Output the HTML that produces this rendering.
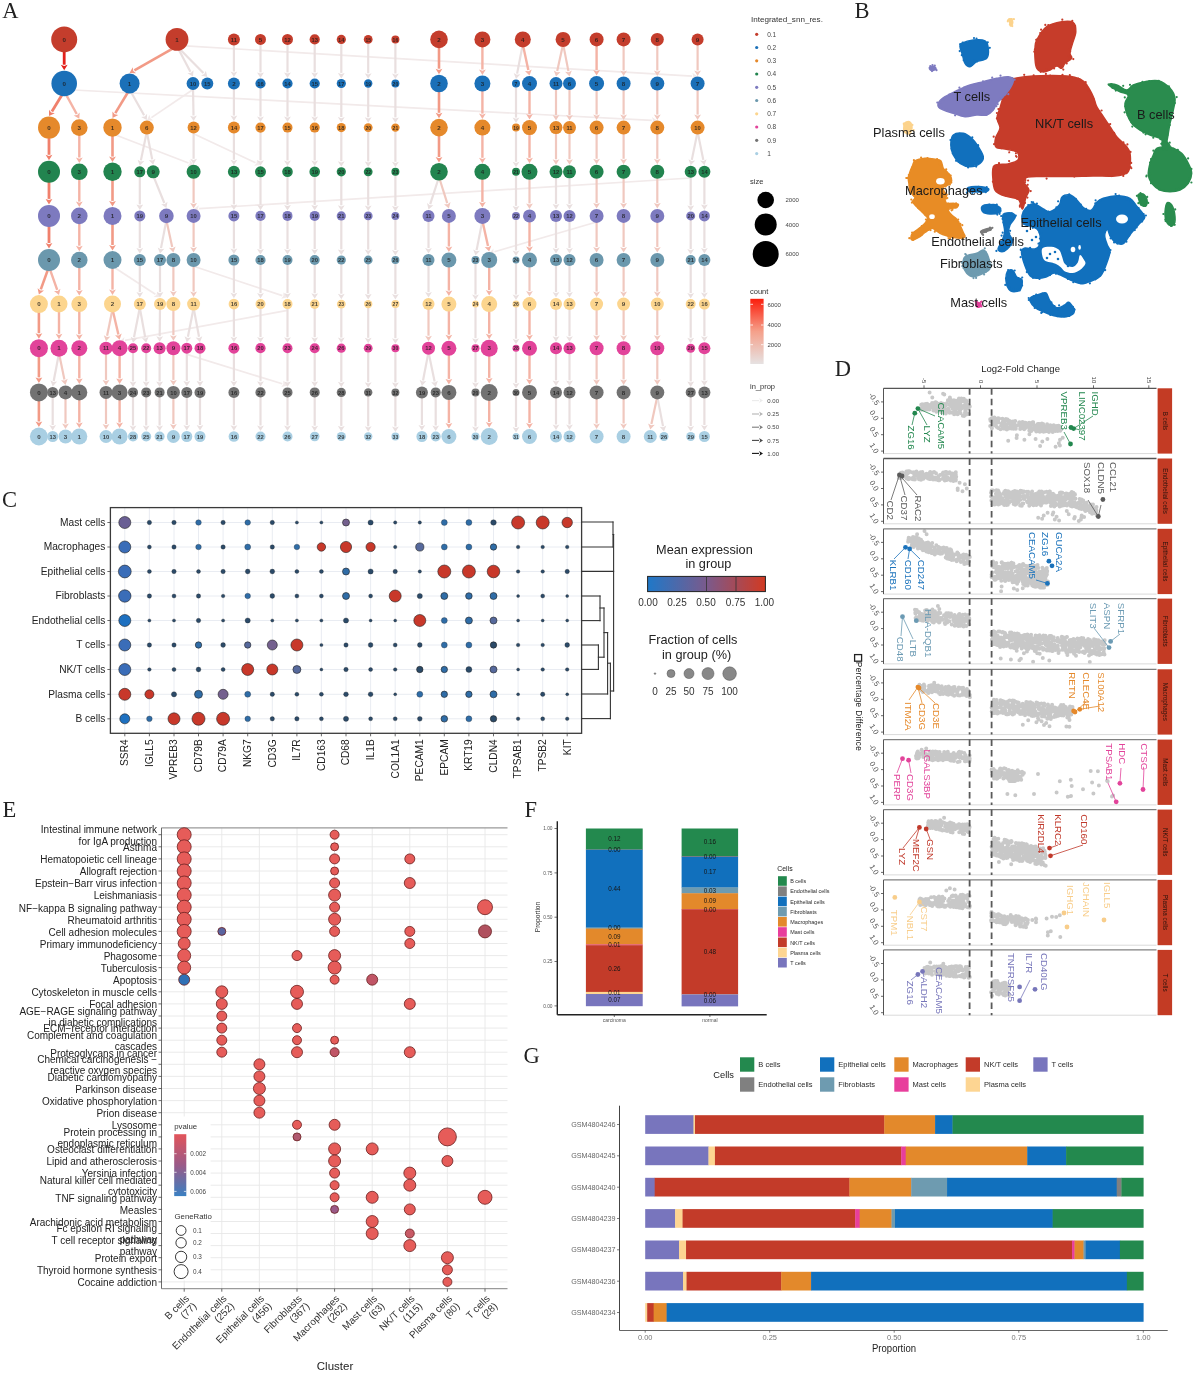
<!DOCTYPE html>
<html><head><meta charset="utf-8"><style>html,body{margin:0;padding:0;background:#fff;}svg{display:block;filter:blur(0.45px);}</style></head>
<body><svg width="1200" height="1384" viewBox="0 0 1200 1384" font-family="Liberation Sans, sans-serif">
<rect width="1200" height="1384" fill="#fff"/>
<g id="panelA">
<line x1="177.0" y1="45.4" x2="692.1" y2="76.2" stroke="#f2eaea" stroke-width="1.7"/><polygon points="697.6,76.5 691.9,79.6 693.3,76.2 692.3,72.8" fill="#f2eaea"/>
<line x1="64.2" y1="89.5" x2="651.8" y2="120.4" stroke="#f2eaea" stroke-width="1.7"/><polygon points="657.3,120.7 651.6,123.8 653.0,120.5 652.0,117.0" fill="#f2eaea"/>
<line x1="193.0" y1="89.5" x2="151.4" y2="117.6" stroke="#f2eaea" stroke-width="1.7"/><polygon points="146.8,120.7 149.4,114.8 150.4,118.3 153.3,120.4" fill="#f2eaea"/>
<line x1="112.5" y1="133.7" x2="188.5" y2="163.0" stroke="#f2eaea" stroke-width="1.7"/><polygon points="193.6,165.0 187.2,166.2 189.6,163.5 189.7,159.8" fill="#f2eaea"/>
<line x1="193.6" y1="133.7" x2="255.5" y2="162.7" stroke="#f2eaea" stroke-width="1.7"/><polygon points="260.5,165.0 254.1,165.8 256.6,163.2 257.0,159.6" fill="#f2eaea"/>
<line x1="690.7" y1="178.0" x2="199.1" y2="208.7" stroke="#f2eaea" stroke-width="1.7"/><polygon points="193.6,209.0 198.9,205.3 197.9,208.7 199.3,212.1" fill="#f2eaea"/>
<line x1="596.6" y1="222.0" x2="494.5" y2="251.7" stroke="#f2eaea" stroke-width="1.7"/><polygon points="489.2,253.2 493.5,248.4 493.3,252.0 495.4,254.9" fill="#f2eaea"/>
<line x1="112.5" y1="266.2" x2="155.4" y2="294.3" stroke="#f2eaea" stroke-width="1.7"/><polygon points="160.0,297.3 153.5,297.1 156.4,294.9 157.3,291.4" fill="#f2eaea"/>
<line x1="193.6" y1="266.2" x2="282.3" y2="295.6" stroke="#f2eaea" stroke-width="1.7"/><polygon points="287.5,297.3 281.2,298.8 283.4,295.9 283.4,292.3" fill="#f2eaea"/>
<line x1="287.5" y1="310.3" x2="125.0" y2="340.4" stroke="#f2eaea" stroke-width="1.7"/><polygon points="119.6,341.4 124.4,337.0 123.8,340.6 125.6,343.8" fill="#f2eaea"/>
<line x1="186.8" y1="354.4" x2="282.2" y2="383.8" stroke="#f2eaea" stroke-width="1.7"/><polygon points="287.5,385.4 281.2,387.0 283.4,384.1 283.2,380.5" fill="#f2eaea"/>
<line x1="64.2" y1="47.2" x2="64.2" y2="64.7" stroke="#e3201b" stroke-width="2.8"/><polygon points="64.2,70.2 60.8,64.7 64.2,65.9 67.6,64.7" fill="#e3201b"/>
<line x1="177.0" y1="46.2" x2="134.4" y2="70.3" stroke="#f29a86" stroke-width="2.6"/><polygon points="129.6,73.0 132.7,67.3 133.3,70.9 136.1,73.3" fill="#f29a86"/>
<line x1="177.0" y1="46.2" x2="190.4" y2="71.8" stroke="#e9dfdf" stroke-width="2.2"/><polygon points="193.0,76.6 187.4,73.3 191.0,72.8 193.5,70.2" fill="#e9dfdf"/>
<line x1="177.0" y1="46.2" x2="203.4" y2="73.1" stroke="#e9dfdf" stroke-width="2.2"/><polygon points="207.3,77.0 201.0,75.5 204.3,74.0 205.9,70.7" fill="#e9dfdf"/>
<line x1="233.9" y1="43.0" x2="233.9" y2="71.5" stroke="#e9dfdf" stroke-width="2.2"/><polygon points="233.9,77.0 230.5,71.5 233.9,72.7 237.3,71.5" fill="#e9dfdf"/>
<line x1="260.5" y1="42.7" x2="260.5" y2="72.4" stroke="#e9dfdf" stroke-width="2.2"/><polygon points="260.5,77.9 257.1,72.4 260.5,73.6 263.9,72.4" fill="#e9dfdf"/>
<line x1="287.5" y1="42.7" x2="287.5" y2="72.4" stroke="#e9dfdf" stroke-width="2.2"/><polygon points="287.5,77.9 284.1,72.4 287.5,73.6 290.9,72.4" fill="#e9dfdf"/>
<line x1="314.7" y1="42.5" x2="314.7" y2="72.4" stroke="#e9dfdf" stroke-width="2.2"/><polygon points="314.7,77.9 311.3,72.4 314.7,73.6 318.1,72.4" fill="#e9dfdf"/>
<line x1="341.3" y1="42.2" x2="341.3" y2="72.9" stroke="#e9dfdf" stroke-width="2.2"/><polygon points="341.3,78.4 337.9,72.9 341.3,74.1 344.7,72.9" fill="#e9dfdf"/>
<line x1="368.2" y1="42.0" x2="368.2" y2="73.3" stroke="#e9dfdf" stroke-width="2.2"/><polygon points="368.2,78.8 364.8,73.3 368.2,74.5 371.6,73.3" fill="#e9dfdf"/>
<line x1="395.4" y1="41.8" x2="395.4" y2="73.5" stroke="#e9dfdf" stroke-width="2.2"/><polygon points="395.4,79.0 392.0,73.5 395.4,74.7 398.8,73.5" fill="#e9dfdf"/>
<line x1="439.0" y1="44.7" x2="439.0" y2="68.7" stroke="#f29a86" stroke-width="2.6"/><polygon points="439.0,74.2 435.6,68.7 439.0,69.9 442.4,68.7" fill="#f29a86"/>
<line x1="482.4" y1="44.2" x2="482.4" y2="69.5" stroke="#f4b3a5" stroke-width="2.4"/><polygon points="482.4,75.0 479.0,69.5 482.4,70.7 485.8,69.5" fill="#f4b3a5"/>
<line x1="522.8" y1="44.2" x2="517.1" y2="73.6" stroke="#e9dfdf" stroke-width="2.2"/><polygon points="516.0,79.0 513.7,73.0 516.8,74.8 520.4,74.3" fill="#e9dfdf"/>
<line x1="522.8" y1="44.2" x2="528.3" y2="70.1" stroke="#f4b3a5" stroke-width="2.4"/><polygon points="529.5,75.5 525.0,70.9 528.6,71.3 531.7,69.4" fill="#f4b3a5"/>
<line x1="563.1" y1="43.9" x2="557.2" y2="71.1" stroke="#f0c8bf" stroke-width="2.2"/><polygon points="556.0,76.5 553.8,70.4 556.9,72.3 560.5,71.9" fill="#f0c8bf"/>
<line x1="563.1" y1="43.9" x2="568.4" y2="71.1" stroke="#f0c8bf" stroke-width="2.2"/><polygon points="569.5,76.5 565.1,71.8 568.7,72.3 571.8,70.5" fill="#f0c8bf"/>
<line x1="596.6" y1="43.6" x2="596.6" y2="70.0" stroke="#f4b3a5" stroke-width="2.4"/><polygon points="596.6,75.5 593.2,70.0 596.6,71.2 600.0,70.0" fill="#f4b3a5"/>
<line x1="623.6" y1="43.6" x2="623.6" y2="70.5" stroke="#f0c8bf" stroke-width="2.2"/><polygon points="623.6,76.0 620.2,70.5 623.6,71.7 627.0,70.5" fill="#f0c8bf"/>
<line x1="657.3" y1="43.3" x2="657.3" y2="70.5" stroke="#f0c8bf" stroke-width="2.2"/><polygon points="657.3,76.0 653.9,70.5 657.3,71.7 660.7,70.5" fill="#f0c8bf"/>
<line x1="697.6" y1="43.0" x2="697.6" y2="70.5" stroke="#f0c8bf" stroke-width="2.2"/><polygon points="697.6,76.0 694.2,70.5 697.6,71.7 701.0,70.5" fill="#f0c8bf"/>
<line x1="64.2" y1="91.2" x2="51.9" y2="111.4" stroke="#f0806c" stroke-width="2.8"/><polygon points="49.0,116.1 49.0,109.7 51.2,112.5 54.8,113.2" fill="#f0806c"/>
<line x1="64.2" y1="91.2" x2="76.7" y2="114.0" stroke="#f4b3a5" stroke-width="2.4"/><polygon points="79.3,118.8 73.7,115.6 77.2,115.1 79.7,112.4" fill="#f4b3a5"/>
<line x1="129.6" y1="89.5" x2="115.3" y2="113.2" stroke="#f29a86" stroke-width="2.6"/><polygon points="112.5,117.9 112.4,111.5 114.7,114.3 118.3,115.0" fill="#f29a86"/>
<line x1="129.6" y1="89.5" x2="144.1" y2="115.3" stroke="#e9dfdf" stroke-width="2.2"/><polygon points="146.8,120.1 141.1,117.0 144.7,116.4 147.1,113.7" fill="#e9dfdf"/>
<line x1="193.0" y1="87.4" x2="193.5" y2="115.6" stroke="#e9dfdf" stroke-width="2.2"/><polygon points="193.6,121.1 190.1,115.7 193.5,116.8 196.9,115.6" fill="#e9dfdf"/>
<line x1="233.9" y1="87.1" x2="233.9" y2="115.6" stroke="#e9dfdf" stroke-width="2.2"/><polygon points="233.9,121.1 230.5,115.6 233.9,116.8 237.3,115.6" fill="#e9dfdf"/>
<line x1="260.5" y1="86.6" x2="260.5" y2="116.5" stroke="#e9dfdf" stroke-width="2.2"/><polygon points="260.5,122.0 257.1,116.5 260.5,117.7 263.9,116.5" fill="#e9dfdf"/>
<line x1="287.5" y1="86.6" x2="287.5" y2="116.6" stroke="#e9dfdf" stroke-width="2.2"/><polygon points="287.5,122.1 284.1,116.6 287.5,117.8 290.9,116.6" fill="#e9dfdf"/>
<line x1="314.7" y1="86.6" x2="314.7" y2="116.6" stroke="#e9dfdf" stroke-width="2.2"/><polygon points="314.7,122.1 311.3,116.6 314.7,117.8 318.1,116.6" fill="#e9dfdf"/>
<line x1="341.3" y1="86.3" x2="341.3" y2="117.0" stroke="#e9dfdf" stroke-width="2.2"/><polygon points="341.3,122.5 337.9,117.0 341.3,118.2 344.7,117.0" fill="#e9dfdf"/>
<line x1="368.2" y1="86.0" x2="368.2" y2="117.2" stroke="#e9dfdf" stroke-width="2.2"/><polygon points="368.2,122.7 364.8,117.2 368.2,118.4 371.6,117.2" fill="#e9dfdf"/>
<line x1="395.4" y1="85.9" x2="395.4" y2="117.4" stroke="#e9dfdf" stroke-width="2.2"/><polygon points="395.4,122.9 392.0,117.4 395.4,118.6 398.8,117.4" fill="#e9dfdf"/>
<line x1="439.0" y1="88.8" x2="439.0" y2="112.8" stroke="#f29a86" stroke-width="2.6"/><polygon points="439.0,118.3 435.6,112.8 439.0,114.0 442.4,112.8" fill="#f29a86"/>
<line x1="482.4" y1="88.3" x2="482.4" y2="113.6" stroke="#f4b3a5" stroke-width="2.4"/><polygon points="482.4,119.1 479.0,113.6 482.4,114.8 485.8,113.6" fill="#f4b3a5"/>
<line x1="516.0" y1="85.9" x2="516.0" y2="117.6" stroke="#e9dfdf" stroke-width="2.2"/><polygon points="516.0,123.1 512.6,117.6 516.0,118.8 519.4,117.6" fill="#e9dfdf"/>
<line x1="529.5" y1="88.0" x2="529.5" y2="114.1" stroke="#f4b3a5" stroke-width="2.4"/><polygon points="529.5,119.6 526.1,114.1 529.5,115.3 532.9,114.1" fill="#f4b3a5"/>
<line x1="556.0" y1="87.4" x2="556.0" y2="115.1" stroke="#f0c8bf" stroke-width="2.2"/><polygon points="556.0,120.6 552.6,115.1 556.0,116.3 559.4,115.1" fill="#f0c8bf"/>
<line x1="569.5" y1="87.4" x2="569.5" y2="115.1" stroke="#f0c8bf" stroke-width="2.2"/><polygon points="569.5,120.6 566.1,115.1 569.5,116.3 572.9,115.1" fill="#f0c8bf"/>
<line x1="596.6" y1="88.0" x2="596.6" y2="114.6" stroke="#f0c8bf" stroke-width="2.2"/><polygon points="596.6,120.1 593.2,114.6 596.6,115.8 600.0,114.6" fill="#f0c8bf"/>
<line x1="623.6" y1="87.7" x2="623.6" y2="114.6" stroke="#f0c8bf" stroke-width="2.2"/><polygon points="623.6,120.1 620.2,114.6 623.6,115.8 627.0,114.6" fill="#f0c8bf"/>
<line x1="657.3" y1="87.7" x2="657.3" y2="114.6" stroke="#f0c8bf" stroke-width="2.2"/><polygon points="657.3,120.1 653.9,114.6 657.3,115.8 660.7,114.6" fill="#f0c8bf"/>
<line x1="697.6" y1="87.7" x2="697.6" y2="114.6" stroke="#f0c8bf" stroke-width="2.2"/><polygon points="697.6,120.1 694.2,114.6 697.6,115.8 701.0,114.6" fill="#f0c8bf"/>
<line x1="49.0" y1="134.2" x2="49.0" y2="154.8" stroke="#f0806c" stroke-width="2.8"/><polygon points="49.0,160.3 45.6,154.8 49.0,156.0 52.4,154.8" fill="#f0806c"/>
<line x1="79.3" y1="132.6" x2="79.3" y2="157.5" stroke="#f4b3a5" stroke-width="2.4"/><polygon points="79.3,163.0 75.9,157.5 79.3,158.7 82.7,157.5" fill="#f4b3a5"/>
<line x1="112.5" y1="133.2" x2="112.5" y2="156.6" stroke="#f29a86" stroke-width="2.6"/><polygon points="112.5,162.1 109.1,156.6 112.5,157.8 115.9,156.6" fill="#f29a86"/>
<line x1="146.8" y1="131.8" x2="140.9" y2="160.4" stroke="#e9dfdf" stroke-width="2.2"/><polygon points="139.8,165.8 137.6,159.7 140.7,161.5 144.3,161.1" fill="#e9dfdf"/>
<line x1="146.8" y1="131.8" x2="152.2" y2="159.4" stroke="#e9dfdf" stroke-width="2.2"/><polygon points="153.2,164.8 148.8,160.0 152.4,160.5 155.5,158.7" fill="#e9dfdf"/>
<line x1="193.6" y1="131.2" x2="193.6" y2="158.8" stroke="#e9dfdf" stroke-width="2.2"/><polygon points="193.6,164.3 190.2,158.8 193.6,160.0 197.0,158.8" fill="#e9dfdf"/>
<line x1="233.9" y1="131.2" x2="233.9" y2="159.8" stroke="#e9dfdf" stroke-width="2.2"/><polygon points="233.9,165.3 230.5,159.8 233.9,161.0 237.3,159.8" fill="#e9dfdf"/>
<line x1="260.5" y1="130.7" x2="260.5" y2="160.3" stroke="#e9dfdf" stroke-width="2.2"/><polygon points="260.5,165.8 257.1,160.3 260.5,161.5 263.9,160.3" fill="#e9dfdf"/>
<line x1="287.5" y1="130.6" x2="287.5" y2="160.5" stroke="#e9dfdf" stroke-width="2.2"/><polygon points="287.5,166.0 284.1,160.5 287.5,161.7 290.9,160.5" fill="#e9dfdf"/>
<line x1="314.7" y1="130.6" x2="314.7" y2="160.5" stroke="#e9dfdf" stroke-width="2.2"/><polygon points="314.7,166.0 311.3,160.5 314.7,161.7 318.1,160.5" fill="#e9dfdf"/>
<line x1="341.3" y1="130.4" x2="341.3" y2="161.2" stroke="#e9dfdf" stroke-width="2.2"/><polygon points="341.3,166.7 337.9,161.2 341.3,162.4 344.7,161.2" fill="#e9dfdf"/>
<line x1="368.2" y1="130.3" x2="368.2" y2="161.4" stroke="#e9dfdf" stroke-width="2.2"/><polygon points="368.2,166.9 364.8,161.4 368.2,162.6 371.6,161.4" fill="#e9dfdf"/>
<line x1="395.4" y1="130.2" x2="395.4" y2="161.8" stroke="#e9dfdf" stroke-width="2.2"/><polygon points="395.4,167.3 392.0,161.8 395.4,163.0 398.8,161.8" fill="#e9dfdf"/>
<line x1="439.0" y1="132.9" x2="439.0" y2="157.0" stroke="#f29a86" stroke-width="2.6"/><polygon points="439.0,162.5 435.6,157.0 439.0,158.2 442.4,157.0" fill="#f29a86"/>
<line x1="482.4" y1="132.4" x2="482.4" y2="157.8" stroke="#f4b3a5" stroke-width="2.4"/><polygon points="482.4,163.3 479.0,157.8 482.4,159.0 485.8,157.8" fill="#f4b3a5"/>
<line x1="516.0" y1="130.0" x2="516.0" y2="161.8" stroke="#e9dfdf" stroke-width="2.2"/><polygon points="516.0,167.3 512.6,161.8 516.0,163.0 519.4,161.8" fill="#e9dfdf"/>
<line x1="529.5" y1="132.1" x2="529.5" y2="157.8" stroke="#f4b3a5" stroke-width="2.4"/><polygon points="529.5,163.3 526.1,157.8 529.5,159.0 532.9,157.8" fill="#f4b3a5"/>
<line x1="556.0" y1="131.5" x2="556.0" y2="159.3" stroke="#f0c8bf" stroke-width="2.2"/><polygon points="556.0,164.8 552.6,159.3 556.0,160.5 559.4,159.3" fill="#f0c8bf"/>
<line x1="569.5" y1="131.5" x2="569.5" y2="159.3" stroke="#f0c8bf" stroke-width="2.2"/><polygon points="569.5,164.8 566.1,159.3 569.5,160.5 572.9,159.3" fill="#f0c8bf"/>
<line x1="596.6" y1="131.8" x2="596.6" y2="158.8" stroke="#f0c8bf" stroke-width="2.2"/><polygon points="596.6,164.3 593.2,158.8 596.6,160.0 600.0,158.8" fill="#f0c8bf"/>
<line x1="623.6" y1="131.8" x2="623.6" y2="158.8" stroke="#f0c8bf" stroke-width="2.2"/><polygon points="623.6,164.3 620.2,158.8 623.6,160.0 627.0,158.8" fill="#f0c8bf"/>
<line x1="657.3" y1="131.8" x2="657.3" y2="158.8" stroke="#f0c8bf" stroke-width="2.2"/><polygon points="657.3,164.3 653.9,158.8 657.3,160.0 660.7,158.8" fill="#f0c8bf"/>
<line x1="697.6" y1="131.8" x2="691.8" y2="159.9" stroke="#e9dfdf" stroke-width="2.2"/><polygon points="690.7,165.3 688.5,159.2 691.6,161.0 695.2,160.6" fill="#e9dfdf"/>
<line x1="697.6" y1="131.8" x2="703.3" y2="159.9" stroke="#e9dfdf" stroke-width="2.2"/><polygon points="704.4,165.3 700.0,160.6 703.5,161.0 706.6,159.2" fill="#e9dfdf"/>
<line x1="49.0" y1="178.4" x2="49.0" y2="198.9" stroke="#f0806c" stroke-width="2.8"/><polygon points="49.0,204.4 45.6,198.9 49.0,200.1 52.4,198.9" fill="#f0806c"/>
<line x1="79.3" y1="176.7" x2="79.3" y2="201.6" stroke="#f4b3a5" stroke-width="2.4"/><polygon points="79.3,207.1 75.9,201.6 79.3,202.8 82.7,201.6" fill="#f4b3a5"/>
<line x1="112.5" y1="177.3" x2="112.5" y2="200.9" stroke="#f29a86" stroke-width="2.6"/><polygon points="112.5,206.4 109.1,200.9 112.5,202.1 115.9,200.9" fill="#f29a86"/>
<line x1="139.8" y1="175.1" x2="139.8" y2="204.4" stroke="#e9dfdf" stroke-width="2.2"/><polygon points="139.8,209.9 136.4,204.4 139.8,205.6 143.2,204.4" fill="#e9dfdf"/>
<line x1="153.2" y1="175.7" x2="164.3" y2="203.0" stroke="#e9dfdf" stroke-width="2.2"/><polygon points="166.4,208.1 161.2,204.3 164.8,204.1 167.5,201.7" fill="#e9dfdf"/>
<line x1="193.6" y1="176.0" x2="193.6" y2="202.9" stroke="#f0c8bf" stroke-width="2.2"/><polygon points="193.6,208.4 190.2,202.9 193.6,204.1 197.0,202.9" fill="#f0c8bf"/>
<line x1="233.9" y1="175.4" x2="233.9" y2="204.4" stroke="#e9dfdf" stroke-width="2.2"/><polygon points="233.9,209.9 230.5,204.4 233.9,205.6 237.3,204.4" fill="#e9dfdf"/>
<line x1="260.5" y1="175.1" x2="260.5" y2="204.8" stroke="#e9dfdf" stroke-width="2.2"/><polygon points="260.5,210.3 257.1,204.8 260.5,206.0 263.9,204.8" fill="#e9dfdf"/>
<line x1="287.5" y1="174.9" x2="287.5" y2="204.9" stroke="#e9dfdf" stroke-width="2.2"/><polygon points="287.5,210.4 284.1,204.9 287.5,206.1 290.9,204.9" fill="#e9dfdf"/>
<line x1="314.7" y1="174.9" x2="314.7" y2="204.9" stroke="#e9dfdf" stroke-width="2.2"/><polygon points="314.7,210.4 311.3,204.9 314.7,206.1 318.1,204.9" fill="#e9dfdf"/>
<line x1="341.3" y1="174.5" x2="341.3" y2="205.3" stroke="#e9dfdf" stroke-width="2.2"/><polygon points="341.3,210.8 337.9,205.3 341.3,206.5 344.7,205.3" fill="#e9dfdf"/>
<line x1="368.2" y1="174.4" x2="368.2" y2="205.5" stroke="#e9dfdf" stroke-width="2.2"/><polygon points="368.2,211.0 364.8,205.5 368.2,206.7 371.6,205.5" fill="#e9dfdf"/>
<line x1="395.4" y1="174.2" x2="395.4" y2="205.9" stroke="#e9dfdf" stroke-width="2.2"/><polygon points="395.4,211.4 392.0,205.9 395.4,207.1 398.8,205.9" fill="#e9dfdf"/>
<line x1="439.0" y1="177.0" x2="430.2" y2="204.1" stroke="#e9dfdf" stroke-width="2.2"/><polygon points="428.5,209.4 427.0,203.1 429.8,205.3 433.4,205.2" fill="#e9dfdf"/>
<line x1="439.0" y1="177.0" x2="447.2" y2="203.1" stroke="#f0c8bf" stroke-width="2.2"/><polygon points="448.9,208.4 444.0,204.2 447.6,204.3 450.5,202.1" fill="#f0c8bf"/>
<line x1="482.4" y1="176.6" x2="482.4" y2="201.9" stroke="#f4b3a5" stroke-width="2.4"/><polygon points="482.4,207.4 479.0,201.9 482.4,203.1 485.8,201.9" fill="#f4b3a5"/>
<line x1="516.0" y1="174.2" x2="516.0" y2="205.9" stroke="#e9dfdf" stroke-width="2.2"/><polygon points="516.0,211.4 512.6,205.9 516.0,207.1 519.4,205.9" fill="#e9dfdf"/>
<line x1="529.5" y1="176.6" x2="529.5" y2="203.4" stroke="#f0c8bf" stroke-width="2.2"/><polygon points="529.5,208.9 526.1,203.4 529.5,204.6 532.9,203.4" fill="#f0c8bf"/>
<line x1="556.0" y1="175.7" x2="556.0" y2="203.9" stroke="#e9dfdf" stroke-width="2.2"/><polygon points="556.0,209.4 552.6,203.9 556.0,205.1 559.4,203.9" fill="#e9dfdf"/>
<line x1="569.5" y1="175.7" x2="569.5" y2="203.9" stroke="#e9dfdf" stroke-width="2.2"/><polygon points="569.5,209.4 566.1,203.9 569.5,205.1 572.9,203.9" fill="#e9dfdf"/>
<line x1="596.6" y1="176.0" x2="596.6" y2="202.9" stroke="#f0c8bf" stroke-width="2.2"/><polygon points="596.6,208.4 593.2,202.9 596.6,204.1 600.0,202.9" fill="#f0c8bf"/>
<line x1="623.6" y1="176.0" x2="623.6" y2="202.9" stroke="#f0c8bf" stroke-width="2.2"/><polygon points="623.6,208.4 620.2,202.9 623.6,204.1 627.0,202.9" fill="#f0c8bf"/>
<line x1="657.3" y1="176.0" x2="657.3" y2="202.9" stroke="#f0c8bf" stroke-width="2.2"/><polygon points="657.3,208.4 653.9,202.9 657.3,204.1 660.7,202.9" fill="#f0c8bf"/>
<line x1="690.7" y1="175.4" x2="690.7" y2="205.4" stroke="#e9dfdf" stroke-width="2.2"/><polygon points="690.7,210.9 687.3,205.4 690.7,206.6 694.1,205.4" fill="#e9dfdf"/>
<line x1="704.4" y1="175.4" x2="704.4" y2="204.4" stroke="#e9dfdf" stroke-width="2.2"/><polygon points="704.4,209.9 701.0,204.4 704.4,205.6 707.8,204.4" fill="#e9dfdf"/>
<line x1="49.0" y1="222.5" x2="49.0" y2="243.0" stroke="#f0806c" stroke-width="2.8"/><polygon points="49.0,248.5 45.6,243.0 49.0,244.2 52.4,243.0" fill="#f0806c"/>
<line x1="79.3" y1="220.9" x2="79.3" y2="245.7" stroke="#f4b3a5" stroke-width="2.4"/><polygon points="79.3,251.2 75.9,245.7 79.3,246.9 82.7,245.7" fill="#f4b3a5"/>
<line x1="112.5" y1="221.3" x2="112.5" y2="245.0" stroke="#f29a86" stroke-width="2.6"/><polygon points="112.5,250.5 109.1,245.0 112.5,246.2 115.9,245.0" fill="#f29a86"/>
<line x1="139.8" y1="219.2" x2="139.8" y2="248.0" stroke="#e9dfdf" stroke-width="2.2"/><polygon points="139.8,253.5 136.4,248.0 139.8,249.2 143.2,248.0" fill="#e9dfdf"/>
<line x1="166.4" y1="220.3" x2="161.0" y2="248.1" stroke="#e9dfdf" stroke-width="2.2"/><polygon points="160.0,253.5 157.7,247.5 160.8,249.3 164.4,248.7" fill="#e9dfdf"/>
<line x1="166.4" y1="220.3" x2="172.2" y2="247.1" stroke="#f0c8bf" stroke-width="2.2"/><polygon points="173.4,252.5 168.9,247.8 172.5,248.3 175.6,246.4" fill="#f0c8bf"/>
<line x1="193.6" y1="220.1" x2="193.6" y2="247.0" stroke="#f0c8bf" stroke-width="2.2"/><polygon points="193.6,252.5 190.2,247.0 193.6,248.2 197.0,247.0" fill="#f0c8bf"/>
<line x1="233.9" y1="219.2" x2="233.9" y2="248.5" stroke="#e9dfdf" stroke-width="2.2"/><polygon points="233.9,254.0 230.5,248.5 233.9,249.7 237.3,248.5" fill="#e9dfdf"/>
<line x1="260.5" y1="218.9" x2="260.5" y2="248.9" stroke="#e9dfdf" stroke-width="2.2"/><polygon points="260.5,254.4 257.1,248.9 260.5,250.1 263.9,248.9" fill="#e9dfdf"/>
<line x1="287.5" y1="218.9" x2="287.5" y2="249.0" stroke="#e9dfdf" stroke-width="2.2"/><polygon points="287.5,254.5 284.1,249.0 287.5,250.2 290.9,249.0" fill="#e9dfdf"/>
<line x1="314.7" y1="218.9" x2="314.7" y2="249.0" stroke="#e9dfdf" stroke-width="2.2"/><polygon points="314.7,254.5 311.3,249.0 314.7,250.2 318.1,249.0" fill="#e9dfdf"/>
<line x1="341.3" y1="218.6" x2="341.3" y2="249.4" stroke="#e9dfdf" stroke-width="2.2"/><polygon points="341.3,254.9 337.9,249.4 341.3,250.6 344.7,249.4" fill="#e9dfdf"/>
<line x1="368.2" y1="218.5" x2="368.2" y2="249.6" stroke="#e9dfdf" stroke-width="2.2"/><polygon points="368.2,255.1 364.8,249.6 368.2,250.8 371.6,249.6" fill="#e9dfdf"/>
<line x1="395.4" y1="218.3" x2="395.4" y2="250.0" stroke="#e9dfdf" stroke-width="2.2"/><polygon points="395.4,255.5 392.0,250.0 395.4,251.2 398.8,250.0" fill="#e9dfdf"/>
<line x1="428.5" y1="219.5" x2="428.5" y2="248.0" stroke="#e9dfdf" stroke-width="2.2"/><polygon points="428.5,253.5 425.1,248.0 428.5,249.2 431.9,248.0" fill="#e9dfdf"/>
<line x1="448.9" y1="220.1" x2="448.9" y2="246.5" stroke="#f4b3a5" stroke-width="2.4"/><polygon points="448.9,252.0 445.5,246.5 448.9,247.7 452.3,246.5" fill="#f4b3a5"/>
<line x1="482.4" y1="220.7" x2="476.6" y2="250.1" stroke="#e9dfdf" stroke-width="2.2"/><polygon points="475.5,255.5 473.2,249.4 476.3,251.3 479.9,250.8" fill="#e9dfdf"/>
<line x1="482.4" y1="220.7" x2="488.0" y2="246.1" stroke="#f4b3a5" stroke-width="2.4"/><polygon points="489.2,251.5 484.7,246.9 488.3,247.3 491.3,245.4" fill="#f4b3a5"/>
<line x1="516.0" y1="218.3" x2="516.0" y2="250.5" stroke="#e9dfdf" stroke-width="2.2"/><polygon points="516.0,256.0 512.6,250.5 516.0,251.7 519.4,250.5" fill="#e9dfdf"/>
<line x1="529.5" y1="219.8" x2="529.5" y2="246.5" stroke="#f4b3a5" stroke-width="2.4"/><polygon points="529.5,252.0 526.1,246.5 529.5,247.7 532.9,246.5" fill="#f4b3a5"/>
<line x1="556.0" y1="219.5" x2="556.0" y2="248.0" stroke="#e9dfdf" stroke-width="2.2"/><polygon points="556.0,253.5 552.6,248.0 556.0,249.2 559.4,248.0" fill="#e9dfdf"/>
<line x1="569.5" y1="219.5" x2="569.5" y2="248.0" stroke="#e9dfdf" stroke-width="2.2"/><polygon points="569.5,253.5 566.1,248.0 569.5,249.2 572.9,248.0" fill="#e9dfdf"/>
<line x1="596.6" y1="220.1" x2="596.6" y2="247.0" stroke="#f0c8bf" stroke-width="2.2"/><polygon points="596.6,252.5 593.2,247.0 596.6,248.2 600.0,247.0" fill="#f0c8bf"/>
<line x1="623.6" y1="220.1" x2="623.6" y2="247.0" stroke="#f0c8bf" stroke-width="2.2"/><polygon points="623.6,252.5 620.2,247.0 623.6,248.2 627.0,247.0" fill="#f0c8bf"/>
<line x1="657.3" y1="220.1" x2="657.3" y2="247.0" stroke="#f0c8bf" stroke-width="2.2"/><polygon points="657.3,252.5 653.9,247.0 657.3,248.2 660.7,247.0" fill="#f0c8bf"/>
<line x1="690.7" y1="218.6" x2="690.7" y2="249.0" stroke="#e9dfdf" stroke-width="2.2"/><polygon points="690.7,254.5 687.3,249.0 690.7,250.2 694.1,249.0" fill="#e9dfdf"/>
<line x1="704.4" y1="219.2" x2="704.4" y2="248.0" stroke="#e9dfdf" stroke-width="2.2"/><polygon points="704.4,253.5 701.0,248.0 704.4,249.2 707.8,248.0" fill="#e9dfdf"/>
<line x1="49.0" y1="266.6" x2="40.8" y2="289.4" stroke="#f29a86" stroke-width="2.6"/><polygon points="38.9,294.6 37.6,288.3 40.4,290.6 44.0,290.6" fill="#f29a86"/>
<line x1="49.0" y1="266.6" x2="57.2" y2="289.9" stroke="#f4b3a5" stroke-width="2.4"/><polygon points="59.0,295.1 54.0,291.1 57.6,291.1 60.4,288.8" fill="#f4b3a5"/>
<line x1="79.3" y1="265.0" x2="79.3" y2="290.1" stroke="#f4b3a5" stroke-width="2.4"/><polygon points="79.3,295.6 75.9,290.1 79.3,291.3 82.7,290.1" fill="#f4b3a5"/>
<line x1="112.5" y1="265.4" x2="112.5" y2="289.6" stroke="#f4b3a5" stroke-width="2.4"/><polygon points="112.5,295.1 109.1,289.6 112.5,290.8 115.9,289.6" fill="#f4b3a5"/>
<line x1="139.8" y1="263.6" x2="139.8" y2="292.1" stroke="#e9dfdf" stroke-width="2.2"/><polygon points="139.8,297.6 136.4,292.1 139.8,293.3 143.2,292.1" fill="#e9dfdf"/>
<line x1="160.0" y1="263.6" x2="160.0" y2="292.1" stroke="#e9dfdf" stroke-width="2.2"/><polygon points="160.0,297.6 156.6,292.1 160.0,293.3 163.4,292.1" fill="#e9dfdf"/>
<line x1="173.4" y1="264.2" x2="173.4" y2="291.1" stroke="#f0c8bf" stroke-width="2.2"/><polygon points="173.4,296.6 170.0,291.1 173.4,292.3 176.8,291.1" fill="#f0c8bf"/>
<line x1="193.6" y1="264.2" x2="193.6" y2="291.6" stroke="#f0c8bf" stroke-width="2.2"/><polygon points="193.6,297.1 190.2,291.6 193.6,292.8 197.0,291.6" fill="#f0c8bf"/>
<line x1="233.9" y1="263.3" x2="233.9" y2="292.8" stroke="#e9dfdf" stroke-width="2.2"/><polygon points="233.9,298.3 230.5,292.8 233.9,294.0 237.3,292.8" fill="#e9dfdf"/>
<line x1="260.5" y1="263.1" x2="260.5" y2="293.1" stroke="#e9dfdf" stroke-width="2.2"/><polygon points="260.5,298.6 257.1,293.1 260.5,294.3 263.9,293.1" fill="#e9dfdf"/>
<line x1="287.5" y1="263.0" x2="287.5" y2="293.1" stroke="#e9dfdf" stroke-width="2.2"/><polygon points="287.5,298.6 284.1,293.1 287.5,294.3 290.9,293.1" fill="#e9dfdf"/>
<line x1="314.7" y1="263.0" x2="314.7" y2="293.3" stroke="#e9dfdf" stroke-width="2.2"/><polygon points="314.7,298.8 311.3,293.3 314.7,294.5 318.1,293.3" fill="#e9dfdf"/>
<line x1="341.3" y1="262.8" x2="341.3" y2="293.7" stroke="#e9dfdf" stroke-width="2.2"/><polygon points="341.3,299.2 337.9,293.7 341.3,294.9 344.7,293.7" fill="#e9dfdf"/>
<line x1="368.2" y1="262.6" x2="368.2" y2="293.9" stroke="#e9dfdf" stroke-width="2.2"/><polygon points="368.2,299.4 364.8,293.9 368.2,295.1 371.6,293.9" fill="#e9dfdf"/>
<line x1="395.4" y1="262.4" x2="395.4" y2="294.1" stroke="#e9dfdf" stroke-width="2.2"/><polygon points="395.4,299.6 392.0,294.1 395.4,295.3 398.8,294.1" fill="#e9dfdf"/>
<line x1="428.5" y1="263.6" x2="428.5" y2="292.1" stroke="#e9dfdf" stroke-width="2.2"/><polygon points="428.5,297.6 425.1,292.1 428.5,293.3 431.9,292.1" fill="#e9dfdf"/>
<line x1="448.9" y1="264.5" x2="448.9" y2="290.6" stroke="#f4b3a5" stroke-width="2.4"/><polygon points="448.9,296.1 445.5,290.6 448.9,291.8 452.3,290.6" fill="#f4b3a5"/>
<line x1="475.5" y1="262.4" x2="475.5" y2="294.6" stroke="#e9dfdf" stroke-width="2.2"/><polygon points="475.5,300.1 472.1,294.6 475.5,295.8 478.9,294.6" fill="#e9dfdf"/>
<line x1="489.2" y1="264.8" x2="489.2" y2="290.1" stroke="#f4b3a5" stroke-width="2.4"/><polygon points="489.2,295.6 485.8,290.1 489.2,291.3 492.6,290.1" fill="#f4b3a5"/>
<line x1="516.0" y1="262.1" x2="516.0" y2="294.6" stroke="#e9dfdf" stroke-width="2.2"/><polygon points="516.0,300.1 512.6,294.6 516.0,295.8 519.4,294.6" fill="#e9dfdf"/>
<line x1="529.5" y1="264.5" x2="529.5" y2="291.1" stroke="#f0c8bf" stroke-width="2.2"/><polygon points="529.5,296.6 526.1,291.1 529.5,292.3 532.9,291.1" fill="#f0c8bf"/>
<line x1="556.0" y1="263.6" x2="556.0" y2="292.1" stroke="#e9dfdf" stroke-width="2.2"/><polygon points="556.0,297.6 552.6,292.1 556.0,293.3 559.4,292.1" fill="#e9dfdf"/>
<line x1="569.5" y1="263.6" x2="569.5" y2="292.1" stroke="#e9dfdf" stroke-width="2.2"/><polygon points="569.5,297.6 566.1,292.1 569.5,293.3 572.9,292.1" fill="#e9dfdf"/>
<line x1="596.6" y1="264.2" x2="596.6" y2="291.6" stroke="#f0c8bf" stroke-width="2.2"/><polygon points="596.6,297.1 593.2,291.6 596.6,292.8 600.0,291.6" fill="#f0c8bf"/>
<line x1="623.6" y1="264.2" x2="623.6" y2="291.6" stroke="#f0c8bf" stroke-width="2.2"/><polygon points="623.6,297.1 620.2,291.6 623.6,292.8 627.0,291.6" fill="#f0c8bf"/>
<line x1="657.3" y1="264.2" x2="657.3" y2="291.6" stroke="#f0c8bf" stroke-width="2.2"/><polygon points="657.3,297.1 653.9,291.6 657.3,292.8 660.7,291.6" fill="#f0c8bf"/>
<line x1="690.7" y1="263.0" x2="690.7" y2="293.1" stroke="#e9dfdf" stroke-width="2.2"/><polygon points="690.7,298.6 687.3,293.1 690.7,294.3 694.1,293.1" fill="#e9dfdf"/>
<line x1="704.4" y1="263.6" x2="704.4" y2="292.6" stroke="#e9dfdf" stroke-width="2.2"/><polygon points="704.4,298.1 701.0,292.6 704.4,293.8 707.8,292.6" fill="#e9dfdf"/>
<line x1="38.9" y1="309.5" x2="38.9" y2="333.2" stroke="#f29a86" stroke-width="2.6"/><polygon points="38.9,338.7 35.5,333.2 38.9,334.4 42.3,333.2" fill="#f29a86"/>
<line x1="59.0" y1="309.2" x2="59.0" y2="333.7" stroke="#f4b3a5" stroke-width="2.4"/><polygon points="59.0,339.2 55.6,333.7 59.0,334.9 62.4,333.7" fill="#f4b3a5"/>
<line x1="79.3" y1="308.9" x2="79.3" y2="334.2" stroke="#f4b3a5" stroke-width="2.4"/><polygon points="79.3,339.7 75.9,334.2 79.3,335.4 82.7,334.2" fill="#f4b3a5"/>
<line x1="112.5" y1="309.2" x2="107.1" y2="335.8" stroke="#f0c8bf" stroke-width="2.2"/><polygon points="106.0,341.2 103.8,335.2 106.9,337.0 110.4,336.5" fill="#f0c8bf"/>
<line x1="112.5" y1="309.2" x2="118.4" y2="334.4" stroke="#f4b3a5" stroke-width="2.4"/><polygon points="119.6,339.7 115.0,335.2 118.6,335.6 121.7,333.6" fill="#f4b3a5"/>
<line x1="139.8" y1="307.7" x2="134.0" y2="337.3" stroke="#e9dfdf" stroke-width="2.2"/><polygon points="133.0,342.7 130.7,336.7 133.8,338.5 137.4,338.0" fill="#e9dfdf"/>
<line x1="139.8" y1="307.7" x2="145.2" y2="337.3" stroke="#e9dfdf" stroke-width="2.2"/><polygon points="146.2,342.7 141.9,337.9 145.4,338.5 148.6,336.7" fill="#e9dfdf"/>
<line x1="160.0" y1="307.7" x2="159.7" y2="336.2" stroke="#e9dfdf" stroke-width="2.2"/><polygon points="159.6,341.7 156.3,336.2 159.7,337.4 163.1,336.3" fill="#e9dfdf"/>
<line x1="173.4" y1="308.3" x2="173.4" y2="335.2" stroke="#f0c8bf" stroke-width="2.2"/><polygon points="173.4,340.7 170.0,335.2 173.4,336.4 176.8,335.2" fill="#f0c8bf"/>
<line x1="193.6" y1="308.0" x2="187.9" y2="336.8" stroke="#e9dfdf" stroke-width="2.2"/><polygon points="186.8,342.2 184.5,336.2 187.6,338.0 191.2,337.5" fill="#e9dfdf"/>
<line x1="193.6" y1="308.0" x2="199.0" y2="336.8" stroke="#e9dfdf" stroke-width="2.2"/><polygon points="200.0,342.2 195.6,337.5 199.2,338.0 202.3,336.2" fill="#e9dfdf"/>
<line x1="233.9" y1="307.3" x2="233.9" y2="336.7" stroke="#e9dfdf" stroke-width="2.2"/><polygon points="233.9,342.2 230.5,336.7 233.9,337.9 237.3,336.7" fill="#e9dfdf"/>
<line x1="260.5" y1="307.1" x2="260.5" y2="337.1" stroke="#e9dfdf" stroke-width="2.2"/><polygon points="260.5,342.6 257.1,337.1 260.5,338.3 263.9,337.1" fill="#e9dfdf"/>
<line x1="287.5" y1="307.1" x2="287.5" y2="337.2" stroke="#e9dfdf" stroke-width="2.2"/><polygon points="287.5,342.7 284.1,337.2 287.5,338.4 290.9,337.2" fill="#e9dfdf"/>
<line x1="314.7" y1="307.0" x2="314.7" y2="337.2" stroke="#e9dfdf" stroke-width="2.2"/><polygon points="314.7,342.7 311.3,337.2 314.7,338.4 318.1,337.2" fill="#e9dfdf"/>
<line x1="341.3" y1="306.8" x2="341.3" y2="337.6" stroke="#e9dfdf" stroke-width="2.2"/><polygon points="341.3,343.1 337.9,337.6 341.3,338.8 344.7,337.6" fill="#e9dfdf"/>
<line x1="368.2" y1="306.6" x2="368.2" y2="337.8" stroke="#e9dfdf" stroke-width="2.2"/><polygon points="368.2,343.3 364.8,337.8 368.2,339.0 371.6,337.8" fill="#e9dfdf"/>
<line x1="395.4" y1="306.5" x2="395.4" y2="338.2" stroke="#e9dfdf" stroke-width="2.2"/><polygon points="395.4,343.7 392.0,338.2 395.4,339.4 398.8,338.2" fill="#e9dfdf"/>
<line x1="428.5" y1="307.7" x2="428.5" y2="335.7" stroke="#f0c8bf" stroke-width="2.2"/><polygon points="428.5,341.2 425.1,335.7 428.5,336.9 431.9,335.7" fill="#f0c8bf"/>
<line x1="448.9" y1="308.6" x2="448.9" y2="334.7" stroke="#f4b3a5" stroke-width="2.4"/><polygon points="448.9,340.2 445.5,334.7 448.9,335.9 452.3,334.7" fill="#f4b3a5"/>
<line x1="475.5" y1="306.2" x2="475.5" y2="338.2" stroke="#e9dfdf" stroke-width="2.2"/><polygon points="475.5,343.7 472.1,338.2 475.5,339.4 478.9,338.2" fill="#e9dfdf"/>
<line x1="489.2" y1="308.9" x2="489.2" y2="333.7" stroke="#f4b3a5" stroke-width="2.4"/><polygon points="489.2,339.2 485.8,333.7 489.2,334.9 492.6,333.7" fill="#f4b3a5"/>
<line x1="516.0" y1="306.2" x2="516.0" y2="338.7" stroke="#e9dfdf" stroke-width="2.2"/><polygon points="516.0,344.2 512.6,338.7 516.0,339.9 519.4,338.7" fill="#e9dfdf"/>
<line x1="529.5" y1="308.3" x2="529.5" y2="334.7" stroke="#f4b3a5" stroke-width="2.4"/><polygon points="529.5,340.2 526.1,334.7 529.5,335.9 532.9,334.7" fill="#f4b3a5"/>
<line x1="556.0" y1="307.7" x2="556.0" y2="336.2" stroke="#e9dfdf" stroke-width="2.2"/><polygon points="556.0,341.7 552.6,336.2 556.0,337.4 559.4,336.2" fill="#e9dfdf"/>
<line x1="569.5" y1="307.7" x2="569.5" y2="336.2" stroke="#e9dfdf" stroke-width="2.2"/><polygon points="569.5,341.7 566.1,336.2 569.5,337.4 572.9,336.2" fill="#e9dfdf"/>
<line x1="596.6" y1="308.0" x2="596.6" y2="335.2" stroke="#f0c8bf" stroke-width="2.2"/><polygon points="596.6,340.7 593.2,335.2 596.6,336.4 600.0,335.2" fill="#f0c8bf"/>
<line x1="623.6" y1="308.0" x2="623.6" y2="335.2" stroke="#f0c8bf" stroke-width="2.2"/><polygon points="623.6,340.7 620.2,335.2 623.6,336.4 627.0,335.2" fill="#f0c8bf"/>
<line x1="657.3" y1="308.0" x2="657.3" y2="335.2" stroke="#f0c8bf" stroke-width="2.2"/><polygon points="657.3,340.7 653.9,335.2 657.3,336.4 660.7,335.2" fill="#f0c8bf"/>
<line x1="690.7" y1="307.1" x2="690.7" y2="337.7" stroke="#e9dfdf" stroke-width="2.2"/><polygon points="690.7,343.2 687.3,337.7 690.7,338.9 694.1,337.7" fill="#e9dfdf"/>
<line x1="704.4" y1="307.4" x2="704.4" y2="336.2" stroke="#e9dfdf" stroke-width="2.2"/><polygon points="704.4,341.7 701.0,336.2 704.4,337.4 707.8,336.2" fill="#e9dfdf"/>
<line x1="38.9" y1="353.6" x2="38.9" y2="377.4" stroke="#f29a86" stroke-width="2.6"/><polygon points="38.9,382.9 35.5,377.4 38.9,378.6 42.3,377.4" fill="#f29a86"/>
<line x1="59.0" y1="353.3" x2="53.7" y2="381.0" stroke="#e9dfdf" stroke-width="2.2"/><polygon points="52.7,386.4 50.4,380.3 53.5,382.1 57.1,381.6" fill="#e9dfdf"/>
<line x1="59.0" y1="353.3" x2="64.4" y2="379.5" stroke="#f0c8bf" stroke-width="2.2"/><polygon points="65.5,384.9 61.0,380.2 64.6,380.6 67.7,378.8" fill="#f0c8bf"/>
<line x1="79.3" y1="353.0" x2="79.3" y2="378.4" stroke="#f4b3a5" stroke-width="2.4"/><polygon points="79.3,383.9 75.9,378.4 79.3,379.6 82.7,378.4" fill="#f4b3a5"/>
<line x1="106.0" y1="352.1" x2="106.0" y2="379.9" stroke="#f0c8bf" stroke-width="2.2"/><polygon points="106.0,385.4 102.6,379.9 106.0,381.1 109.4,379.9" fill="#f0c8bf"/>
<line x1="119.6" y1="353.0" x2="119.6" y2="378.4" stroke="#f4b3a5" stroke-width="2.4"/><polygon points="119.6,383.9 116.2,378.4 119.6,379.6 123.0,378.4" fill="#f4b3a5"/>
<line x1="133.0" y1="351.2" x2="133.0" y2="381.4" stroke="#e9dfdf" stroke-width="2.2"/><polygon points="133.0,386.9 129.6,381.4 133.0,382.6 136.4,381.4" fill="#e9dfdf"/>
<line x1="146.2" y1="351.2" x2="146.2" y2="381.4" stroke="#e9dfdf" stroke-width="2.2"/><polygon points="146.2,386.9 142.8,381.4 146.2,382.6 149.6,381.4" fill="#e9dfdf"/>
<line x1="159.6" y1="351.8" x2="159.6" y2="381.4" stroke="#e9dfdf" stroke-width="2.2"/><polygon points="159.6,386.9 156.2,381.4 159.6,382.6 163.0,381.4" fill="#e9dfdf"/>
<line x1="173.4" y1="352.4" x2="173.4" y2="379.9" stroke="#f0c8bf" stroke-width="2.2"/><polygon points="173.4,385.4 170.0,379.9 173.4,381.1 176.8,379.9" fill="#f0c8bf"/>
<line x1="186.8" y1="351.5" x2="186.8" y2="380.9" stroke="#e9dfdf" stroke-width="2.2"/><polygon points="186.8,386.4 183.4,380.9 186.8,382.1 190.2,380.9" fill="#e9dfdf"/>
<line x1="200.0" y1="351.5" x2="200.0" y2="380.9" stroke="#e9dfdf" stroke-width="2.2"/><polygon points="200.0,386.4 196.6,380.9 200.0,382.1 203.4,380.9" fill="#e9dfdf"/>
<line x1="233.9" y1="351.5" x2="233.9" y2="380.9" stroke="#e9dfdf" stroke-width="2.2"/><polygon points="233.9,386.4 230.5,380.9 233.9,382.1 237.3,380.9" fill="#e9dfdf"/>
<line x1="260.5" y1="351.3" x2="260.5" y2="381.3" stroke="#e9dfdf" stroke-width="2.2"/><polygon points="260.5,386.8 257.1,381.3 260.5,382.5 263.9,381.3" fill="#e9dfdf"/>
<line x1="287.5" y1="351.2" x2="287.5" y2="381.4" stroke="#e9dfdf" stroke-width="2.2"/><polygon points="287.5,386.9 284.1,381.4 287.5,382.6 290.9,381.4" fill="#e9dfdf"/>
<line x1="314.7" y1="351.2" x2="314.7" y2="381.4" stroke="#e9dfdf" stroke-width="2.2"/><polygon points="314.7,386.9 311.3,381.4 314.7,382.6 318.1,381.4" fill="#e9dfdf"/>
<line x1="341.3" y1="351.0" x2="341.3" y2="381.8" stroke="#e9dfdf" stroke-width="2.2"/><polygon points="341.3,387.3 337.9,381.8 341.3,383.0 344.7,381.8" fill="#e9dfdf"/>
<line x1="368.2" y1="350.9" x2="368.2" y2="382.2" stroke="#e9dfdf" stroke-width="2.2"/><polygon points="368.2,387.7 364.8,382.2 368.2,383.4 371.6,382.2" fill="#e9dfdf"/>
<line x1="395.4" y1="350.6" x2="395.4" y2="382.4" stroke="#e9dfdf" stroke-width="2.2"/><polygon points="395.4,387.9 392.0,382.4 395.4,383.6 398.8,382.4" fill="#e9dfdf"/>
<line x1="428.5" y1="352.1" x2="423.0" y2="380.5" stroke="#e9dfdf" stroke-width="2.2"/><polygon points="421.9,385.9 419.6,379.8 422.7,381.6 426.3,381.1" fill="#e9dfdf"/>
<line x1="428.5" y1="352.1" x2="434.6" y2="381.5" stroke="#e9dfdf" stroke-width="2.2"/><polygon points="435.7,386.9 431.2,382.2 434.8,382.6 437.9,380.8" fill="#e9dfdf"/>
<line x1="448.9" y1="352.7" x2="448.9" y2="378.9" stroke="#f4b3a5" stroke-width="2.4"/><polygon points="448.9,384.4 445.5,378.9 448.9,380.1 452.3,378.9" fill="#f4b3a5"/>
<line x1="475.5" y1="350.6" x2="475.5" y2="382.4" stroke="#e9dfdf" stroke-width="2.2"/><polygon points="475.5,387.9 472.1,382.4 475.5,383.6 478.9,382.4" fill="#e9dfdf"/>
<line x1="489.2" y1="353.3" x2="489.2" y2="377.9" stroke="#f4b3a5" stroke-width="2.4"/><polygon points="489.2,383.4 485.8,377.9 489.2,379.1 492.6,377.9" fill="#f4b3a5"/>
<line x1="516.0" y1="350.3" x2="516.0" y2="382.9" stroke="#e9dfdf" stroke-width="2.2"/><polygon points="516.0,388.4 512.6,382.9 516.0,384.1 519.4,382.9" fill="#e9dfdf"/>
<line x1="529.5" y1="352.7" x2="529.5" y2="378.9" stroke="#f4b3a5" stroke-width="2.4"/><polygon points="529.5,384.4 526.1,378.9 529.5,380.1 532.9,378.9" fill="#f4b3a5"/>
<line x1="556.0" y1="351.8" x2="556.0" y2="380.4" stroke="#e9dfdf" stroke-width="2.2"/><polygon points="556.0,385.9 552.6,380.4 556.0,381.6 559.4,380.4" fill="#e9dfdf"/>
<line x1="569.5" y1="351.8" x2="569.5" y2="380.4" stroke="#e9dfdf" stroke-width="2.2"/><polygon points="569.5,385.9 566.1,380.4 569.5,381.6 572.9,380.4" fill="#e9dfdf"/>
<line x1="596.6" y1="352.4" x2="596.6" y2="379.4" stroke="#f0c8bf" stroke-width="2.2"/><polygon points="596.6,384.9 593.2,379.4 596.6,380.6 600.0,379.4" fill="#f0c8bf"/>
<line x1="623.6" y1="352.4" x2="623.6" y2="379.4" stroke="#f0c8bf" stroke-width="2.2"/><polygon points="623.6,384.9 620.2,379.4 623.6,380.6 627.0,379.4" fill="#f0c8bf"/>
<line x1="657.3" y1="352.4" x2="657.3" y2="379.4" stroke="#f0c8bf" stroke-width="2.2"/><polygon points="657.3,384.9 653.9,379.4 657.3,380.6 660.7,379.4" fill="#f0c8bf"/>
<line x1="690.7" y1="350.9" x2="690.7" y2="381.4" stroke="#e9dfdf" stroke-width="2.2"/><polygon points="690.7,386.9 687.3,381.4 690.7,382.6 694.1,381.4" fill="#e9dfdf"/>
<line x1="704.4" y1="351.8" x2="704.4" y2="380.4" stroke="#e9dfdf" stroke-width="2.2"/><polygon points="704.4,385.9 701.0,380.4 704.4,381.6 707.8,380.4" fill="#e9dfdf"/>
<line x1="38.9" y1="397.8" x2="38.9" y2="421.5" stroke="#f29a86" stroke-width="2.6"/><polygon points="38.9,427.0 35.5,421.5 38.9,422.7 42.3,421.5" fill="#f29a86"/>
<line x1="52.7" y1="395.7" x2="52.7" y2="425.0" stroke="#e9dfdf" stroke-width="2.2"/><polygon points="52.7,430.5 49.3,425.0 52.7,426.2 56.1,425.0" fill="#e9dfdf"/>
<line x1="65.5" y1="396.6" x2="65.5" y2="423.5" stroke="#f0c8bf" stroke-width="2.2"/><polygon points="65.5,429.0 62.1,423.5 65.5,424.7 68.9,423.5" fill="#f0c8bf"/>
<line x1="79.3" y1="397.2" x2="79.3" y2="422.5" stroke="#f4b3a5" stroke-width="2.4"/><polygon points="79.3,428.0 75.9,422.5 79.3,423.7 82.7,422.5" fill="#f4b3a5"/>
<line x1="106.0" y1="396.3" x2="106.0" y2="424.0" stroke="#f0c8bf" stroke-width="2.2"/><polygon points="106.0,429.5 102.6,424.0 106.0,425.2 109.4,424.0" fill="#f0c8bf"/>
<line x1="119.6" y1="397.2" x2="119.6" y2="422.5" stroke="#f4b3a5" stroke-width="2.4"/><polygon points="119.6,428.0 116.2,422.5 119.6,423.7 123.0,422.5" fill="#f4b3a5"/>
<line x1="133.0" y1="395.4" x2="133.0" y2="425.5" stroke="#e9dfdf" stroke-width="2.2"/><polygon points="133.0,431.0 129.6,425.5 133.0,426.7 136.4,425.5" fill="#e9dfdf"/>
<line x1="146.2" y1="395.4" x2="146.2" y2="425.5" stroke="#e9dfdf" stroke-width="2.2"/><polygon points="146.2,431.0 142.8,425.5 146.2,426.7 149.6,425.5" fill="#e9dfdf"/>
<line x1="159.6" y1="395.4" x2="159.6" y2="425.5" stroke="#e9dfdf" stroke-width="2.2"/><polygon points="159.6,431.0 156.2,425.5 159.6,426.7 163.0,425.5" fill="#e9dfdf"/>
<line x1="173.4" y1="396.3" x2="173.4" y2="424.0" stroke="#f0c8bf" stroke-width="2.2"/><polygon points="173.4,429.5 170.0,424.0 173.4,425.2 176.8,424.0" fill="#f0c8bf"/>
<line x1="186.8" y1="395.7" x2="186.8" y2="425.0" stroke="#e9dfdf" stroke-width="2.2"/><polygon points="186.8,430.5 183.4,425.0 186.8,426.2 190.2,425.0" fill="#e9dfdf"/>
<line x1="200.0" y1="395.7" x2="200.0" y2="425.0" stroke="#e9dfdf" stroke-width="2.2"/><polygon points="200.0,430.5 196.6,425.0 200.0,426.2 203.4,425.0" fill="#e9dfdf"/>
<line x1="233.9" y1="395.7" x2="233.9" y2="425.2" stroke="#e9dfdf" stroke-width="2.2"/><polygon points="233.9,430.7 230.5,425.2 233.9,426.4 237.3,425.2" fill="#e9dfdf"/>
<line x1="260.5" y1="395.4" x2="260.5" y2="425.5" stroke="#e9dfdf" stroke-width="2.2"/><polygon points="260.5,431.0 257.1,425.5 260.5,426.7 263.9,425.5" fill="#e9dfdf"/>
<line x1="287.5" y1="395.4" x2="287.5" y2="425.5" stroke="#e9dfdf" stroke-width="2.2"/><polygon points="287.5,431.0 284.1,425.5 287.5,426.7 290.9,425.5" fill="#e9dfdf"/>
<line x1="314.7" y1="395.4" x2="314.7" y2="425.7" stroke="#e9dfdf" stroke-width="2.2"/><polygon points="314.7,431.2 311.3,425.7 314.7,426.9 318.1,425.7" fill="#e9dfdf"/>
<line x1="341.3" y1="395.1" x2="341.3" y2="425.9" stroke="#e9dfdf" stroke-width="2.2"/><polygon points="341.3,431.4 337.9,425.9 341.3,427.1 344.7,425.9" fill="#e9dfdf"/>
<line x1="368.2" y1="394.9" x2="368.2" y2="426.3" stroke="#e9dfdf" stroke-width="2.2"/><polygon points="368.2,431.8 364.8,426.3 368.2,427.5 371.6,426.3" fill="#e9dfdf"/>
<line x1="395.4" y1="394.8" x2="395.4" y2="426.5" stroke="#e9dfdf" stroke-width="2.2"/><polygon points="395.4,432.0 392.0,426.5 395.4,427.7 398.8,426.5" fill="#e9dfdf"/>
<line x1="421.9" y1="396.0" x2="421.9" y2="425.0" stroke="#e9dfdf" stroke-width="2.2"/><polygon points="421.9,430.5 418.5,425.0 421.9,426.2 425.3,425.0" fill="#e9dfdf"/>
<line x1="435.7" y1="395.4" x2="435.7" y2="425.5" stroke="#e9dfdf" stroke-width="2.2"/><polygon points="435.7,431.0 432.3,425.5 435.7,426.7 439.1,425.5" fill="#e9dfdf"/>
<line x1="448.9" y1="396.9" x2="448.9" y2="423.0" stroke="#f4b3a5" stroke-width="2.4"/><polygon points="448.9,428.5 445.5,423.0 448.9,424.2 452.3,423.0" fill="#f4b3a5"/>
<line x1="475.5" y1="394.8" x2="475.5" y2="426.5" stroke="#e9dfdf" stroke-width="2.2"/><polygon points="475.5,432.0 472.1,426.5 475.5,427.7 478.9,426.5" fill="#e9dfdf"/>
<line x1="489.2" y1="397.5" x2="489.2" y2="422.0" stroke="#f4b3a5" stroke-width="2.4"/><polygon points="489.2,427.5 485.8,422.0 489.2,423.2 492.6,422.0" fill="#f4b3a5"/>
<line x1="516.0" y1="394.5" x2="516.0" y2="427.0" stroke="#e9dfdf" stroke-width="2.2"/><polygon points="516.0,432.5 512.6,427.0 516.0,428.2 519.4,427.0" fill="#e9dfdf"/>
<line x1="529.5" y1="396.9" x2="529.5" y2="423.0" stroke="#f4b3a5" stroke-width="2.4"/><polygon points="529.5,428.5 526.1,423.0 529.5,424.2 532.9,423.0" fill="#f4b3a5"/>
<line x1="556.0" y1="396.0" x2="556.0" y2="424.5" stroke="#e9dfdf" stroke-width="2.2"/><polygon points="556.0,430.0 552.6,424.5 556.0,425.7 559.4,424.5" fill="#e9dfdf"/>
<line x1="569.5" y1="396.0" x2="569.5" y2="424.5" stroke="#e9dfdf" stroke-width="2.2"/><polygon points="569.5,430.0 566.1,424.5 569.5,425.7 572.9,424.5" fill="#e9dfdf"/>
<line x1="596.6" y1="396.6" x2="596.6" y2="423.5" stroke="#f0c8bf" stroke-width="2.2"/><polygon points="596.6,429.0 593.2,423.5 596.6,424.7 600.0,423.5" fill="#f0c8bf"/>
<line x1="623.6" y1="396.6" x2="623.6" y2="423.5" stroke="#f0c8bf" stroke-width="2.2"/><polygon points="623.6,429.0 620.2,423.5 623.6,424.7 627.0,423.5" fill="#f0c8bf"/>
<line x1="657.3" y1="396.6" x2="651.4" y2="424.1" stroke="#f0c8bf" stroke-width="2.2"/><polygon points="650.3,429.5 648.1,423.4 651.2,425.3 654.8,424.8" fill="#f0c8bf"/>
<line x1="657.3" y1="396.6" x2="663.0" y2="426.1" stroke="#e9dfdf" stroke-width="2.2"/><polygon points="664.0,431.5 659.6,426.7 663.2,427.3 666.3,425.4" fill="#e9dfdf"/>
<line x1="690.7" y1="395.4" x2="690.7" y2="426.0" stroke="#e9dfdf" stroke-width="2.2"/><polygon points="690.7,431.5 687.3,426.0 690.7,427.2 694.1,426.0" fill="#e9dfdf"/>
<line x1="704.4" y1="396.0" x2="704.4" y2="425.0" stroke="#e9dfdf" stroke-width="2.2"/><polygon points="704.4,430.5 701.0,425.0 704.4,426.2 707.8,425.0" fill="#e9dfdf"/>
<circle cx="64.2" cy="39.4" r="13" fill="#c43d2c"/>
<text x="64.2" y="41.5" font-size="6.2" text-anchor="middle" font-weight="bold" fill="#1a1a1a" fill-opacity="0.8">0</text>
<circle cx="177" cy="39.4" r="11.4" fill="#c43d2c"/>
<text x="177" y="41.5" font-size="6.2" text-anchor="middle" font-weight="bold" fill="#1a1a1a" fill-opacity="0.8">1</text>
<circle cx="233.9" cy="39.4" r="6" fill="#c43d2c"/>
<text x="233.9" y="41.5" font-size="5.8" text-anchor="middle" font-weight="bold" fill="#1a1a1a" fill-opacity="0.8">11</text>
<circle cx="260.5" cy="39.4" r="5.5" fill="#c43d2c"/>
<text x="260.5" y="41.5" font-size="6.2" text-anchor="middle" font-weight="bold" fill="#1a1a1a" fill-opacity="0.8">5</text>
<circle cx="287.5" cy="39.4" r="5.5" fill="#c43d2c"/>
<text x="287.5" y="41.5" font-size="5.8" text-anchor="middle" font-weight="bold" fill="#1a1a1a" fill-opacity="0.8">12</text>
<circle cx="314.7" cy="39.4" r="5.1" fill="#c43d2c"/>
<text x="314.7" y="41.5" font-size="5.8" text-anchor="middle" font-weight="bold" fill="#1a1a1a" fill-opacity="0.8">13</text>
<circle cx="341.3" cy="39.4" r="4.6" fill="#c43d2c"/>
<text x="341.3" y="41.5" font-size="5.8" text-anchor="middle" font-weight="bold" fill="#1a1a1a" fill-opacity="0.8">14</text>
<circle cx="368.2" cy="39.4" r="4.4" fill="#c43d2c"/>
<text x="368.2" y="41.5" font-size="5.0" text-anchor="middle" font-weight="bold" fill="#1a1a1a" fill-opacity="0.8">15</text>
<circle cx="395.4" cy="39.4" r="4.0" fill="#c43d2c"/>
<text x="395.4" y="41.5" font-size="5.0" text-anchor="middle" font-weight="bold" fill="#1a1a1a" fill-opacity="0.8">16</text>
<circle cx="439" cy="39.4" r="8.8" fill="#c43d2c"/>
<text x="439" y="41.5" font-size="6.2" text-anchor="middle" font-weight="bold" fill="#1a1a1a" fill-opacity="0.8">2</text>
<circle cx="482.4" cy="39.4" r="8" fill="#c43d2c"/>
<text x="482.4" y="41.5" font-size="6.2" text-anchor="middle" font-weight="bold" fill="#1a1a1a" fill-opacity="0.8">3</text>
<circle cx="522.8" cy="39.4" r="8" fill="#c43d2c"/>
<text x="522.8" y="41.5" font-size="6.2" text-anchor="middle" font-weight="bold" fill="#1a1a1a" fill-opacity="0.8">4</text>
<circle cx="563.1" cy="39.4" r="7.5" fill="#c43d2c"/>
<text x="563.1" y="41.5" font-size="6.2" text-anchor="middle" font-weight="bold" fill="#1a1a1a" fill-opacity="0.8">5</text>
<circle cx="596.6" cy="39.4" r="7" fill="#c43d2c"/>
<text x="596.6" y="41.5" font-size="6.2" text-anchor="middle" font-weight="bold" fill="#1a1a1a" fill-opacity="0.8">6</text>
<circle cx="623.6" cy="39.4" r="7" fill="#c43d2c"/>
<text x="623.6" y="41.5" font-size="6.2" text-anchor="middle" font-weight="bold" fill="#1a1a1a" fill-opacity="0.8">7</text>
<circle cx="657.3" cy="39.4" r="6.5" fill="#c43d2c"/>
<text x="657.3" y="41.5" font-size="6.2" text-anchor="middle" font-weight="bold" fill="#1a1a1a" fill-opacity="0.8">8</text>
<circle cx="697.6" cy="39.4" r="6" fill="#c43d2c"/>
<text x="697.6" y="41.5" font-size="6.2" text-anchor="middle" font-weight="bold" fill="#1a1a1a" fill-opacity="0.8">9</text>
<circle cx="64.2" cy="83.5" r="12.8" fill="#1b70b8"/>
<text x="64.2" y="85.6" font-size="6.2" text-anchor="middle" font-weight="bold" fill="#1a1a1a" fill-opacity="0.8">0</text>
<circle cx="129.6" cy="83.5" r="10" fill="#1b70b8"/>
<text x="129.6" y="85.6" font-size="6.2" text-anchor="middle" font-weight="bold" fill="#1a1a1a" fill-opacity="0.8">1</text>
<circle cx="193" cy="83.5" r="6.4" fill="#1b70b8"/>
<text x="193" y="85.6" font-size="5.8" text-anchor="middle" font-weight="bold" fill="#1a1a1a" fill-opacity="0.8">10</text>
<circle cx="207.3" cy="83.5" r="6" fill="#1b70b8"/>
<text x="207.3" y="85.6" font-size="5.8" text-anchor="middle" font-weight="bold" fill="#1a1a1a" fill-opacity="0.8">15</text>
<circle cx="233.9" cy="83.5" r="6" fill="#1b70b8"/>
<text x="233.9" y="85.6" font-size="6.2" text-anchor="middle" font-weight="bold" fill="#1a1a1a" fill-opacity="0.8">2</text>
<circle cx="260.5" cy="83.5" r="5.1" fill="#1b70b8"/>
<text x="260.5" y="85.6" font-size="5.8" text-anchor="middle" font-weight="bold" fill="#1a1a1a" fill-opacity="0.8">16</text>
<circle cx="287.5" cy="83.5" r="5.1" fill="#1b70b8"/>
<text x="287.5" y="85.6" font-size="5.8" text-anchor="middle" font-weight="bold" fill="#1a1a1a" fill-opacity="0.8">14</text>
<circle cx="314.7" cy="83.5" r="5.1" fill="#1b70b8"/>
<text x="314.7" y="85.6" font-size="5.8" text-anchor="middle" font-weight="bold" fill="#1a1a1a" fill-opacity="0.8">15</text>
<circle cx="341.3" cy="83.5" r="4.6" fill="#1b70b8"/>
<text x="341.3" y="85.6" font-size="5.8" text-anchor="middle" font-weight="bold" fill="#1a1a1a" fill-opacity="0.8">17</text>
<circle cx="368.2" cy="83.5" r="4.2" fill="#1b70b8"/>
<text x="368.2" y="85.6" font-size="5.0" text-anchor="middle" font-weight="bold" fill="#1a1a1a" fill-opacity="0.8">19</text>
<circle cx="395.4" cy="83.5" r="4.0" fill="#1b70b8"/>
<text x="395.4" y="85.6" font-size="5.0" text-anchor="middle" font-weight="bold" fill="#1a1a1a" fill-opacity="0.8">20</text>
<circle cx="439" cy="83.5" r="8.8" fill="#1b70b8"/>
<text x="439" y="85.6" font-size="6.2" text-anchor="middle" font-weight="bold" fill="#1a1a1a" fill-opacity="0.8">2</text>
<circle cx="482.4" cy="83.5" r="8" fill="#1b70b8"/>
<text x="482.4" y="85.6" font-size="6.2" text-anchor="middle" font-weight="bold" fill="#1a1a1a" fill-opacity="0.8">3</text>
<circle cx="516" cy="83.5" r="4" fill="#1b70b8"/>
<text x="516" y="85.6" font-size="5.0" text-anchor="middle" font-weight="bold" fill="#1a1a1a" fill-opacity="0.8">7</text>
<circle cx="529.5" cy="83.5" r="7.5" fill="#1b70b8"/>
<text x="529.5" y="85.6" font-size="6.2" text-anchor="middle" font-weight="bold" fill="#1a1a1a" fill-opacity="0.8">4</text>
<circle cx="556" cy="83.5" r="6.5" fill="#1b70b8"/>
<text x="556" y="85.6" font-size="5.8" text-anchor="middle" font-weight="bold" fill="#1a1a1a" fill-opacity="0.8">11</text>
<circle cx="569.5" cy="83.5" r="6.5" fill="#1b70b8"/>
<text x="569.5" y="85.6" font-size="6.2" text-anchor="middle" font-weight="bold" fill="#1a1a1a" fill-opacity="0.8">6</text>
<circle cx="596.6" cy="83.5" r="7.5" fill="#1b70b8"/>
<text x="596.6" y="85.6" font-size="6.2" text-anchor="middle" font-weight="bold" fill="#1a1a1a" fill-opacity="0.8">5</text>
<circle cx="623.6" cy="83.5" r="7" fill="#1b70b8"/>
<text x="623.6" y="85.6" font-size="6.2" text-anchor="middle" font-weight="bold" fill="#1a1a1a" fill-opacity="0.8">8</text>
<circle cx="657.3" cy="83.5" r="7" fill="#1b70b8"/>
<text x="657.3" y="85.6" font-size="6.2" text-anchor="middle" font-weight="bold" fill="#1a1a1a" fill-opacity="0.8">9</text>
<circle cx="697.6" cy="83.5" r="7" fill="#1b70b8"/>
<text x="697.6" y="85.6" font-size="6.2" text-anchor="middle" font-weight="bold" fill="#1a1a1a" fill-opacity="0.8">7</text>
<circle cx="49" cy="127.6" r="11" fill="#e5892b"/>
<text x="49" y="129.7" font-size="6.2" text-anchor="middle" font-weight="bold" fill="#1a1a1a" fill-opacity="0.8">0</text>
<circle cx="79.3" cy="127.6" r="8.3" fill="#e5892b"/>
<text x="79.3" y="129.7" font-size="6.2" text-anchor="middle" font-weight="bold" fill="#1a1a1a" fill-opacity="0.8">3</text>
<circle cx="112.5" cy="127.6" r="9.2" fill="#e5892b"/>
<text x="112.5" y="129.7" font-size="6.2" text-anchor="middle" font-weight="bold" fill="#1a1a1a" fill-opacity="0.8">1</text>
<circle cx="146.8" cy="127.6" r="7" fill="#e5892b"/>
<text x="146.8" y="129.7" font-size="6.2" text-anchor="middle" font-weight="bold" fill="#1a1a1a" fill-opacity="0.8">6</text>
<circle cx="193.6" cy="127.6" r="6" fill="#e5892b"/>
<text x="193.6" y="129.7" font-size="5.8" text-anchor="middle" font-weight="bold" fill="#1a1a1a" fill-opacity="0.8">12</text>
<circle cx="233.9" cy="127.6" r="6" fill="#e5892b"/>
<text x="233.9" y="129.7" font-size="5.8" text-anchor="middle" font-weight="bold" fill="#1a1a1a" fill-opacity="0.8">14</text>
<circle cx="260.5" cy="127.6" r="5.1" fill="#e5892b"/>
<text x="260.5" y="129.7" font-size="5.8" text-anchor="middle" font-weight="bold" fill="#1a1a1a" fill-opacity="0.8">17</text>
<circle cx="287.5" cy="127.6" r="5.0" fill="#e5892b"/>
<text x="287.5" y="129.7" font-size="5.8" text-anchor="middle" font-weight="bold" fill="#1a1a1a" fill-opacity="0.8">15</text>
<circle cx="314.7" cy="127.6" r="5.0" fill="#e5892b"/>
<text x="314.7" y="129.7" font-size="5.8" text-anchor="middle" font-weight="bold" fill="#1a1a1a" fill-opacity="0.8">16</text>
<circle cx="341.3" cy="127.6" r="4.6" fill="#e5892b"/>
<text x="341.3" y="129.7" font-size="5.8" text-anchor="middle" font-weight="bold" fill="#1a1a1a" fill-opacity="0.8">18</text>
<circle cx="368.2" cy="127.6" r="4.4" fill="#e5892b"/>
<text x="368.2" y="129.7" font-size="5.0" text-anchor="middle" font-weight="bold" fill="#1a1a1a" fill-opacity="0.8">20</text>
<circle cx="395.4" cy="127.6" r="4.2" fill="#e5892b"/>
<text x="395.4" y="129.7" font-size="5.0" text-anchor="middle" font-weight="bold" fill="#1a1a1a" fill-opacity="0.8">21</text>
<circle cx="439" cy="127.6" r="8.8" fill="#e5892b"/>
<text x="439" y="129.7" font-size="6.2" text-anchor="middle" font-weight="bold" fill="#1a1a1a" fill-opacity="0.8">2</text>
<circle cx="482.4" cy="127.6" r="8" fill="#e5892b"/>
<text x="482.4" y="129.7" font-size="6.2" text-anchor="middle" font-weight="bold" fill="#1a1a1a" fill-opacity="0.8">4</text>
<circle cx="516" cy="127.6" r="4" fill="#e5892b"/>
<text x="516" y="129.7" font-size="5.0" text-anchor="middle" font-weight="bold" fill="#1a1a1a" fill-opacity="0.8">19</text>
<circle cx="529.5" cy="127.6" r="7.5" fill="#e5892b"/>
<text x="529.5" y="129.7" font-size="6.2" text-anchor="middle" font-weight="bold" fill="#1a1a1a" fill-opacity="0.8">5</text>
<circle cx="556" cy="127.6" r="6.5" fill="#e5892b"/>
<text x="556" y="129.7" font-size="5.8" text-anchor="middle" font-weight="bold" fill="#1a1a1a" fill-opacity="0.8">13</text>
<circle cx="569.5" cy="127.6" r="6.5" fill="#e5892b"/>
<text x="569.5" y="129.7" font-size="5.8" text-anchor="middle" font-weight="bold" fill="#1a1a1a" fill-opacity="0.8">11</text>
<circle cx="596.6" cy="127.6" r="7" fill="#e5892b"/>
<text x="596.6" y="129.7" font-size="6.2" text-anchor="middle" font-weight="bold" fill="#1a1a1a" fill-opacity="0.8">6</text>
<circle cx="623.6" cy="127.6" r="7" fill="#e5892b"/>
<text x="623.6" y="129.7" font-size="6.2" text-anchor="middle" font-weight="bold" fill="#1a1a1a" fill-opacity="0.8">7</text>
<circle cx="657.3" cy="127.6" r="7" fill="#e5892b"/>
<text x="657.3" y="129.7" font-size="6.2" text-anchor="middle" font-weight="bold" fill="#1a1a1a" fill-opacity="0.8">8</text>
<circle cx="697.6" cy="127.6" r="7" fill="#e5892b"/>
<text x="697.6" y="129.7" font-size="5.8" text-anchor="middle" font-weight="bold" fill="#1a1a1a" fill-opacity="0.8">10</text>
<circle cx="49" cy="171.8" r="11" fill="#22844f"/>
<text x="49" y="173.9" font-size="6.2" text-anchor="middle" font-weight="bold" fill="#1a1a1a" fill-opacity="0.8">0</text>
<circle cx="79.3" cy="171.8" r="8.3" fill="#22844f"/>
<text x="79.3" y="173.9" font-size="6.2" text-anchor="middle" font-weight="bold" fill="#1a1a1a" fill-opacity="0.8">3</text>
<circle cx="112.5" cy="171.8" r="9.2" fill="#22844f"/>
<text x="112.5" y="173.9" font-size="6.2" text-anchor="middle" font-weight="bold" fill="#1a1a1a" fill-opacity="0.8">1</text>
<circle cx="139.8" cy="171.8" r="5.5" fill="#22844f"/>
<text x="139.8" y="173.9" font-size="5.8" text-anchor="middle" font-weight="bold" fill="#1a1a1a" fill-opacity="0.8">17</text>
<circle cx="153.2" cy="171.8" r="6.5" fill="#22844f"/>
<text x="153.2" y="173.9" font-size="6.2" text-anchor="middle" font-weight="bold" fill="#1a1a1a" fill-opacity="0.8">9</text>
<circle cx="193.6" cy="171.8" r="7" fill="#22844f"/>
<text x="193.6" y="173.9" font-size="5.8" text-anchor="middle" font-weight="bold" fill="#1a1a1a" fill-opacity="0.8">10</text>
<circle cx="233.9" cy="171.8" r="6" fill="#22844f"/>
<text x="233.9" y="173.9" font-size="5.8" text-anchor="middle" font-weight="bold" fill="#1a1a1a" fill-opacity="0.8">13</text>
<circle cx="260.5" cy="171.8" r="5.5" fill="#22844f"/>
<text x="260.5" y="173.9" font-size="5.8" text-anchor="middle" font-weight="bold" fill="#1a1a1a" fill-opacity="0.8">15</text>
<circle cx="287.5" cy="171.8" r="5.3" fill="#22844f"/>
<text x="287.5" y="173.9" font-size="5.8" text-anchor="middle" font-weight="bold" fill="#1a1a1a" fill-opacity="0.8">18</text>
<circle cx="314.7" cy="171.8" r="5.3" fill="#22844f"/>
<text x="314.7" y="173.9" font-size="5.8" text-anchor="middle" font-weight="bold" fill="#1a1a1a" fill-opacity="0.8">19</text>
<circle cx="341.3" cy="171.8" r="4.6" fill="#22844f"/>
<text x="341.3" y="173.9" font-size="5.8" text-anchor="middle" font-weight="bold" fill="#1a1a1a" fill-opacity="0.8">20</text>
<circle cx="368.2" cy="171.8" r="4.4" fill="#22844f"/>
<text x="368.2" y="173.9" font-size="5.0" text-anchor="middle" font-weight="bold" fill="#1a1a1a" fill-opacity="0.8">22</text>
<circle cx="395.4" cy="171.8" r="4.0" fill="#22844f"/>
<text x="395.4" y="173.9" font-size="5.0" text-anchor="middle" font-weight="bold" fill="#1a1a1a" fill-opacity="0.8">23</text>
<circle cx="439" cy="171.8" r="8.8" fill="#22844f"/>
<text x="439" y="173.9" font-size="6.2" text-anchor="middle" font-weight="bold" fill="#1a1a1a" fill-opacity="0.8">2</text>
<circle cx="482.4" cy="171.8" r="8" fill="#22844f"/>
<text x="482.4" y="173.9" font-size="6.2" text-anchor="middle" font-weight="bold" fill="#1a1a1a" fill-opacity="0.8">4</text>
<circle cx="516" cy="171.8" r="4" fill="#22844f"/>
<text x="516" y="173.9" font-size="5.0" text-anchor="middle" font-weight="bold" fill="#1a1a1a" fill-opacity="0.8">21</text>
<circle cx="529.5" cy="171.8" r="8" fill="#22844f"/>
<text x="529.5" y="173.9" font-size="6.2" text-anchor="middle" font-weight="bold" fill="#1a1a1a" fill-opacity="0.8">5</text>
<circle cx="556" cy="171.8" r="6.5" fill="#22844f"/>
<text x="556" y="173.9" font-size="5.8" text-anchor="middle" font-weight="bold" fill="#1a1a1a" fill-opacity="0.8">12</text>
<circle cx="569.5" cy="171.8" r="6.5" fill="#22844f"/>
<text x="569.5" y="173.9" font-size="5.8" text-anchor="middle" font-weight="bold" fill="#1a1a1a" fill-opacity="0.8">11</text>
<circle cx="596.6" cy="171.8" r="7" fill="#22844f"/>
<text x="596.6" y="173.9" font-size="6.2" text-anchor="middle" font-weight="bold" fill="#1a1a1a" fill-opacity="0.8">6</text>
<circle cx="623.6" cy="171.8" r="7" fill="#22844f"/>
<text x="623.6" y="173.9" font-size="6.2" text-anchor="middle" font-weight="bold" fill="#1a1a1a" fill-opacity="0.8">7</text>
<circle cx="657.3" cy="171.8" r="7" fill="#22844f"/>
<text x="657.3" y="173.9" font-size="6.2" text-anchor="middle" font-weight="bold" fill="#1a1a1a" fill-opacity="0.8">8</text>
<circle cx="690.7" cy="171.8" r="6" fill="#22844f"/>
<text x="690.7" y="173.9" font-size="5.8" text-anchor="middle" font-weight="bold" fill="#1a1a1a" fill-opacity="0.8">13</text>
<circle cx="704.4" cy="171.8" r="6" fill="#22844f"/>
<text x="704.4" y="173.9" font-size="5.8" text-anchor="middle" font-weight="bold" fill="#1a1a1a" fill-opacity="0.8">14</text>
<circle cx="49" cy="215.9" r="11" fill="#7d7abf"/>
<text x="49" y="218.0" font-size="6.2" text-anchor="middle" font-weight="bold" fill="#1a1a1a" fill-opacity="0.8">0</text>
<circle cx="79.3" cy="215.9" r="8.3" fill="#7d7abf"/>
<text x="79.3" y="218.0" font-size="6.2" text-anchor="middle" font-weight="bold" fill="#1a1a1a" fill-opacity="0.8">2</text>
<circle cx="112.5" cy="215.9" r="9" fill="#7d7abf"/>
<text x="112.5" y="218.0" font-size="6.2" text-anchor="middle" font-weight="bold" fill="#1a1a1a" fill-opacity="0.8">1</text>
<circle cx="139.8" cy="215.9" r="5.5" fill="#7d7abf"/>
<text x="139.8" y="218.0" font-size="5.8" text-anchor="middle" font-weight="bold" fill="#1a1a1a" fill-opacity="0.8">19</text>
<circle cx="166.4" cy="215.9" r="7.3" fill="#7d7abf"/>
<text x="166.4" y="218.0" font-size="6.2" text-anchor="middle" font-weight="bold" fill="#1a1a1a" fill-opacity="0.8">9</text>
<circle cx="193.6" cy="215.9" r="7" fill="#7d7abf"/>
<text x="193.6" y="218.0" font-size="5.8" text-anchor="middle" font-weight="bold" fill="#1a1a1a" fill-opacity="0.8">10</text>
<circle cx="233.9" cy="215.9" r="5.5" fill="#7d7abf"/>
<text x="233.9" y="218.0" font-size="5.8" text-anchor="middle" font-weight="bold" fill="#1a1a1a" fill-opacity="0.8">15</text>
<circle cx="260.5" cy="215.9" r="5.1" fill="#7d7abf"/>
<text x="260.5" y="218.0" font-size="5.8" text-anchor="middle" font-weight="bold" fill="#1a1a1a" fill-opacity="0.8">17</text>
<circle cx="287.5" cy="215.9" r="5" fill="#7d7abf"/>
<text x="287.5" y="218.0" font-size="5.8" text-anchor="middle" font-weight="bold" fill="#1a1a1a" fill-opacity="0.8">18</text>
<circle cx="314.7" cy="215.9" r="5" fill="#7d7abf"/>
<text x="314.7" y="218.0" font-size="5.8" text-anchor="middle" font-weight="bold" fill="#1a1a1a" fill-opacity="0.8">19</text>
<circle cx="341.3" cy="215.9" r="4.6" fill="#7d7abf"/>
<text x="341.3" y="218.0" font-size="5.8" text-anchor="middle" font-weight="bold" fill="#1a1a1a" fill-opacity="0.8">21</text>
<circle cx="368.2" cy="215.9" r="4.4" fill="#7d7abf"/>
<text x="368.2" y="218.0" font-size="5.0" text-anchor="middle" font-weight="bold" fill="#1a1a1a" fill-opacity="0.8">23</text>
<circle cx="395.4" cy="215.9" r="4" fill="#7d7abf"/>
<text x="395.4" y="218.0" font-size="5.0" text-anchor="middle" font-weight="bold" fill="#1a1a1a" fill-opacity="0.8">24</text>
<circle cx="428.5" cy="215.9" r="6" fill="#7d7abf"/>
<text x="428.5" y="218.0" font-size="5.8" text-anchor="middle" font-weight="bold" fill="#1a1a1a" fill-opacity="0.8">11</text>
<circle cx="448.9" cy="215.9" r="7" fill="#7d7abf"/>
<text x="448.9" y="218.0" font-size="6.2" text-anchor="middle" font-weight="bold" fill="#1a1a1a" fill-opacity="0.8">5</text>
<circle cx="482.4" cy="215.9" r="8" fill="#7d7abf"/>
<text x="482.4" y="218.0" font-size="6.2" text-anchor="middle" font-weight="bold" fill="#1a1a1a" fill-opacity="0.8">3</text>
<circle cx="516" cy="215.9" r="4" fill="#7d7abf"/>
<text x="516" y="218.0" font-size="5.0" text-anchor="middle" font-weight="bold" fill="#1a1a1a" fill-opacity="0.8">22</text>
<circle cx="529.5" cy="215.9" r="6.5" fill="#7d7abf"/>
<text x="529.5" y="218.0" font-size="6.2" text-anchor="middle" font-weight="bold" fill="#1a1a1a" fill-opacity="0.8">4</text>
<circle cx="556" cy="215.9" r="6" fill="#7d7abf"/>
<text x="556" y="218.0" font-size="5.8" text-anchor="middle" font-weight="bold" fill="#1a1a1a" fill-opacity="0.8">13</text>
<circle cx="569.5" cy="215.9" r="6" fill="#7d7abf"/>
<text x="569.5" y="218.0" font-size="5.8" text-anchor="middle" font-weight="bold" fill="#1a1a1a" fill-opacity="0.8">12</text>
<circle cx="596.6" cy="215.9" r="7" fill="#7d7abf"/>
<text x="596.6" y="218.0" font-size="6.2" text-anchor="middle" font-weight="bold" fill="#1a1a1a" fill-opacity="0.8">7</text>
<circle cx="623.6" cy="215.9" r="7" fill="#7d7abf"/>
<text x="623.6" y="218.0" font-size="6.2" text-anchor="middle" font-weight="bold" fill="#1a1a1a" fill-opacity="0.8">8</text>
<circle cx="657.3" cy="215.9" r="7" fill="#7d7abf"/>
<text x="657.3" y="218.0" font-size="6.2" text-anchor="middle" font-weight="bold" fill="#1a1a1a" fill-opacity="0.8">9</text>
<circle cx="690.7" cy="215.9" r="4.5" fill="#7d7abf"/>
<text x="690.7" y="218.0" font-size="5.8" text-anchor="middle" font-weight="bold" fill="#1a1a1a" fill-opacity="0.8">20</text>
<circle cx="704.4" cy="215.9" r="5.5" fill="#7d7abf"/>
<text x="704.4" y="218.0" font-size="5.8" text-anchor="middle" font-weight="bold" fill="#1a1a1a" fill-opacity="0.8">14</text>
<circle cx="49" cy="260.0" r="11" fill="#6b98ad"/>
<text x="49" y="262.1" font-size="6.2" text-anchor="middle" font-weight="bold" fill="#1a1a1a" fill-opacity="0.8">0</text>
<circle cx="79.3" cy="260.0" r="8.3" fill="#6b98ad"/>
<text x="79.3" y="262.1" font-size="6.2" text-anchor="middle" font-weight="bold" fill="#1a1a1a" fill-opacity="0.8">2</text>
<circle cx="112.5" cy="260.0" r="9" fill="#6b98ad"/>
<text x="112.5" y="262.1" font-size="6.2" text-anchor="middle" font-weight="bold" fill="#1a1a1a" fill-opacity="0.8">1</text>
<circle cx="139.8" cy="260.0" r="6" fill="#6b98ad"/>
<text x="139.8" y="262.1" font-size="5.8" text-anchor="middle" font-weight="bold" fill="#1a1a1a" fill-opacity="0.8">15</text>
<circle cx="160" cy="260.0" r="6" fill="#6b98ad"/>
<text x="160" y="262.1" font-size="5.8" text-anchor="middle" font-weight="bold" fill="#1a1a1a" fill-opacity="0.8">17</text>
<circle cx="173.4" cy="260.0" r="7" fill="#6b98ad"/>
<text x="173.4" y="262.1" font-size="6.2" text-anchor="middle" font-weight="bold" fill="#1a1a1a" fill-opacity="0.8">8</text>
<circle cx="193.6" cy="260.0" r="7" fill="#6b98ad"/>
<text x="193.6" y="262.1" font-size="5.8" text-anchor="middle" font-weight="bold" fill="#1a1a1a" fill-opacity="0.8">10</text>
<circle cx="233.9" cy="260.0" r="5.5" fill="#6b98ad"/>
<text x="233.9" y="262.1" font-size="5.8" text-anchor="middle" font-weight="bold" fill="#1a1a1a" fill-opacity="0.8">15</text>
<circle cx="260.5" cy="260.0" r="5.1" fill="#6b98ad"/>
<text x="260.5" y="262.1" font-size="5.8" text-anchor="middle" font-weight="bold" fill="#1a1a1a" fill-opacity="0.8">18</text>
<circle cx="287.5" cy="260.0" r="5" fill="#6b98ad"/>
<text x="287.5" y="262.1" font-size="5.8" text-anchor="middle" font-weight="bold" fill="#1a1a1a" fill-opacity="0.8">19</text>
<circle cx="314.7" cy="260.0" r="5" fill="#6b98ad"/>
<text x="314.7" y="262.1" font-size="5.8" text-anchor="middle" font-weight="bold" fill="#1a1a1a" fill-opacity="0.8">20</text>
<circle cx="341.3" cy="260.0" r="4.6" fill="#6b98ad"/>
<text x="341.3" y="262.1" font-size="5.8" text-anchor="middle" font-weight="bold" fill="#1a1a1a" fill-opacity="0.8">22</text>
<circle cx="368.2" cy="260.0" r="4.4" fill="#6b98ad"/>
<text x="368.2" y="262.1" font-size="5.0" text-anchor="middle" font-weight="bold" fill="#1a1a1a" fill-opacity="0.8">25</text>
<circle cx="395.4" cy="260.0" r="4" fill="#6b98ad"/>
<text x="395.4" y="262.1" font-size="5.0" text-anchor="middle" font-weight="bold" fill="#1a1a1a" fill-opacity="0.8">26</text>
<circle cx="428.5" cy="260.0" r="6" fill="#6b98ad"/>
<text x="428.5" y="262.1" font-size="5.8" text-anchor="middle" font-weight="bold" fill="#1a1a1a" fill-opacity="0.8">11</text>
<circle cx="448.9" cy="260.0" r="7.5" fill="#6b98ad"/>
<text x="448.9" y="262.1" font-size="6.2" text-anchor="middle" font-weight="bold" fill="#1a1a1a" fill-opacity="0.8">5</text>
<circle cx="475.5" cy="260.0" r="4" fill="#6b98ad"/>
<text x="475.5" y="262.1" font-size="5.0" text-anchor="middle" font-weight="bold" fill="#1a1a1a" fill-opacity="0.8">23</text>
<circle cx="489.2" cy="260.0" r="8" fill="#6b98ad"/>
<text x="489.2" y="262.1" font-size="6.2" text-anchor="middle" font-weight="bold" fill="#1a1a1a" fill-opacity="0.8">3</text>
<circle cx="516" cy="260.0" r="3.5" fill="#6b98ad"/>
<text x="516" y="262.1" font-size="5.0" text-anchor="middle" font-weight="bold" fill="#1a1a1a" fill-opacity="0.8">24</text>
<circle cx="529.5" cy="260.0" r="7.5" fill="#6b98ad"/>
<text x="529.5" y="262.1" font-size="6.2" text-anchor="middle" font-weight="bold" fill="#1a1a1a" fill-opacity="0.8">4</text>
<circle cx="556" cy="260.0" r="6" fill="#6b98ad"/>
<text x="556" y="262.1" font-size="5.8" text-anchor="middle" font-weight="bold" fill="#1a1a1a" fill-opacity="0.8">13</text>
<circle cx="569.5" cy="260.0" r="6" fill="#6b98ad"/>
<text x="569.5" y="262.1" font-size="5.8" text-anchor="middle" font-weight="bold" fill="#1a1a1a" fill-opacity="0.8">12</text>
<circle cx="596.6" cy="260.0" r="7" fill="#6b98ad"/>
<text x="596.6" y="262.1" font-size="6.2" text-anchor="middle" font-weight="bold" fill="#1a1a1a" fill-opacity="0.8">6</text>
<circle cx="623.6" cy="260.0" r="7" fill="#6b98ad"/>
<text x="623.6" y="262.1" font-size="6.2" text-anchor="middle" font-weight="bold" fill="#1a1a1a" fill-opacity="0.8">7</text>
<circle cx="657.3" cy="260.0" r="7" fill="#6b98ad"/>
<text x="657.3" y="262.1" font-size="6.2" text-anchor="middle" font-weight="bold" fill="#1a1a1a" fill-opacity="0.8">9</text>
<circle cx="690.7" cy="260.0" r="5" fill="#6b98ad"/>
<text x="690.7" y="262.1" font-size="5.8" text-anchor="middle" font-weight="bold" fill="#1a1a1a" fill-opacity="0.8">21</text>
<circle cx="704.4" cy="260.0" r="6" fill="#6b98ad"/>
<text x="704.4" y="262.1" font-size="5.8" text-anchor="middle" font-weight="bold" fill="#1a1a1a" fill-opacity="0.8">14</text>
<circle cx="38.9" cy="304.1" r="9" fill="#fcd58e"/>
<text x="38.9" y="306.2" font-size="6.2" text-anchor="middle" font-weight="bold" fill="#1a1a1a" fill-opacity="0.8">0</text>
<circle cx="59" cy="304.1" r="8.5" fill="#fcd58e"/>
<text x="59" y="306.2" font-size="6.2" text-anchor="middle" font-weight="bold" fill="#1a1a1a" fill-opacity="0.8">1</text>
<circle cx="79.3" cy="304.1" r="8" fill="#fcd58e"/>
<text x="79.3" y="306.2" font-size="6.2" text-anchor="middle" font-weight="bold" fill="#1a1a1a" fill-opacity="0.8">3</text>
<circle cx="112.5" cy="304.1" r="8.5" fill="#fcd58e"/>
<text x="112.5" y="306.2" font-size="6.2" text-anchor="middle" font-weight="bold" fill="#1a1a1a" fill-opacity="0.8">2</text>
<circle cx="139.8" cy="304.1" r="6" fill="#fcd58e"/>
<text x="139.8" y="306.2" font-size="5.8" text-anchor="middle" font-weight="bold" fill="#1a1a1a" fill-opacity="0.8">17</text>
<circle cx="160" cy="304.1" r="6" fill="#fcd58e"/>
<text x="160" y="306.2" font-size="5.8" text-anchor="middle" font-weight="bold" fill="#1a1a1a" fill-opacity="0.8">19</text>
<circle cx="173.4" cy="304.1" r="7" fill="#fcd58e"/>
<text x="173.4" y="306.2" font-size="6.2" text-anchor="middle" font-weight="bold" fill="#1a1a1a" fill-opacity="0.8">8</text>
<circle cx="193.6" cy="304.1" r="6.5" fill="#fcd58e"/>
<text x="193.6" y="306.2" font-size="5.8" text-anchor="middle" font-weight="bold" fill="#1a1a1a" fill-opacity="0.8">11</text>
<circle cx="233.9" cy="304.1" r="5.3" fill="#fcd58e"/>
<text x="233.9" y="306.2" font-size="5.8" text-anchor="middle" font-weight="bold" fill="#1a1a1a" fill-opacity="0.8">16</text>
<circle cx="260.5" cy="304.1" r="5" fill="#fcd58e"/>
<text x="260.5" y="306.2" font-size="5.8" text-anchor="middle" font-weight="bold" fill="#1a1a1a" fill-opacity="0.8">20</text>
<circle cx="287.5" cy="304.1" r="5" fill="#fcd58e"/>
<text x="287.5" y="306.2" font-size="5.8" text-anchor="middle" font-weight="bold" fill="#1a1a1a" fill-opacity="0.8">18</text>
<circle cx="314.7" cy="304.1" r="4.8" fill="#fcd58e"/>
<text x="314.7" y="306.2" font-size="5.8" text-anchor="middle" font-weight="bold" fill="#1a1a1a" fill-opacity="0.8">21</text>
<circle cx="341.3" cy="304.1" r="4.4" fill="#fcd58e"/>
<text x="341.3" y="306.2" font-size="5.0" text-anchor="middle" font-weight="bold" fill="#1a1a1a" fill-opacity="0.8">23</text>
<circle cx="368.2" cy="304.1" r="4.2" fill="#fcd58e"/>
<text x="368.2" y="306.2" font-size="5.0" text-anchor="middle" font-weight="bold" fill="#1a1a1a" fill-opacity="0.8">26</text>
<circle cx="395.4" cy="304.1" r="4" fill="#fcd58e"/>
<text x="395.4" y="306.2" font-size="5.0" text-anchor="middle" font-weight="bold" fill="#1a1a1a" fill-opacity="0.8">27</text>
<circle cx="428.5" cy="304.1" r="6" fill="#fcd58e"/>
<text x="428.5" y="306.2" font-size="5.8" text-anchor="middle" font-weight="bold" fill="#1a1a1a" fill-opacity="0.8">12</text>
<circle cx="448.9" cy="304.1" r="7.5" fill="#fcd58e"/>
<text x="448.9" y="306.2" font-size="6.2" text-anchor="middle" font-weight="bold" fill="#1a1a1a" fill-opacity="0.8">5</text>
<circle cx="475.5" cy="304.1" r="3.5" fill="#fcd58e"/>
<text x="475.5" y="306.2" font-size="5.0" text-anchor="middle" font-weight="bold" fill="#1a1a1a" fill-opacity="0.8">24</text>
<circle cx="489.2" cy="304.1" r="8" fill="#fcd58e"/>
<text x="489.2" y="306.2" font-size="6.2" text-anchor="middle" font-weight="bold" fill="#1a1a1a" fill-opacity="0.8">4</text>
<circle cx="516" cy="304.1" r="3.5" fill="#fcd58e"/>
<text x="516" y="306.2" font-size="5.0" text-anchor="middle" font-weight="bold" fill="#1a1a1a" fill-opacity="0.8">26</text>
<circle cx="529.5" cy="304.1" r="7" fill="#fcd58e"/>
<text x="529.5" y="306.2" font-size="6.2" text-anchor="middle" font-weight="bold" fill="#1a1a1a" fill-opacity="0.8">6</text>
<circle cx="556" cy="304.1" r="6" fill="#fcd58e"/>
<text x="556" y="306.2" font-size="5.8" text-anchor="middle" font-weight="bold" fill="#1a1a1a" fill-opacity="0.8">14</text>
<circle cx="569.5" cy="304.1" r="6" fill="#fcd58e"/>
<text x="569.5" y="306.2" font-size="5.8" text-anchor="middle" font-weight="bold" fill="#1a1a1a" fill-opacity="0.8">13</text>
<circle cx="596.6" cy="304.1" r="6.5" fill="#fcd58e"/>
<text x="596.6" y="306.2" font-size="6.2" text-anchor="middle" font-weight="bold" fill="#1a1a1a" fill-opacity="0.8">7</text>
<circle cx="623.6" cy="304.1" r="6.5" fill="#fcd58e"/>
<text x="623.6" y="306.2" font-size="6.2" text-anchor="middle" font-weight="bold" fill="#1a1a1a" fill-opacity="0.8">9</text>
<circle cx="657.3" cy="304.1" r="6.5" fill="#fcd58e"/>
<text x="657.3" y="306.2" font-size="5.8" text-anchor="middle" font-weight="bold" fill="#1a1a1a" fill-opacity="0.8">10</text>
<circle cx="690.7" cy="304.1" r="5" fill="#fcd58e"/>
<text x="690.7" y="306.2" font-size="5.8" text-anchor="middle" font-weight="bold" fill="#1a1a1a" fill-opacity="0.8">22</text>
<circle cx="704.4" cy="304.1" r="5.5" fill="#fcd58e"/>
<text x="704.4" y="306.2" font-size="5.8" text-anchor="middle" font-weight="bold" fill="#1a1a1a" fill-opacity="0.8">16</text>
<circle cx="38.9" cy="348.2" r="9" fill="#e2439a"/>
<text x="38.9" y="350.3" font-size="6.2" text-anchor="middle" font-weight="bold" fill="#1a1a1a" fill-opacity="0.8">0</text>
<circle cx="59" cy="348.2" r="8.5" fill="#e2439a"/>
<text x="59" y="350.3" font-size="6.2" text-anchor="middle" font-weight="bold" fill="#1a1a1a" fill-opacity="0.8">1</text>
<circle cx="79.3" cy="348.2" r="8" fill="#e2439a"/>
<text x="79.3" y="350.3" font-size="6.2" text-anchor="middle" font-weight="bold" fill="#1a1a1a" fill-opacity="0.8">2</text>
<circle cx="106" cy="348.2" r="6.5" fill="#e2439a"/>
<text x="106" y="350.3" font-size="5.8" text-anchor="middle" font-weight="bold" fill="#1a1a1a" fill-opacity="0.8">11</text>
<circle cx="119.6" cy="348.2" r="8" fill="#e2439a"/>
<text x="119.6" y="350.3" font-size="6.2" text-anchor="middle" font-weight="bold" fill="#1a1a1a" fill-opacity="0.8">4</text>
<circle cx="133" cy="348.2" r="5" fill="#e2439a"/>
<text x="133" y="350.3" font-size="5.8" text-anchor="middle" font-weight="bold" fill="#1a1a1a" fill-opacity="0.8">25</text>
<circle cx="146.2" cy="348.2" r="5" fill="#e2439a"/>
<text x="146.2" y="350.3" font-size="5.8" text-anchor="middle" font-weight="bold" fill="#1a1a1a" fill-opacity="0.8">22</text>
<circle cx="159.6" cy="348.2" r="6" fill="#e2439a"/>
<text x="159.6" y="350.3" font-size="5.8" text-anchor="middle" font-weight="bold" fill="#1a1a1a" fill-opacity="0.8">13</text>
<circle cx="173.4" cy="348.2" r="7" fill="#e2439a"/>
<text x="173.4" y="350.3" font-size="6.2" text-anchor="middle" font-weight="bold" fill="#1a1a1a" fill-opacity="0.8">9</text>
<circle cx="186.8" cy="348.2" r="5.5" fill="#e2439a"/>
<text x="186.8" y="350.3" font-size="5.8" text-anchor="middle" font-weight="bold" fill="#1a1a1a" fill-opacity="0.8">17</text>
<circle cx="200" cy="348.2" r="5.5" fill="#e2439a"/>
<text x="200" y="350.3" font-size="5.8" text-anchor="middle" font-weight="bold" fill="#1a1a1a" fill-opacity="0.8">18</text>
<circle cx="233.9" cy="348.2" r="5.5" fill="#e2439a"/>
<text x="233.9" y="350.3" font-size="5.8" text-anchor="middle" font-weight="bold" fill="#1a1a1a" fill-opacity="0.8">16</text>
<circle cx="260.5" cy="348.2" r="5.1" fill="#e2439a"/>
<text x="260.5" y="350.3" font-size="5.8" text-anchor="middle" font-weight="bold" fill="#1a1a1a" fill-opacity="0.8">20</text>
<circle cx="287.5" cy="348.2" r="5" fill="#e2439a"/>
<text x="287.5" y="350.3" font-size="5.8" text-anchor="middle" font-weight="bold" fill="#1a1a1a" fill-opacity="0.8">23</text>
<circle cx="314.7" cy="348.2" r="5" fill="#e2439a"/>
<text x="314.7" y="350.3" font-size="5.8" text-anchor="middle" font-weight="bold" fill="#1a1a1a" fill-opacity="0.8">24</text>
<circle cx="341.3" cy="348.2" r="4.6" fill="#e2439a"/>
<text x="341.3" y="350.3" font-size="5.8" text-anchor="middle" font-weight="bold" fill="#1a1a1a" fill-opacity="0.8">26</text>
<circle cx="368.2" cy="348.2" r="4.4" fill="#e2439a"/>
<text x="368.2" y="350.3" font-size="5.0" text-anchor="middle" font-weight="bold" fill="#1a1a1a" fill-opacity="0.8">29</text>
<circle cx="395.4" cy="348.2" r="4" fill="#e2439a"/>
<text x="395.4" y="350.3" font-size="5.0" text-anchor="middle" font-weight="bold" fill="#1a1a1a" fill-opacity="0.8">30</text>
<circle cx="428.5" cy="348.2" r="6.5" fill="#e2439a"/>
<text x="428.5" y="350.3" font-size="5.8" text-anchor="middle" font-weight="bold" fill="#1a1a1a" fill-opacity="0.8">12</text>
<circle cx="448.9" cy="348.2" r="7.5" fill="#e2439a"/>
<text x="448.9" y="350.3" font-size="6.2" text-anchor="middle" font-weight="bold" fill="#1a1a1a" fill-opacity="0.8">5</text>
<circle cx="475.5" cy="348.2" r="4" fill="#e2439a"/>
<text x="475.5" y="350.3" font-size="5.0" text-anchor="middle" font-weight="bold" fill="#1a1a1a" fill-opacity="0.8">27</text>
<circle cx="489.2" cy="348.2" r="8.5" fill="#e2439a"/>
<text x="489.2" y="350.3" font-size="6.2" text-anchor="middle" font-weight="bold" fill="#1a1a1a" fill-opacity="0.8">3</text>
<circle cx="516" cy="348.2" r="3.5" fill="#e2439a"/>
<text x="516" y="350.3" font-size="5.0" text-anchor="middle" font-weight="bold" fill="#1a1a1a" fill-opacity="0.8">28</text>
<circle cx="529.5" cy="348.2" r="7.5" fill="#e2439a"/>
<text x="529.5" y="350.3" font-size="6.2" text-anchor="middle" font-weight="bold" fill="#1a1a1a" fill-opacity="0.8">6</text>
<circle cx="556" cy="348.2" r="6" fill="#e2439a"/>
<text x="556" y="350.3" font-size="5.8" text-anchor="middle" font-weight="bold" fill="#1a1a1a" fill-opacity="0.8">14</text>
<circle cx="569.5" cy="348.2" r="6" fill="#e2439a"/>
<text x="569.5" y="350.3" font-size="5.8" text-anchor="middle" font-weight="bold" fill="#1a1a1a" fill-opacity="0.8">13</text>
<circle cx="596.6" cy="348.2" r="7" fill="#e2439a"/>
<text x="596.6" y="350.3" font-size="6.2" text-anchor="middle" font-weight="bold" fill="#1a1a1a" fill-opacity="0.8">7</text>
<circle cx="623.6" cy="348.2" r="7" fill="#e2439a"/>
<text x="623.6" y="350.3" font-size="6.2" text-anchor="middle" font-weight="bold" fill="#1a1a1a" fill-opacity="0.8">8</text>
<circle cx="657.3" cy="348.2" r="7" fill="#e2439a"/>
<text x="657.3" y="350.3" font-size="5.8" text-anchor="middle" font-weight="bold" fill="#1a1a1a" fill-opacity="0.8">10</text>
<circle cx="690.7" cy="348.2" r="4.5" fill="#e2439a"/>
<text x="690.7" y="350.3" font-size="5.8" text-anchor="middle" font-weight="bold" fill="#1a1a1a" fill-opacity="0.8">29</text>
<circle cx="704.4" cy="348.2" r="6" fill="#e2439a"/>
<text x="704.4" y="350.3" font-size="5.8" text-anchor="middle" font-weight="bold" fill="#1a1a1a" fill-opacity="0.8">15</text>
<circle cx="38.9" cy="392.4" r="9" fill="#727272"/>
<text x="38.9" y="394.5" font-size="6.2" text-anchor="middle" font-weight="bold" fill="#1a1a1a" fill-opacity="0.8">0</text>
<circle cx="52.7" cy="392.4" r="5.5" fill="#727272"/>
<text x="52.7" y="394.5" font-size="5.8" text-anchor="middle" font-weight="bold" fill="#1a1a1a" fill-opacity="0.8">13</text>
<circle cx="65.5" cy="392.4" r="7" fill="#727272"/>
<text x="65.5" y="394.5" font-size="6.2" text-anchor="middle" font-weight="bold" fill="#1a1a1a" fill-opacity="0.8">4</text>
<circle cx="79.3" cy="392.4" r="8" fill="#727272"/>
<text x="79.3" y="394.5" font-size="6.2" text-anchor="middle" font-weight="bold" fill="#1a1a1a" fill-opacity="0.8">1</text>
<circle cx="106" cy="392.4" r="6.5" fill="#727272"/>
<text x="106" y="394.5" font-size="5.8" text-anchor="middle" font-weight="bold" fill="#1a1a1a" fill-opacity="0.8">11</text>
<circle cx="119.6" cy="392.4" r="8" fill="#727272"/>
<text x="119.6" y="394.5" font-size="6.2" text-anchor="middle" font-weight="bold" fill="#1a1a1a" fill-opacity="0.8">3</text>
<circle cx="133" cy="392.4" r="5" fill="#727272"/>
<text x="133" y="394.5" font-size="5.8" text-anchor="middle" font-weight="bold" fill="#1a1a1a" fill-opacity="0.8">24</text>
<circle cx="146.2" cy="392.4" r="5" fill="#727272"/>
<text x="146.2" y="394.5" font-size="5.8" text-anchor="middle" font-weight="bold" fill="#1a1a1a" fill-opacity="0.8">23</text>
<circle cx="159.6" cy="392.4" r="5" fill="#727272"/>
<text x="159.6" y="394.5" font-size="5.8" text-anchor="middle" font-weight="bold" fill="#1a1a1a" fill-opacity="0.8">21</text>
<circle cx="173.4" cy="392.4" r="6.5" fill="#727272"/>
<text x="173.4" y="394.5" font-size="5.8" text-anchor="middle" font-weight="bold" fill="#1a1a1a" fill-opacity="0.8">10</text>
<circle cx="186.8" cy="392.4" r="5.5" fill="#727272"/>
<text x="186.8" y="394.5" font-size="5.8" text-anchor="middle" font-weight="bold" fill="#1a1a1a" fill-opacity="0.8">17</text>
<circle cx="200" cy="392.4" r="5.5" fill="#727272"/>
<text x="200" y="394.5" font-size="5.8" text-anchor="middle" font-weight="bold" fill="#1a1a1a" fill-opacity="0.8">19</text>
<circle cx="233.9" cy="392.4" r="5.5" fill="#727272"/>
<text x="233.9" y="394.5" font-size="5.8" text-anchor="middle" font-weight="bold" fill="#1a1a1a" fill-opacity="0.8">16</text>
<circle cx="260.5" cy="392.4" r="5.1" fill="#727272"/>
<text x="260.5" y="394.5" font-size="5.8" text-anchor="middle" font-weight="bold" fill="#1a1a1a" fill-opacity="0.8">22</text>
<circle cx="287.5" cy="392.4" r="5" fill="#727272"/>
<text x="287.5" y="394.5" font-size="5.8" text-anchor="middle" font-weight="bold" fill="#1a1a1a" fill-opacity="0.8">25</text>
<circle cx="314.7" cy="392.4" r="5" fill="#727272"/>
<text x="314.7" y="394.5" font-size="5.8" text-anchor="middle" font-weight="bold" fill="#1a1a1a" fill-opacity="0.8">26</text>
<circle cx="341.3" cy="392.4" r="4.6" fill="#727272"/>
<text x="341.3" y="394.5" font-size="5.8" text-anchor="middle" font-weight="bold" fill="#1a1a1a" fill-opacity="0.8">28</text>
<circle cx="368.2" cy="392.4" r="4.2" fill="#727272"/>
<text x="368.2" y="394.5" font-size="5.0" text-anchor="middle" font-weight="bold" fill="#1a1a1a" fill-opacity="0.8">31</text>
<circle cx="395.4" cy="392.4" r="4" fill="#727272"/>
<text x="395.4" y="394.5" font-size="5.0" text-anchor="middle" font-weight="bold" fill="#1a1a1a" fill-opacity="0.8">32</text>
<circle cx="421.9" cy="392.4" r="6" fill="#727272"/>
<text x="421.9" y="394.5" font-size="5.8" text-anchor="middle" font-weight="bold" fill="#1a1a1a" fill-opacity="0.8">19</text>
<circle cx="435.7" cy="392.4" r="5" fill="#727272"/>
<text x="435.7" y="394.5" font-size="5.8" text-anchor="middle" font-weight="bold" fill="#1a1a1a" fill-opacity="0.8">23</text>
<circle cx="448.9" cy="392.4" r="7.5" fill="#727272"/>
<text x="448.9" y="394.5" font-size="6.2" text-anchor="middle" font-weight="bold" fill="#1a1a1a" fill-opacity="0.8">6</text>
<circle cx="475.5" cy="392.4" r="4" fill="#727272"/>
<text x="475.5" y="394.5" font-size="5.0" text-anchor="middle" font-weight="bold" fill="#1a1a1a" fill-opacity="0.8">20</text>
<circle cx="489.2" cy="392.4" r="8.5" fill="#727272"/>
<text x="489.2" y="394.5" font-size="6.2" text-anchor="middle" font-weight="bold" fill="#1a1a1a" fill-opacity="0.8">2</text>
<circle cx="516" cy="392.4" r="3.5" fill="#727272"/>
<text x="516" y="394.5" font-size="5.0" text-anchor="middle" font-weight="bold" fill="#1a1a1a" fill-opacity="0.8">30</text>
<circle cx="529.5" cy="392.4" r="7.5" fill="#727272"/>
<text x="529.5" y="394.5" font-size="6.2" text-anchor="middle" font-weight="bold" fill="#1a1a1a" fill-opacity="0.8">5</text>
<circle cx="556" cy="392.4" r="6" fill="#727272"/>
<text x="556" y="394.5" font-size="5.8" text-anchor="middle" font-weight="bold" fill="#1a1a1a" fill-opacity="0.8">14</text>
<circle cx="569.5" cy="392.4" r="6" fill="#727272"/>
<text x="569.5" y="394.5" font-size="5.8" text-anchor="middle" font-weight="bold" fill="#1a1a1a" fill-opacity="0.8">12</text>
<circle cx="596.6" cy="392.4" r="7" fill="#727272"/>
<text x="596.6" y="394.5" font-size="6.2" text-anchor="middle" font-weight="bold" fill="#1a1a1a" fill-opacity="0.8">7</text>
<circle cx="623.6" cy="392.4" r="7" fill="#727272"/>
<text x="623.6" y="394.5" font-size="6.2" text-anchor="middle" font-weight="bold" fill="#1a1a1a" fill-opacity="0.8">8</text>
<circle cx="657.3" cy="392.4" r="7" fill="#727272"/>
<text x="657.3" y="394.5" font-size="6.2" text-anchor="middle" font-weight="bold" fill="#1a1a1a" fill-opacity="0.8">9</text>
<circle cx="690.7" cy="392.4" r="5" fill="#727272"/>
<text x="690.7" y="394.5" font-size="5.8" text-anchor="middle" font-weight="bold" fill="#1a1a1a" fill-opacity="0.8">27</text>
<circle cx="704.4" cy="392.4" r="6" fill="#727272"/>
<text x="704.4" y="394.5" font-size="5.8" text-anchor="middle" font-weight="bold" fill="#1a1a1a" fill-opacity="0.8">13</text>
<circle cx="38.9" cy="436.5" r="9" fill="#a9cfe3"/>
<text x="38.9" y="438.6" font-size="6.2" text-anchor="middle" font-weight="bold" fill="#1a1a1a" fill-opacity="0.8">0</text>
<circle cx="52.7" cy="436.5" r="5.5" fill="#a9cfe3"/>
<text x="52.7" y="438.6" font-size="5.8" text-anchor="middle" font-weight="bold" fill="#1a1a1a" fill-opacity="0.8">13</text>
<circle cx="65.5" cy="436.5" r="7" fill="#a9cfe3"/>
<text x="65.5" y="438.6" font-size="6.2" text-anchor="middle" font-weight="bold" fill="#1a1a1a" fill-opacity="0.8">3</text>
<circle cx="79.3" cy="436.5" r="8" fill="#a9cfe3"/>
<text x="79.3" y="438.6" font-size="6.2" text-anchor="middle" font-weight="bold" fill="#1a1a1a" fill-opacity="0.8">1</text>
<circle cx="106" cy="436.5" r="6.5" fill="#a9cfe3"/>
<text x="106" y="438.6" font-size="5.8" text-anchor="middle" font-weight="bold" fill="#1a1a1a" fill-opacity="0.8">10</text>
<circle cx="119.6" cy="436.5" r="8" fill="#a9cfe3"/>
<text x="119.6" y="438.6" font-size="6.2" text-anchor="middle" font-weight="bold" fill="#1a1a1a" fill-opacity="0.8">4</text>
<circle cx="133" cy="436.5" r="5" fill="#a9cfe3"/>
<text x="133" y="438.6" font-size="5.8" text-anchor="middle" font-weight="bold" fill="#1a1a1a" fill-opacity="0.8">28</text>
<circle cx="146.2" cy="436.5" r="5" fill="#a9cfe3"/>
<text x="146.2" y="438.6" font-size="5.8" text-anchor="middle" font-weight="bold" fill="#1a1a1a" fill-opacity="0.8">25</text>
<circle cx="159.6" cy="436.5" r="5" fill="#a9cfe3"/>
<text x="159.6" y="438.6" font-size="5.8" text-anchor="middle" font-weight="bold" fill="#1a1a1a" fill-opacity="0.8">21</text>
<circle cx="173.4" cy="436.5" r="6.5" fill="#a9cfe3"/>
<text x="173.4" y="438.6" font-size="6.2" text-anchor="middle" font-weight="bold" fill="#1a1a1a" fill-opacity="0.8">9</text>
<circle cx="186.8" cy="436.5" r="5.5" fill="#a9cfe3"/>
<text x="186.8" y="438.6" font-size="5.8" text-anchor="middle" font-weight="bold" fill="#1a1a1a" fill-opacity="0.8">17</text>
<circle cx="200" cy="436.5" r="5.5" fill="#a9cfe3"/>
<text x="200" y="438.6" font-size="5.8" text-anchor="middle" font-weight="bold" fill="#1a1a1a" fill-opacity="0.8">19</text>
<circle cx="233.9" cy="436.5" r="5.3" fill="#a9cfe3"/>
<text x="233.9" y="438.6" font-size="5.8" text-anchor="middle" font-weight="bold" fill="#1a1a1a" fill-opacity="0.8">16</text>
<circle cx="260.5" cy="436.5" r="5" fill="#a9cfe3"/>
<text x="260.5" y="438.6" font-size="5.8" text-anchor="middle" font-weight="bold" fill="#1a1a1a" fill-opacity="0.8">22</text>
<circle cx="287.5" cy="436.5" r="5" fill="#a9cfe3"/>
<text x="287.5" y="438.6" font-size="5.8" text-anchor="middle" font-weight="bold" fill="#1a1a1a" fill-opacity="0.8">26</text>
<circle cx="314.7" cy="436.5" r="4.8" fill="#a9cfe3"/>
<text x="314.7" y="438.6" font-size="5.8" text-anchor="middle" font-weight="bold" fill="#1a1a1a" fill-opacity="0.8">27</text>
<circle cx="341.3" cy="436.5" r="4.6" fill="#a9cfe3"/>
<text x="341.3" y="438.6" font-size="5.8" text-anchor="middle" font-weight="bold" fill="#1a1a1a" fill-opacity="0.8">29</text>
<circle cx="368.2" cy="436.5" r="4.2" fill="#a9cfe3"/>
<text x="368.2" y="438.6" font-size="5.0" text-anchor="middle" font-weight="bold" fill="#1a1a1a" fill-opacity="0.8">32</text>
<circle cx="395.4" cy="436.5" r="4" fill="#a9cfe3"/>
<text x="395.4" y="438.6" font-size="5.0" text-anchor="middle" font-weight="bold" fill="#1a1a1a" fill-opacity="0.8">33</text>
<circle cx="421.9" cy="436.5" r="5.5" fill="#a9cfe3"/>
<text x="421.9" y="438.6" font-size="5.8" text-anchor="middle" font-weight="bold" fill="#1a1a1a" fill-opacity="0.8">18</text>
<circle cx="435.7" cy="436.5" r="5" fill="#a9cfe3"/>
<text x="435.7" y="438.6" font-size="5.8" text-anchor="middle" font-weight="bold" fill="#1a1a1a" fill-opacity="0.8">23</text>
<circle cx="448.9" cy="436.5" r="7.5" fill="#a9cfe3"/>
<text x="448.9" y="438.6" font-size="6.2" text-anchor="middle" font-weight="bold" fill="#1a1a1a" fill-opacity="0.8">6</text>
<circle cx="475.5" cy="436.5" r="4" fill="#a9cfe3"/>
<text x="475.5" y="438.6" font-size="5.0" text-anchor="middle" font-weight="bold" fill="#1a1a1a" fill-opacity="0.8">30</text>
<circle cx="489.2" cy="436.5" r="8.5" fill="#a9cfe3"/>
<text x="489.2" y="438.6" font-size="6.2" text-anchor="middle" font-weight="bold" fill="#1a1a1a" fill-opacity="0.8">2</text>
<circle cx="516" cy="436.5" r="3.5" fill="#a9cfe3"/>
<text x="516" y="438.6" font-size="5.0" text-anchor="middle" font-weight="bold" fill="#1a1a1a" fill-opacity="0.8">31</text>
<circle cx="529.5" cy="436.5" r="7.5" fill="#a9cfe3"/>
<text x="529.5" y="438.6" font-size="6.2" text-anchor="middle" font-weight="bold" fill="#1a1a1a" fill-opacity="0.8">6</text>
<circle cx="556" cy="436.5" r="6" fill="#a9cfe3"/>
<text x="556" y="438.6" font-size="5.8" text-anchor="middle" font-weight="bold" fill="#1a1a1a" fill-opacity="0.8">14</text>
<circle cx="569.5" cy="436.5" r="6" fill="#a9cfe3"/>
<text x="569.5" y="438.6" font-size="5.8" text-anchor="middle" font-weight="bold" fill="#1a1a1a" fill-opacity="0.8">12</text>
<circle cx="596.6" cy="436.5" r="7" fill="#a9cfe3"/>
<text x="596.6" y="438.6" font-size="6.2" text-anchor="middle" font-weight="bold" fill="#1a1a1a" fill-opacity="0.8">7</text>
<circle cx="623.6" cy="436.5" r="7" fill="#a9cfe3"/>
<text x="623.6" y="438.6" font-size="6.2" text-anchor="middle" font-weight="bold" fill="#1a1a1a" fill-opacity="0.8">8</text>
<circle cx="650.3" cy="436.5" r="6.5" fill="#a9cfe3"/>
<text x="650.3" y="438.6" font-size="5.8" text-anchor="middle" font-weight="bold" fill="#1a1a1a" fill-opacity="0.8">11</text>
<circle cx="664" cy="436.5" r="4.5" fill="#a9cfe3"/>
<text x="664" y="438.6" font-size="5.8" text-anchor="middle" font-weight="bold" fill="#1a1a1a" fill-opacity="0.8">26</text>
<circle cx="690.7" cy="436.5" r="4.5" fill="#a9cfe3"/>
<text x="690.7" y="438.6" font-size="5.8" text-anchor="middle" font-weight="bold" fill="#1a1a1a" fill-opacity="0.8">29</text>
<circle cx="704.4" cy="436.5" r="5.5" fill="#a9cfe3"/>
<text x="704.4" y="438.6" font-size="5.8" text-anchor="middle" font-weight="bold" fill="#1a1a1a" fill-opacity="0.8">15</text>
<text x="750.9" y="22" font-size="8.1" fill="#333">Integrated_snn_res.</text>
<circle cx="756.7" cy="34.3" r="1.6" fill="#c43d2c"/>
<text x="767.2" y="36.6" font-size="6.5" fill="#444">0.1</text>
<circle cx="756.7" cy="47.5" r="1.6" fill="#1b70b8"/>
<text x="767.2" y="49.8" font-size="6.5" fill="#444">0.2</text>
<circle cx="756.7" cy="60.8" r="1.6" fill="#e5892b"/>
<text x="767.2" y="63.1" font-size="6.5" fill="#444">0.3</text>
<circle cx="756.7" cy="74.0" r="1.6" fill="#22844f"/>
<text x="767.2" y="76.3" font-size="6.5" fill="#444">0.4</text>
<circle cx="756.7" cy="87.3" r="1.6" fill="#7d7abf"/>
<text x="767.2" y="89.6" font-size="6.5" fill="#444">0.5</text>
<circle cx="756.7" cy="100.5" r="1.6" fill="#6b98ad"/>
<text x="767.2" y="102.8" font-size="6.5" fill="#444">0.6</text>
<circle cx="756.7" cy="113.8" r="1.6" fill="#fcd58e"/>
<text x="767.2" y="116.1" font-size="6.5" fill="#444">0.7</text>
<circle cx="756.7" cy="127.0" r="1.6" fill="#e2439a"/>
<text x="767.2" y="129.3" font-size="6.5" fill="#444">0.8</text>
<circle cx="756.7" cy="140.3" r="1.6" fill="#727272"/>
<text x="767.2" y="142.6" font-size="6.5" fill="#444">0.9</text>
<circle cx="756.7" cy="153.6" r="1.6" fill="#a9cfe3"/>
<text x="767.2" y="155.9" font-size="6.5" fill="#444">1</text>
<text x="750" y="184" font-size="7.5" fill="#333">size</text>
<circle cx="765.7" cy="200" r="8.3" fill="#000"/>
<text x="785.5" y="202.3" font-size="6" fill="#444">2000</text>
<circle cx="765.7" cy="224.5" r="11" fill="#000"/>
<text x="785.5" y="226.8" font-size="6" fill="#444">4000</text>
<circle cx="765.7" cy="254" r="13" fill="#000"/>
<text x="785.5" y="256.3" font-size="6" fill="#444">6000</text>
<defs><linearGradient id="cnt" x1="0" y1="1" x2="0" y2="0"><stop offset="0" stop-color="#e6e2e2"/><stop offset="0.5" stop-color="#f5a08a"/><stop offset="1" stop-color="#fb1d0c"/></linearGradient></defs>
<text x="750" y="293.5" font-size="7.5" fill="#333">count</text>
<rect x="750.3" y="298.8" width="13.3" height="65.2" fill="url(#cnt)"/>
<text x="767.5" y="306.5" font-size="6" fill="#444">6000</text>
<line x1="750.3" y1="304.3" x2="753" y2="304.3" stroke="#fff" stroke-width="0.8"/><line x1="761" y1="304.3" x2="763.6" y2="304.3" stroke="#fff" stroke-width="0.8"/>
<text x="767.5" y="327.2" font-size="6" fill="#444">4000</text>
<line x1="750.3" y1="325" x2="753" y2="325" stroke="#fff" stroke-width="0.8"/><line x1="761" y1="325" x2="763.6" y2="325" stroke="#fff" stroke-width="0.8"/>
<text x="767.5" y="346.9" font-size="6" fill="#444">2000</text>
<line x1="750.3" y1="344.7" x2="753" y2="344.7" stroke="#fff" stroke-width="0.8"/><line x1="761" y1="344.7" x2="763.6" y2="344.7" stroke="#fff" stroke-width="0.8"/>
<text x="750" y="388.5" font-size="7.5" fill="#333">in_prop</text>
<line x1="752.0" y1="400.6" x2="759.0" y2="400.6" stroke="rgb(235,235,235)" stroke-width="1.1"/><polygon points="763.0,400.6 759.0,403.1 760.2,400.6 759.0,398.1" fill="rgb(235,235,235)"/>
<text x="767.3" y="402.8" font-size="6" fill="#444">0.00</text>
<line x1="752.0" y1="414.0" x2="759.0" y2="414.0" stroke="rgb(180,180,180)" stroke-width="1.1"/><polygon points="763.0,414.0 759.0,416.5 760.2,414.0 759.0,411.5" fill="rgb(180,180,180)"/>
<text x="767.3" y="416.2" font-size="6" fill="#444">0.25</text>
<line x1="752.0" y1="427.2" x2="759.0" y2="427.2" stroke="rgb(125,125,125)" stroke-width="1.1"/><polygon points="763.0,427.2 759.0,429.7 760.2,427.2 759.0,424.7" fill="rgb(125,125,125)"/>
<text x="767.3" y="429.4" font-size="6" fill="#444">0.50</text>
<line x1="752.0" y1="440.4" x2="759.0" y2="440.4" stroke="rgb(70,70,70)" stroke-width="1.1"/><polygon points="763.0,440.4 759.0,442.9 760.2,440.4 759.0,437.9" fill="rgb(70,70,70)"/>
<text x="767.3" y="442.59999999999997" font-size="6" fill="#444">0.75</text>
<line x1="752.0" y1="453.4" x2="759.0" y2="453.4" stroke="rgb(20,20,20)" stroke-width="1.1"/><polygon points="763.0,453.4 759.0,455.9 760.2,453.4 759.0,450.9" fill="rgb(20,20,20)"/>
<text x="767.3" y="455.59999999999997" font-size="6" fill="#444">1.00</text>
</g><g id="panelB">
<path d="M961.7,43.3 C963.9,42.2 969.4,40.4 973.3,40.0 C977.2,39.6 982.5,39.4 985.0,40.8 C987.5,42.2 988.0,45.4 988.3,48.3 C988.6,51.2 988.6,56.1 986.7,58.3 C984.8,60.5 979.5,60.3 976.7,61.7 C973.9,63.1 972.0,66.4 970.0,66.7 C968.0,67.0 966.2,65.2 965.0,63.3 C963.8,61.3 963.3,57.8 962.5,55.0 C961.7,52.2 960.1,48.7 960.0,46.7 C959.9,44.8 959.5,44.4 961.7,43.3 Z" fill="#1170bd" stroke="#1170bd" stroke-width="1.5" stroke-linejoin="round"/>
<path d="M963.9 42.9h0M962.7 42.5h0M974.0 38.0h0M976.5 38.5h0M987.8 42.3h0M986.3 44.4h0M986.9 56.2h0M989.8 47.8h0M983.6 57.9h0M977.1 61.4h0M971.9 65.1h0M974.3 60.7h0M966.3 63.6h0M966.9 63.8h0M963.9 55.6h0M963.7 60.2h0M959.7 51.1h0M961.8 55.2h0M960.2 44.2h0M962.3 44.7h0" stroke="#1170bd" stroke-width="2.2" stroke-linecap="round" fill="none"/>
<path d="M953.3,135.0 C955.4,133.1 960.2,132.8 963.3,133.3 C966.4,133.9 969.2,136.1 971.7,138.3 C974.2,140.5 976.4,143.6 978.3,146.7 C980.2,149.8 983.0,153.9 983.3,156.7 C983.6,159.5 982.2,161.6 980.0,163.3 C977.8,165.0 973.3,166.7 970.0,166.7 C966.7,166.7 962.8,165.2 960.0,163.3 C957.2,161.4 954.8,158.1 953.3,155.0 C951.8,151.9 950.8,148.3 950.8,145.0 C950.8,141.7 951.2,136.9 953.3,135.0 Z" fill="#1170bd" stroke="#1170bd" stroke-width="1.5" stroke-linejoin="round"/>
<path d="M961.2 134.4h0M959.6 133.8h0M972.3 137.4h0M966.9 137.5h0M978.1 145.2h0M973.1 141.4h0M978.2 145.5h0M976.9 149.1h0M981.8 157.1h0M978.6 162.2h0M976.2 166.6h0M970.4 165.9h0M968.1 167.5h0M967.1 165.0h0M958.4 161.8h0M956.1 160.8h0M952.7 153.3h0M951.6 148.6h0M950.5 140.0h0M954.4 138.5h0" stroke="#1170bd" stroke-width="2.2" stroke-linecap="round" fill="none"/>
<path d="M1036.7,40.0 C1038.7,36.4 1042.5,29.8 1046.7,26.7 C1050.9,23.6 1057.3,22.4 1061.7,21.7 C1066.1,21.0 1071.0,20.8 1073.3,22.5 C1075.6,24.2 1075.9,28.2 1075.8,31.7 C1075.7,35.2 1073.5,39.7 1072.5,43.3 C1071.5,46.9 1070.1,50.8 1070.0,53.3 C1069.9,55.8 1072.5,56.6 1071.7,58.3 C1070.9,60.0 1066.7,61.6 1065.0,63.3 C1063.3,65.0 1063.1,67.8 1061.7,68.3 C1060.3,68.8 1058.7,65.7 1056.7,66.0 C1054.8,66.3 1052.2,69.0 1050.0,70.0 C1047.8,71.0 1045.5,72.3 1043.3,72.0 C1041.1,71.7 1038.1,70.3 1036.7,68.0 C1035.3,65.7 1035.3,61.6 1035.0,58.3 C1034.7,55.0 1034.7,51.3 1035.0,48.3 C1035.3,45.2 1034.8,43.6 1036.7,40.0 Z" fill="#c63c2a" stroke="#c63c2a" stroke-width="1.5" stroke-linejoin="round"/>
<path d="M1040.2 33.0h0M1041.1 29.7h0M1048.3 25.0h0M1045.3 24.9h0M1062.3 19.7h0M1072.3 20.9h0M1073.3 24.2h0M1075.1 25.8h0M1074.2 35.3h0M1074.8 31.9h0M1068.9 49.5h0M1070.2 51.3h0M1068.8 56.1h0M1073.3 59.1h0M1069.4 58.1h0M1066.7 63.4h0M1062.7 66.3h0M1063.3 69.6h0M1058.7 65.2h0M1058.5 65.0h0M1055.5 65.1h0M1054.1 68.5h0M1045.9 73.9h0M1046.3 69.5h0M1040.7 71.8h0M1038.9 68.3h0M1036.9 59.8h0M1037.4 62.8h0M1034.9 49.4h0M1034.3 51.7h0M1036.2 39.8h0M1037.6 39.0h0" stroke="#c63c2a" stroke-width="2.2" stroke-linecap="round" fill="none"/>
<path d="M1010.0,80.0 C1011.7,78.5 1012.8,78.7 1016.7,78.0 C1020.6,77.3 1027.8,76.4 1033.3,76.0 C1038.8,75.6 1044.4,75.5 1050.0,75.5 C1055.6,75.5 1061.7,75.4 1066.7,76.0 C1071.7,76.6 1076.7,77.5 1080.0,79.0 C1083.3,80.5 1084.5,82.0 1086.7,85.0 C1088.9,88.0 1091.6,93.1 1093.3,96.7 C1095.0,100.3 1095.0,103.4 1096.7,106.7 C1098.4,110.0 1101.1,113.4 1103.3,116.7 C1105.5,120.0 1107.8,123.4 1110.0,126.7 C1112.2,130.0 1113.9,133.4 1116.7,136.7 C1119.5,140.0 1124.5,143.9 1126.7,146.7 C1128.9,149.5 1129.5,150.2 1130.0,153.3 C1130.5,156.4 1130.5,161.7 1130.0,165.0 C1129.5,168.3 1129.5,171.2 1127.0,173.0 C1124.5,174.8 1120.7,175.5 1115.0,176.0 C1109.3,176.5 1100.5,175.9 1093.0,176.0 C1085.5,176.1 1078.0,176.4 1070.0,176.5 C1062.0,176.6 1052.0,176.4 1045.0,176.5 C1038.0,176.6 1031.5,176.1 1028.0,177.0 C1024.5,177.9 1023.8,179.8 1024.0,182.0 C1024.2,184.2 1028.7,187.5 1029.0,190.0 C1029.3,192.5 1027.1,193.8 1026.0,197.0 C1024.9,200.2 1023.7,208.5 1022.5,209.0 C1021.3,209.5 1020.8,201.9 1019.0,200.0 C1017.2,198.1 1014.8,198.3 1012.0,197.5 C1009.2,196.7 1004.8,196.2 1002.0,195.0 C999.2,193.8 996.5,192.5 995.0,190.0 C993.5,187.5 993.2,184.0 993.0,180.0 C992.8,176.0 991.5,168.7 994.0,166.0 C996.5,163.3 1004.0,165.0 1008.0,164.0 C1012.0,163.0 1016.5,162.0 1018.0,160.0 C1019.5,158.0 1019.2,153.8 1017.0,152.0 C1014.8,150.2 1008.5,149.8 1005.0,149.0 C1001.5,148.2 997.6,148.8 996.0,147.0 C994.4,145.2 994.9,141.2 995.6,138.0 C996.3,134.8 999.8,131.3 1000.0,128.0 C1000.2,124.7 997.0,121.3 997.0,118.0 C997.0,114.7 999.0,111.5 1000.0,108.0 C1001.0,104.5 1002.2,100.2 1003.3,96.7 C1004.4,93.2 1005.6,89.5 1006.7,86.7 C1007.8,83.9 1008.3,81.5 1010.0,80.0 Z" fill="#c63c2a" stroke="#c63c2a" stroke-width="1.5" stroke-linejoin="round"/>
<path d="M1009.3 81.5h0M1013.8 79.8h0M1033.7 75.4h0M1024.2 74.8h0M1050.2 75.6h0M1048.6 77.2h0M1062.5 74.8h0M1053.8 76.0h0M1069.8 75.2h0M1078.2 78.5h0M1085.7 82.2h0M1086.2 84.6h0M1088.0 90.9h0M1085.7 88.5h0M1093.8 99.4h0M1094.4 102.3h0M1101.6 110.5h0M1099.3 111.3h0M1108.5 124.7h0M1110.2 124.1h0M1114.1 132.9h0M1114.4 133.8h0M1123.4 142.4h0M1127.4 144.4h0M1130.5 151.9h0M1125.5 147.4h0M1128.9 152.3h0M1131.2 162.9h0M1130.5 166.9h0M1131.3 168.2h0M1126.4 173.2h0M1123.3 175.9h0M1111.1 176.1h0M1106.2 175.2h0M1074.3 176.6h0M1080.7 175.5h0M1054.5 174.6h0M1046.6 178.6h0M1042.2 174.5h0M1030.7 175.3h0M1028.1 180.5h0M1025.4 180.1h0M1027.7 184.8h0M1025.1 182.1h0M1030.7 191.1h0M1024.8 197.2h0M1027.4 197.6h0M1025.0 202.9h0M1019.9 206.7h0M1019.9 205.4h0M1017.3 199.0h0M1018.0 198.3h0M1005.6 195.6h0M1010.7 195.3h0M997.1 190.0h0M1000.6 190.9h0M993.1 181.8h0M992.9 181.7h0M995.8 169.7h0M994.7 168.9h0M999.0 163.2h0M993.9 166.8h0M1009.1 161.1h0M1018.0 161.4h0M1016.6 156.8h0M1016.0 156.1h0M1015.9 153.3h0M1009.3 152.4h0M1001.6 146.2h0M1001.5 148.2h0M995.9 143.0h0M994.1 144.2h0M993.7 136.7h0M997.0 135.8h0M998.4 121.4h0M996.9 118.4h0M998.4 109.1h0M996.9 113.0h0M1003.5 99.0h0M1001.1 98.9h0M1006.5 93.0h0M1006.5 90.2h0M1009.8 80.9h0M1005.2 85.9h0" stroke="#c63c2a" stroke-width="2.2" stroke-linecap="round" fill="none"/>
<path d="M938.3,103.3 C939.1,101.4 941.7,98.9 945.0,96.7 C948.3,94.5 954.1,92.0 958.3,90.0 C962.5,88.0 965.8,86.4 970.0,85.0 C974.2,83.6 978.8,82.8 983.3,81.7 C987.8,80.6 992.5,79.1 996.7,78.3 C1000.9,77.5 1005.5,76.4 1008.3,76.7 C1011.1,77.0 1013.0,78.1 1013.3,80.0 C1013.6,81.9 1011.7,85.5 1010.0,88.3 C1008.3,91.1 1005.5,94.2 1003.3,96.7 C1001.1,99.2 998.4,101.1 996.7,103.3 C995.0,105.5 995.0,108.0 993.3,110.0 C991.6,112.0 989.5,114.2 986.7,115.0 C983.9,115.8 980.3,114.7 976.7,115.0 C973.1,115.3 968.9,117.0 965.0,116.7 C961.1,116.4 957.5,114.7 953.3,113.3 C949.1,111.9 942.5,110.0 940.0,108.3 C937.5,106.6 937.5,105.2 938.3,103.3 Z" fill="#7e7bc0" stroke="#7e7bc0" stroke-width="1.5" stroke-linejoin="round"/>
<path d="M940.5 102.9h0M943.1 100.0h0M949.3 94.7h0M955.0 91.8h0M964.1 87.7h0M959.4 87.7h0M978.4 83.6h0M983.0 81.3h0M990.5 81.2h0M992.2 77.7h0M997.3 79.1h0M1000.5 75.7h0M1007.6 77.7h0M1012.5 78.1h0M1011.4 84.1h0M1014.6 79.7h0M1005.4 94.4h0M1008.3 94.2h0M999.3 98.4h0M995.8 103.3h0M996.3 106.2h0M997.7 104.2h0M988.3 113.3h0M987.3 112.4h0M986.6 114.8h0M982.1 114.3h0M974.5 113.3h0M969.4 114.6h0M955.1 115.3h0M961.0 115.2h0M940.4 107.7h0M946.6 109.2h0M941.3 106.8h0M937.3 102.6h0" stroke="#7e7bc0" stroke-width="2.2" stroke-linecap="round" fill="none"/>
<path d="M1108.3,84.2 C1108.9,83.7 1113.6,84.0 1116.7,85.0 C1119.8,86.0 1123.9,90.0 1126.7,90.0 C1129.5,90.0 1130.2,86.4 1133.3,85.0 C1136.3,83.6 1140.8,82.4 1145.0,81.7 C1149.2,81.0 1154.1,79.7 1158.3,80.8 C1162.5,81.9 1167.2,85.4 1170.0,88.3 C1172.8,91.2 1174.5,94.7 1175.0,98.3 C1175.5,101.9 1174.1,105.8 1173.3,110.0 C1172.5,114.2 1170.8,119.4 1170.0,123.3 C1169.2,127.2 1168.8,130.2 1168.3,133.3 C1167.8,136.4 1167.2,140.0 1166.7,141.7 C1166.2,143.4 1166.1,143.9 1165.0,143.3 C1163.9,142.7 1162.5,139.7 1160.0,138.3 C1157.5,136.9 1153.3,136.4 1150.0,135.0 C1146.7,133.6 1143.0,131.9 1140.0,130.0 C1137.0,128.1 1133.9,126.1 1131.7,123.3 C1129.5,120.5 1127.8,116.6 1126.7,113.3 C1125.6,110.0 1124.7,106.3 1125.0,103.3 C1125.3,100.2 1129.1,96.9 1128.3,95.0 C1127.5,93.1 1122.5,92.8 1120.0,91.7 C1117.5,90.6 1115.2,89.5 1113.3,88.3 C1111.3,87.0 1107.7,84.8 1108.3,84.2 Z" fill="#2a8c4e" stroke="#2a8c4e" stroke-width="1.5" stroke-linejoin="round"/>
<path d="M1111.2 84.1h0M1118.0 86.3h0M1124.8 90.1h0M1123.2 85.8h0M1131.3 87.4h0M1130.0 84.8h0M1142.5 81.8h0M1136.4 84.9h0M1156.9 81.5h0M1149.3 81.0h0M1158.8 80.8h0M1168.9 86.4h0M1176.7 97.1h0M1169.3 87.9h0M1172.6 101.2h0M1174.9 103.0h0M1170.4 119.6h0M1171.0 116.3h0M1168.9 126.0h0M1169.8 125.1h0M1165.7 139.5h0M1167.5 135.1h0M1166.6 144.9h0M1164.6 142.7h0M1160.4 139.2h0M1164.5 145.2h0M1153.3 137.7h0M1155.8 136.0h0M1145.6 134.3h0M1143.4 132.6h0M1136.4 124.9h0M1132.3 126.6h0M1127.6 115.2h0M1131.0 121.7h0M1124.6 112.3h0M1125.2 106.3h0M1124.8 97.4h0M1128.5 100.1h0M1120.9 90.9h0M1128.3 95.1h0M1115.8 90.6h0M1115.1 88.3h0M1111.8 84.4h0M1112.4 87.8h0" stroke="#2a8c4e" stroke-width="2.2" stroke-linecap="round" fill="none"/>
<path d="M1156.7,148.3 C1158.9,146.9 1163.9,146.7 1166.7,146.7 C1169.5,146.7 1170.8,147.2 1173.3,148.3 C1175.8,149.4 1179.2,150.8 1181.7,153.3 C1184.2,155.8 1186.6,160.0 1188.3,163.3 C1190.0,166.6 1191.7,170.0 1191.7,173.3 C1191.7,176.6 1190.2,180.5 1188.3,183.3 C1186.3,186.1 1183.0,188.6 1180.0,190.0 C1177.0,191.4 1173.3,191.7 1170.0,191.7 C1166.7,191.7 1163.0,191.4 1160.0,190.0 C1157.0,188.6 1153.7,185.8 1151.7,183.3 C1149.8,180.8 1148.6,178.3 1148.3,175.0 C1148.0,171.7 1149.2,166.6 1150.0,163.3 C1150.8,160.0 1152.2,157.5 1153.3,155.0 C1154.4,152.5 1154.5,149.7 1156.7,148.3 Z" fill="#2a8c4e" stroke="#2a8c4e" stroke-width="1.5" stroke-linejoin="round"/>
<path d="M1162.2 148.5h0M1164.1 145.8h0M1172.3 149.7h0M1167.0 148.2h0M1177.8 149.8h0M1173.7 148.9h0M1188.1 158.4h0M1183.0 159.3h0M1186.8 162.8h0M1191.4 168.9h0M1191.4 182.5h0M1189.2 178.5h0M1180.0 189.0h0M1184.6 185.1h0M1176.1 189.3h0M1178.5 188.9h0M1159.1 189.4h0M1163.2 190.0h0M1159.5 189.1h0M1151.0 183.2h0M1146.6 175.5h0M1150.1 174.5h0M1146.4 176.4h0M1149.8 173.7h0M1150.1 162.5h0M1151.0 159.1h0M1153.4 150.7h0M1157.7 150.5h0" stroke="#2a8c4e" stroke-width="2.2" stroke-linecap="round" fill="none"/>
<path d="M1166.7,203.3 C1167.8,201.6 1170.3,202.8 1171.7,205.0 C1173.1,207.2 1174.7,213.4 1175.0,216.7 C1175.3,220.0 1174.5,223.8 1173.3,225.0 C1172.1,226.2 1169.4,225.7 1168.0,224.0 C1166.6,222.3 1165.2,218.4 1165.0,215.0 C1164.8,211.6 1165.6,205.0 1166.7,203.3 Z" fill="#2a8c4e" stroke="#2a8c4e" stroke-width="1.5" stroke-linejoin="round"/>
<path d="M1169.3 203.7h0M1171.1 206.1h0M1171.9 209.2h0M1175.2 209.4h0M1174.7 224.8h0M1174.2 222.4h0M1171.0 225.9h0M1171.5 226.0h0M1165.3 219.7h0M1165.6 221.1h0M1168.6 203.6h0M1163.4 214.0h0" stroke="#2a8c4e" stroke-width="2.2" stroke-linecap="round" fill="none"/>
<path d="M1163.0,140.0 C1164.0,139.7 1166.8,141.7 1168.0,143.0 C1169.2,144.3 1170.5,147.0 1170.0,148.0 C1169.5,149.0 1166.3,149.5 1165.0,149.0 C1163.7,148.5 1162.3,146.5 1162.0,145.0 C1161.7,143.5 1162.0,140.3 1163.0,140.0 Z" fill="#2a8c4e" stroke="#2a8c4e" stroke-width="1.5" stroke-linejoin="round"/>
<path d="M1166.3 141.0h0M1165.6 142.0h0M1171.0 147.5h0M1169.7 142.7h0M1166.6 149.6h0M1167.9 147.1h0M1166.2 148.7h0M1163.6 149.9h0M1161.3 143.8h0M1164.8 140.0h0" stroke="#2a8c4e" stroke-width="2.2" stroke-linecap="round" fill="none"/>
<path d="M1138.0,195.0 C1138.7,194.0 1141.5,193.2 1143.0,194.0 C1144.5,194.8 1146.5,198.0 1147.0,200.0 C1147.5,202.0 1147.0,205.2 1146.0,206.0 C1145.0,206.8 1142.2,206.0 1141.0,205.0 C1139.8,204.0 1139.5,201.7 1139.0,200.0 C1138.5,198.3 1137.3,196.0 1138.0,195.0 Z" fill="#2a8c4e" stroke="#2a8c4e" stroke-width="1.5" stroke-linejoin="round"/>
<path d="M1141.8 196.0h0M1140.5 193.2h0M1142.1 196.8h0M1147.2 196.9h0M1145.9 204.1h0M1148.2 202.9h0M1143.5 204.2h0M1142.6 204.3h0M1140.9 204.4h0M1138.4 203.2h0M1136.9 195.8h0M1140.1 199.2h0" stroke="#2a8c4e" stroke-width="2.2" stroke-linecap="round" fill="none"/>
<path d="M915.0,160.8 C917.1,159.6 921.7,158.6 925.0,158.3 C928.3,158.0 932.4,158.8 935.0,159.2 C937.6,159.6 939.4,159.3 940.8,160.8 C942.2,162.3 942.3,166.5 943.3,168.3 C944.3,170.1 945.6,170.6 946.7,171.7 C947.8,172.8 949.2,173.5 950.0,175.0 C950.8,176.5 952.0,179.1 951.7,180.8 C951.4,182.5 949.7,184.0 948.3,185.0 C946.9,186.0 944.0,185.6 943.3,186.7 C942.6,187.8 943.6,190.3 944.2,191.7 C944.8,193.1 946.6,193.6 946.7,195.0 C946.8,196.4 945.0,198.6 945.0,200.0 C945.0,201.4 945.3,202.8 946.7,203.3 C948.1,203.9 951.4,203.2 953.3,203.3 C955.2,203.5 957.7,203.5 958.3,204.2 C958.9,204.9 957.8,206.8 956.7,207.5 C955.6,208.2 953.1,207.9 951.7,208.3 C950.3,208.7 948.3,208.9 948.3,210.0 C948.3,211.1 950.3,213.5 951.7,215.0 C953.1,216.5 955.3,217.5 956.7,219.2 C958.1,220.9 958.9,222.8 960.0,225.0 C961.1,227.2 962.5,230.6 963.3,232.5 C964.1,234.4 965.5,235.7 965.0,236.7 C964.5,237.7 962.0,238.2 960.0,238.3 C958.0,238.4 955.5,237.9 953.3,237.5 C951.1,237.1 948.9,236.5 946.7,235.8 C944.5,235.1 942.0,234.3 940.0,233.3 C938.0,232.3 936.4,230.8 935.0,230.0 C933.6,229.2 933.4,227.9 931.7,228.3 C930.0,228.7 927.0,231.1 925.0,232.5 C923.0,233.9 922.0,235.4 920.0,236.7 C918.0,237.9 914.8,239.7 913.3,240.0 C911.8,240.3 910.9,239.4 910.8,238.3 C910.7,237.2 911.1,235.0 912.5,233.3 C913.9,231.6 917.1,230.0 919.2,228.3 C921.3,226.6 923.6,225.0 925.0,223.3 C926.4,221.6 927.5,219.7 927.5,218.3 C927.5,216.9 926.0,216.1 925.0,215.0 C924.0,213.9 923.1,213.1 921.7,211.7 C920.3,210.3 918.2,208.4 916.7,206.7 C915.2,205.0 912.8,203.2 912.5,201.7 C912.2,200.2 915.4,199.2 915.0,197.5 C914.6,195.8 911.0,193.8 910.0,191.7 C909.0,189.6 909.5,187.2 909.2,185.0 C908.9,182.8 908.2,180.5 908.3,178.3 C908.4,176.1 909.3,173.8 910.0,171.7 C910.7,169.6 911.7,167.6 912.5,165.8 C913.3,164.0 912.9,162.1 915.0,160.8 Z" fill="#e88c25" stroke="#e88c25" stroke-width="1.5" stroke-linejoin="round"/>
<path d="M913.9 160.2h0M921.1 157.6h0M927.5 158.1h0M927.0 160.5h0M937.1 159.1h0M939.0 162.1h0M940.4 164.5h0M939.1 164.1h0M946.2 169.3h0M946.1 169.8h0M947.0 172.4h0M947.9 175.2h0M950.7 175.6h0M950.6 178.5h0M951.3 182.6h0M947.1 183.2h0M945.7 186.5h0M949.9 184.6h0M944.6 192.6h0M944.7 186.3h0M946.7 194.5h0M943.4 191.9h0M945.3 195.9h0M947.3 198.0h0M945.3 201.3h0M946.6 198.4h0M950.9 203.9h0M948.4 203.7h0M956.1 203.4h0M953.4 204.2h0M956.4 207.0h0M956.9 205.4h0M952.6 206.2h0M952.8 207.6h0M947.9 209.8h0M952.4 209.7h0M948.1 212.6h0M951.6 210.3h0M958.2 219.6h0M954.4 220.5h0M960.3 223.9h0M958.5 222.1h0M959.6 226.6h0M962.3 225.2h0M963.1 235.9h0M963.6 235.3h0M961.7 235.5h0M962.6 238.9h0M957.2 236.3h0M953.0 237.8h0M948.5 238.1h0M950.0 238.2h0M948.2 236.1h0M945.4 233.8h0M935.4 229.4h0M935.9 229.4h0M930.6 230.1h0M934.8 231.7h0M928.5 229.9h0M929.6 226.8h0M921.6 235.1h0M918.9 235.1h0M913.5 236.7h0M915.9 237.2h0M913.1 240.0h0M913.3 239.5h0M913.0 236.5h0M909.3 238.2h0M919.6 228.5h0M912.1 232.6h0M921.8 226.1h0M923.7 227.1h0M927.4 220.1h0M925.9 219.5h0M928.6 216.0h0M928.1 214.9h0M924.8 214.4h0M924.3 211.5h0M919.3 208.2h0M918.5 208.2h0M918.2 207.7h0M915.8 204.2h0M911.3 199.6h0M911.9 202.6h0M913.0 194.4h0M913.9 195.7h0M909.5 185.4h0M911.5 186.2h0M906.3 178.0h0M910.1 185.4h0M908.8 175.0h0M907.7 177.9h0M912.4 168.7h0M912.3 167.4h0M915.8 162.0h0M914.6 161.3h0" stroke="#e88c25" stroke-width="2.2" stroke-linecap="round" fill="none"/>
<path d="M1026.0,207.7 C1028.0,205.7 1031.1,203.5 1034.0,203.7 C1036.9,203.9 1040.6,207.7 1043.3,209.0 C1046.0,210.3 1047.3,212.4 1050.0,211.7 C1052.7,211.0 1057.3,207.4 1059.3,205.0 C1061.3,202.6 1060.2,198.7 1062.0,197.0 C1063.8,195.3 1067.5,194.6 1070.0,195.0 C1072.5,195.4 1074.5,197.6 1076.7,199.7 C1078.9,201.8 1080.9,205.9 1083.3,207.7 C1085.7,209.5 1089.1,211.2 1091.3,210.3 C1093.5,209.4 1094.7,204.3 1096.7,202.3 C1098.7,200.3 1100.0,199.4 1103.3,198.3 C1106.6,197.2 1112.2,195.7 1116.7,195.7 C1121.2,195.7 1126.7,196.5 1130.0,198.3 C1133.3,200.1 1134.2,203.2 1136.7,206.3 C1139.2,209.4 1144.3,214.1 1144.7,217.0 C1145.1,219.9 1141.5,221.0 1139.3,223.7 C1137.1,226.4 1134.0,229.7 1131.3,233.0 C1128.6,236.3 1126.0,242.1 1123.3,243.7 C1120.6,245.2 1117.5,243.6 1115.3,242.3 C1113.1,241.0 1111.3,237.9 1110.0,235.7 C1108.7,233.5 1108.2,229.0 1107.3,229.0 C1106.4,229.0 1104.7,233.0 1104.7,235.7 C1104.7,238.4 1106.4,242.3 1107.3,245.0 C1108.2,247.7 1110.2,248.4 1110.0,251.7 C1109.8,255.0 1107.5,261.0 1106.0,265.0 C1104.5,269.0 1103.2,273.0 1100.7,275.7 C1098.2,278.4 1094.6,279.7 1091.3,281.0 C1088.0,282.3 1084.2,283.9 1080.7,283.7 C1077.2,283.5 1073.1,281.0 1070.0,279.7 C1066.9,278.4 1064.7,276.8 1062.0,275.7 C1059.3,274.6 1056.7,272.8 1054.0,273.0 C1051.3,273.2 1048.9,276.1 1046.0,277.0 C1043.1,277.9 1039.4,278.5 1036.7,278.3 C1034.0,278.1 1032.0,277.9 1030.0,275.7 C1028.0,273.5 1026.1,268.9 1024.7,265.0 C1023.3,261.1 1021.5,254.8 1021.5,252.0 C1021.5,249.2 1022.8,248.5 1025.0,248.0 C1027.2,247.5 1032.5,249.7 1035.0,249.0 C1037.5,248.3 1039.2,246.3 1040.0,244.0 C1040.8,241.7 1040.5,237.5 1040.0,235.0 C1039.5,232.5 1038.7,230.5 1037.0,229.0 C1035.3,227.5 1032.2,226.8 1030.0,226.0 C1027.8,225.2 1025.3,225.7 1024.0,224.0 C1022.7,222.3 1021.7,218.4 1022.0,215.7 C1022.3,213.0 1024.0,209.7 1026.0,207.7 Z" fill="#1170bd" stroke="#1170bd" stroke-width="1.5" stroke-linejoin="round"/>
<path d="M1028.2 205.0h0M1031.7 202.0h0M1036.9 203.6h0M1033.2 202.4h0M1048.5 211.7h0M1046.3 211.4h0M1054.8 210.7h0M1056.4 207.3h0M1063.7 196.0h0M1058.1 201.3h0M1070.2 195.9h0M1069.2 194.4h0M1068.9 196.6h0M1070.6 195.6h0M1075.8 198.9h0M1080.8 204.6h0M1091.0 211.8h0M1086.2 208.9h0M1094.9 206.1h0M1095.3 203.4h0M1100.6 200.3h0M1095.6 200.3h0M1115.6 194.1h0M1109.8 198.3h0M1119.1 195.5h0M1126.7 199.8h0M1130.6 201.4h0M1131.6 202.9h0M1138.6 208.0h0M1143.6 214.1h0M1142.1 221.4h0M1145.9 215.5h0M1136.6 227.4h0M1134.8 230.1h0M1129.3 235.6h0M1126.4 241.7h0M1119.7 241.7h0M1117.3 243.6h0M1114.1 242.4h0M1110.6 238.3h0M1106.5 228.4h0M1110.1 235.2h0M1105.4 228.9h0M1106.5 229.7h0M1104.2 240.8h0M1104.8 244.5h0M1107.1 247.8h0M1110.5 250.0h0M1109.8 252.6h0M1108.7 252.4h0M1105.2 270.1h0M1103.9 270.2h0M1099.8 276.0h0M1095.5 279.3h0M1086.3 282.2h0M1089.9 283.3h0M1073.3 282.2h0M1074.1 280.8h0M1068.1 276.7h0M1067.9 279.0h0M1055.9 273.7h0M1058.9 274.1h0M1050.5 274.3h0M1050.0 275.1h0M1043.5 275.6h0M1039.5 278.9h0M1030.5 274.1h0M1033.0 277.8h0M1027.9 271.7h0M1026.8 272.1h0M1024.8 261.8h0M1020.6 257.2h0M1020.8 249.6h0M1020.8 250.0h0M1030.1 247.8h0M1026.4 249.3h0M1039.8 243.1h0M1038.5 243.7h0M1041.2 244.2h0M1039.9 238.6h0M1041.4 233.0h0M1039.5 232.6h0M1032.8 227.8h0M1037.6 228.0h0M1023.9 223.8h0M1028.2 224.1h0M1025.0 223.0h0M1022.6 221.9h0M1024.3 213.0h0M1025.3 214.4h0" stroke="#1170bd" stroke-width="2.2" stroke-linecap="round" fill="none"/>
<path d="M1003.3,214.3 C1004.6,212.8 1009.3,212.6 1011.3,213.0 C1013.3,213.4 1015.5,215.0 1015.3,217.0 C1015.1,219.0 1011.1,222.3 1010.0,225.0 C1008.9,227.7 1008.2,230.3 1008.7,233.0 C1009.2,235.7 1012.9,238.3 1012.7,241.0 C1012.5,243.7 1009.1,247.2 1007.3,249.0 C1005.5,250.8 1003.5,251.7 1002.0,251.7 C1000.5,251.7 998.0,250.8 998.0,249.0 C998.0,247.2 1000.9,243.9 1002.0,241.0 C1003.1,238.1 1004.5,234.8 1004.7,231.7 C1004.9,228.6 1003.5,225.2 1003.3,222.3 C1003.1,219.4 1002.0,215.9 1003.3,214.3 Z" fill="#1170bd" stroke="#1170bd" stroke-width="1.5" stroke-linejoin="round"/>
<path d="M1005.2 216.0h0M1008.0 214.7h0M1011.7 213.4h0M1015.8 215.7h0M1013.2 216.6h0M1010.5 221.7h0M1010.1 230.8h0M1009.3 233.4h0M1013.1 239.6h0M1010.7 240.6h0M1010.9 245.0h0M1008.2 247.0h0M1004.5 249.6h0M1006.8 247.6h0M1000.0 250.5h0M996.4 250.9h0M1000.1 246.0h0M1000.8 241.9h0M1002.7 232.7h0M1001.6 235.6h0M1005.6 224.5h0M1003.4 222.4h0M1001.2 216.1h0M1002.6 218.9h0" stroke="#1170bd" stroke-width="2.2" stroke-linecap="round" fill="none"/>
<path d="M1031.3,297.0 C1032.8,295.9 1036.8,295.0 1039.3,294.3 C1041.8,293.6 1044.2,291.9 1046.0,293.0 C1047.8,294.1 1048.2,298.6 1050.0,301.0 C1051.8,303.4 1054.2,307.0 1056.7,307.7 C1059.2,308.4 1062.7,305.9 1064.7,305.0 C1066.7,304.1 1067.2,301.6 1068.7,302.3 C1070.2,303.0 1073.3,307.0 1074.0,309.0 C1074.7,311.0 1074.2,313.0 1072.7,314.3 C1071.2,315.6 1067.8,316.8 1064.7,317.0 C1061.6,317.2 1057.6,316.6 1054.0,315.7 C1050.4,314.8 1046.4,313.0 1043.3,311.7 C1040.2,310.4 1037.5,309.5 1035.3,307.7 C1033.1,305.9 1030.7,302.8 1030.0,301.0 C1029.3,299.2 1029.8,298.1 1031.3,297.0 Z" fill="#1170bd" stroke="#1170bd" stroke-width="1.5" stroke-linejoin="round"/>
<path d="M1034.1 296.1h0M1036.2 294.6h0M1042.4 295.2h0M1042.7 293.5h0M1047.0 297.1h0M1050.6 302.1h0M1051.4 302.3h0M1054.5 306.2h0M1058.0 309.3h0M1059.1 305.3h0M1063.4 306.8h0M1067.8 304.6h0M1074.0 308.9h0M1072.9 306.9h0M1071.8 313.3h0M1074.6 309.7h0M1069.2 316.0h0M1066.1 316.2h0M1057.2 316.2h0M1061.1 316.3h0M1050.3 315.0h0M1042.0 312.3h0M1041.3 312.9h0M1040.5 309.2h0M1034.7 308.0h0M1032.4 301.3h0M1028.8 300.0h0M1028.7 298.0h0" stroke="#1170bd" stroke-width="2.2" stroke-linecap="round" fill="none"/>
<path d="M1007.3,271.7 C1008.4,269.9 1011.1,269.4 1012.7,270.3 C1014.3,271.2 1015.2,275.4 1016.7,277.0 C1018.2,278.6 1021.3,277.7 1022.0,279.7 C1022.7,281.7 1022.0,287.0 1020.7,289.0 C1019.4,291.0 1016.0,291.7 1014.0,291.7 C1012.0,291.7 1010.0,290.8 1008.7,289.0 C1007.4,287.2 1006.2,283.9 1006.0,281.0 C1005.8,278.1 1006.2,273.5 1007.3,271.7 Z" fill="#1170bd" stroke="#1170bd" stroke-width="1.5" stroke-linejoin="round"/>
<path d="M1008.1 270.0h0M1010.7 272.0h0M1011.1 272.1h0M1014.7 270.5h0M1018.2 278.1h0M1022.2 277.5h0M1022.1 285.4h0M1019.7 290.4h0M1013.7 288.8h0M1017.7 288.9h0M1013.4 289.4h0M1009.4 287.4h0M1008.0 285.8h0M1005.3 284.9h0M1007.1 278.2h0M1006.0 278.4h0" stroke="#1170bd" stroke-width="2.2" stroke-linecap="round" fill="none"/>
<path d="M968.3,187.5 C970.0,186.8 974.7,186.3 978.0,186.5 C981.3,186.7 987.0,187.6 988.3,188.5 C989.6,189.4 988.2,191.1 986.0,191.7 C983.8,192.3 978.0,192.1 975.0,192.0 C972.0,191.9 969.1,191.8 968.0,191.0 C966.9,190.2 966.6,188.2 968.3,187.5 Z" fill="#1170bd" stroke="#1170bd" stroke-width="1.5" stroke-linejoin="round"/>
<path d="M978.7 186.8h0M969.2 189.3h0M986.7 187.2h0M986.3 189.2h0M986.1 190.1h0M985.7 192.2h0M981.1 193.2h0M980.7 190.7h0M972.4 193.0h0M966.8 192.6h0M969.9 188.5h0M969.6 191.4h0" stroke="#1170bd" stroke-width="2.2" stroke-linecap="round" fill="none"/>
<path d="M982.0,206.5 C983.2,205.2 987.0,204.3 990.0,204.5 C993.0,204.7 998.5,206.2 1000.0,207.5 C1001.5,208.8 1000.7,211.4 999.0,212.5 C997.3,213.6 992.7,214.1 990.0,214.0 C987.3,213.9 984.3,213.2 983.0,212.0 C981.7,210.8 980.8,207.8 982.0,206.5 Z" fill="#1170bd" stroke="#1170bd" stroke-width="1.5" stroke-linejoin="round"/>
<path d="M989.3 204.5h0M982.9 207.6h0M993.1 207.0h0M992.8 206.0h0M998.2 208.7h0M1000.5 211.1h0M999.6 213.8h0M997.3 214.6h0M983.9 212.1h0M984.5 211.5h0M983.7 210.4h0M982.0 209.0h0" stroke="#1170bd" stroke-width="2.2" stroke-linecap="round" fill="none"/>
<path d="M990.0,205.5 C990.7,204.4 994.7,204.2 996.0,205.0 C997.3,205.8 998.7,208.9 998.0,210.0 C997.3,211.1 993.3,212.4 992.0,211.7 C990.7,210.9 989.3,206.6 990.0,205.5 Z" fill="#1170bd" stroke="#1170bd" stroke-width="1.5" stroke-linejoin="round"/>
<path d="M988.9 207.6h0M990.5 205.9h0M996.1 209.4h0M996.8 204.6h0M1000.0 211.7h0M995.4 209.8h0M990.1 208.8h0M991.9 209.0h0" stroke="#1170bd" stroke-width="2.2" stroke-linecap="round" fill="none"/>
<path d="M965.0,256.7 C967.2,254.8 973.7,254.4 976.7,253.3 C979.8,252.2 981.4,249.4 983.3,250.0 C985.2,250.6 987.2,253.6 988.3,256.7 C989.4,259.8 990.8,265.5 990.0,268.3 C989.2,271.1 986.1,271.9 983.3,273.3 C980.5,274.7 976.1,276.7 973.3,276.7 C970.5,276.7 968.4,275.2 966.7,273.3 C965.0,271.4 963.6,267.8 963.3,265.0 C963.0,262.2 962.8,258.6 965.0,256.7 Z" fill="#6e9bb0" stroke="#6e9bb0" stroke-width="1.5" stroke-linejoin="round"/>
<path d="M965.9 254.5h0M965.3 254.1h0M982.0 251.3h0M984.8 248.3h0M985.8 252.3h0M987.0 256.7h0M991.4 264.9h0M988.7 259.8h0M985.7 271.9h0M988.7 267.8h0M976.1 277.9h0M984.1 274.4h0M971.2 272.5h0M973.5 278.1h0M963.5 268.1h0M962.4 266.2h0M962.1 262.8h0M962.4 262.0h0" stroke="#6e9bb0" stroke-width="2.2" stroke-linecap="round" fill="none"/>
<path d="M905.0,123.0 C906.0,121.5 908.8,121.2 910.0,122.0 C911.2,122.8 912.2,126.0 912.0,128.0 C911.8,130.0 910.3,133.5 909.0,134.0 C907.7,134.5 904.7,132.8 904.0,131.0 C903.3,129.2 904.0,124.5 905.0,123.0 Z" fill="#fcd38c" stroke="#fcd38c" stroke-width="1.5" stroke-linejoin="round"/>
<path d="M906.2 123.3h0M903.9 124.7h0M912.4 124.9h0M910.2 127.1h0M913.6 130.1h0M909.9 131.1h0M904.8 132.1h0M907.1 131.6h0M904.9 123.7h0M903.8 123.6h0" stroke="#fcd38c" stroke-width="2.2" stroke-linecap="round" fill="none"/>
<path d="M1010.0,19.0 C1010.4,18.6 1011.6,18.7 1012.0,19.5 C1012.4,20.3 1012.8,23.1 1012.5,24.0 C1012.2,24.9 1011.0,25.3 1010.5,25.0 C1010.0,24.7 1009.6,23.0 1009.5,22.0 C1009.4,21.0 1009.6,19.4 1010.0,19.0 Z" fill="#fcd38c" stroke="#fcd38c" stroke-width="1.5" stroke-linejoin="round"/>
<path d="M1009.3 20.6h0M1009.2 19.1h0M1013.9 19.2h0M1010.5 25.6h0M1009.9 24.6h0M1010.9 23.0h0M1012.3 26.1h0M1007.8 21.3h0M1008.0 20.3h0M1011.8 19.0h0" stroke="#fcd38c" stroke-width="2.2" stroke-linecap="round" fill="none"/>
<path d="M930.0,67.0 C930.8,66.6 933.0,66.2 934.0,66.5 C935.0,66.8 936.3,68.3 936.0,69.0 C935.7,69.7 933.1,70.5 932.0,70.5 C930.9,70.5 929.8,69.6 929.5,69.0 C929.2,68.4 929.2,67.4 930.0,67.0 Z" fill="#7e7bc0" stroke="#7e7bc0" stroke-width="1.5" stroke-linejoin="round"/>
<path d="M932.5 65.0h0M931.5 67.1h0M934.1 68.8h0M934.8 65.5h0M936.5 70.2h0M933.4 67.5h0M930.5 68.6h0M932.0 71.1h0M930.3 66.1h0M930.6 68.5h0" stroke="#7e7bc0" stroke-width="2.2" stroke-linecap="round" fill="none"/>
<path d="M981.0,231.0 C981.8,230.3 984.3,229.5 986.0,229.0 C987.7,228.5 990.2,227.8 991.0,228.0 C991.8,228.2 991.5,229.3 990.5,230.0 C989.5,230.7 986.5,231.5 985.0,232.0 C983.5,232.5 982.2,233.2 981.5,233.0 C980.8,232.8 980.2,231.7 981.0,231.0 Z" fill="#7a7a7a" stroke="#7a7a7a" stroke-width="1.5" stroke-linejoin="round"/>
<path d="M982.7 230.9h0M984.2 231.9h0M986.3 230.3h0M990.0 227.5h0M992.4 227.8h0M990.4 228.7h0M990.6 229.8h0M986.0 232.0h0M983.8 232.0h0M982.0 233.8h0M983.1 234.9h0M981.3 232.1h0" stroke="#7a7a7a" stroke-width="2.2" stroke-linecap="round" fill="none"/>
<path d="M976.0,303.5 C976.4,302.8 979.2,302.6 980.0,303.0 C980.8,303.4 981.4,305.3 981.0,306.0 C980.6,306.7 978.3,307.4 977.5,307.0 C976.7,306.6 975.6,304.2 976.0,303.5 Z" fill="#e2409a" stroke="#e2409a" stroke-width="1.5" stroke-linejoin="round"/>
<path d="M976.0 305.3h0M975.5 301.6h0M981.6 301.7h0M981.0 301.9h0M981.4 306.4h0M980.1 304.8h0M977.2 302.0h0M977.3 306.6h0" stroke="#e2409a" stroke-width="2.2" stroke-linecap="round" fill="none"/>
<ellipse cx="940.4" cy="181.2" rx="4.3" ry="3.2" fill="#fff"/>
<ellipse cx="932" cy="216.7" rx="2.8" ry="2.4" fill="#fff"/>
<ellipse cx="1073" cy="249.5" rx="2.3" ry="2.8" fill="#fff"/>
<ellipse cx="1079.6" cy="247.4" rx="1.3" ry="2.4" fill="#fff"/>
<ellipse cx="1122" cy="219" rx="6" ry="4.5" fill="#fff"/>
<ellipse cx="1012" cy="156" rx="3" ry="4" fill="#fff"/>
<path d="M1042.5,248.3 C1044.0,246.7 1048.8,246.6 1051.5,246.8 C1054.2,247.1 1057.2,248.2 1059.0,249.8 C1060.8,251.4 1061.0,254.1 1062.0,256.5 C1063.0,258.9 1063.2,262.2 1065.0,264.0 C1066.8,265.8 1070.4,267.2 1072.5,267.0 C1074.6,266.8 1076.5,264.5 1077.8,262.5 C1079.0,260.5 1079.0,255.5 1080.0,255.0 C1081.0,254.5 1082.9,258.0 1083.8,259.5 C1084.7,261.0 1085.9,262.2 1085.3,264.0 C1084.7,265.8 1082.1,268.5 1080.0,270.0 C1077.9,271.5 1075.0,272.8 1072.5,273.0 C1070.0,273.2 1067.0,272.5 1065.0,271.5 C1063.0,270.5 1062.0,268.2 1060.5,267.0 C1059.0,265.8 1057.5,264.8 1056.0,264.0 C1054.5,263.2 1053.2,263.0 1051.5,262.5 C1049.8,262.0 1047.0,262.0 1045.5,261.0 C1044.0,260.0 1043.0,258.6 1042.5,256.5 C1042.0,254.4 1041.0,249.9 1042.5,248.3 Z" fill="#fff"/>
<path d="M1050.0 254.0h0M1047.0 258.0h0M1055.0 252.0h0M1068.0 266.0h0M1058.0 259.0h0M1036.0 237.0h0M1032.0 240.0h0M1027.0 231.0h0" stroke="#1170bd" stroke-width="2.6" stroke-linecap="round" fill="none"/>
<text x="953.4" y="100.5" font-size="12.8" fill="#1a1a1a">T cells</text>
<text x="1035" y="127.5" font-size="12.8" fill="#1a1a1a">NK/T cells</text>
<text x="1137" y="118.5" font-size="12.8" fill="#1a1a1a">B cells</text>
<text x="873" y="137" font-size="12.8" fill="#1a1a1a">Plasma cells</text>
<text x="905" y="195" font-size="12.8" fill="#1a1a1a">Macrophages</text>
<text x="1020.5" y="226.5" font-size="12.8" fill="#1a1a1a">Epithelial cells</text>
<text x="931.3" y="245.8" font-size="12.8" fill="#1a1a1a">Endothelial cells</text>
<text x="940" y="268.3" font-size="12.8" fill="#1a1a1a">Fibroblasts</text>
<text x="950.3" y="306.7" font-size="12.8" fill="#1a1a1a">Mast cells</text>
</g><g id="panelC">
<line x1="110.4" y1="522.5" x2="581.6" y2="522.5" stroke="#e6eaf0" stroke-width="0.9"/>
<line x1="110.4" y1="547" x2="581.6" y2="547" stroke="#e6eaf0" stroke-width="0.9"/>
<line x1="110.4" y1="571.5" x2="581.6" y2="571.5" stroke="#e6eaf0" stroke-width="0.9"/>
<line x1="110.4" y1="596" x2="581.6" y2="596" stroke="#e6eaf0" stroke-width="0.9"/>
<line x1="110.4" y1="620.5" x2="581.6" y2="620.5" stroke="#e6eaf0" stroke-width="0.9"/>
<line x1="110.4" y1="645" x2="581.6" y2="645" stroke="#e6eaf0" stroke-width="0.9"/>
<line x1="110.4" y1="669.5" x2="581.6" y2="669.5" stroke="#e6eaf0" stroke-width="0.9"/>
<line x1="110.4" y1="694.3" x2="581.6" y2="694.3" stroke="#e6eaf0" stroke-width="0.9"/>
<line x1="110.4" y1="718.8" x2="581.6" y2="718.8" stroke="#e6eaf0" stroke-width="0.9"/>
<line x1="124.8" y1="507.6" x2="124.8" y2="733.3" stroke="#e6eaf0" stroke-width="0.9"/>
<line x1="149.4" y1="507.6" x2="149.4" y2="733.3" stroke="#e6eaf0" stroke-width="0.9"/>
<line x1="174.0" y1="507.6" x2="174.0" y2="733.3" stroke="#e6eaf0" stroke-width="0.9"/>
<line x1="198.5" y1="507.6" x2="198.5" y2="733.3" stroke="#e6eaf0" stroke-width="0.9"/>
<line x1="223.1" y1="507.6" x2="223.1" y2="733.3" stroke="#e6eaf0" stroke-width="0.9"/>
<line x1="247.7" y1="507.6" x2="247.7" y2="733.3" stroke="#e6eaf0" stroke-width="0.9"/>
<line x1="272.3" y1="507.6" x2="272.3" y2="733.3" stroke="#e6eaf0" stroke-width="0.9"/>
<line x1="296.9" y1="507.6" x2="296.9" y2="733.3" stroke="#e6eaf0" stroke-width="0.9"/>
<line x1="321.4" y1="507.6" x2="321.4" y2="733.3" stroke="#e6eaf0" stroke-width="0.9"/>
<line x1="346.0" y1="507.6" x2="346.0" y2="733.3" stroke="#e6eaf0" stroke-width="0.9"/>
<line x1="370.6" y1="507.6" x2="370.6" y2="733.3" stroke="#e6eaf0" stroke-width="0.9"/>
<line x1="395.2" y1="507.6" x2="395.2" y2="733.3" stroke="#e6eaf0" stroke-width="0.9"/>
<line x1="419.8" y1="507.6" x2="419.8" y2="733.3" stroke="#e6eaf0" stroke-width="0.9"/>
<line x1="444.3" y1="507.6" x2="444.3" y2="733.3" stroke="#e6eaf0" stroke-width="0.9"/>
<line x1="468.9" y1="507.6" x2="468.9" y2="733.3" stroke="#e6eaf0" stroke-width="0.9"/>
<line x1="493.5" y1="507.6" x2="493.5" y2="733.3" stroke="#e6eaf0" stroke-width="0.9"/>
<line x1="518.1" y1="507.6" x2="518.1" y2="733.3" stroke="#e6eaf0" stroke-width="0.9"/>
<line x1="542.7" y1="507.6" x2="542.7" y2="733.3" stroke="#e6eaf0" stroke-width="0.9"/>
<line x1="567.2" y1="507.6" x2="567.2" y2="733.3" stroke="#e6eaf0" stroke-width="0.9"/>
<rect x="110.4" y="507.6" width="471.20000000000005" height="225.69999999999993" fill="none" stroke="#3a3a3a" stroke-width="1.3"/>
<line x1="107.4" y1="522.5" x2="110.4" y2="522.5" stroke="#444" stroke-width="0.8"/>
<text x="105.4" y="525.8" font-size="10.2" text-anchor="end" fill="#222">Mast cells</text>
<circle cx="124.8" cy="522.5" r="6" fill="#6a5f94" stroke="#222" stroke-width="0.6"/>
<circle cx="149.4" cy="522.5" r="2.2" fill="#2b4a68" stroke="#222" stroke-width="0.3"/>
<circle cx="174.0" cy="522.5" r="2.2" fill="#2b4a68" stroke="#222" stroke-width="0.3"/>
<circle cx="198.5" cy="522.5" r="2.8" fill="#2f6ca6" stroke="#222" stroke-width="0.3"/>
<circle cx="223.1" cy="522.5" r="2.2" fill="#2b4a68" stroke="#222" stroke-width="0.3"/>
<circle cx="247.7" cy="522.5" r="2.8" fill="#2f6ca6" stroke="#222" stroke-width="0.3"/>
<circle cx="272.3" cy="522.5" r="2.2" fill="#2b4a68" stroke="#222" stroke-width="0.3"/>
<circle cx="296.9" cy="522.5" r="1.6" fill="#2b4a68" stroke="#222" stroke-width="0.3"/>
<circle cx="321.4" cy="522.5" r="1.6" fill="#2b4a68" stroke="#222" stroke-width="0.3"/>
<circle cx="346.0" cy="522.5" r="3.5" fill="#74608e" stroke="#222" stroke-width="0.6"/>
<circle cx="370.6" cy="522.5" r="2.6" fill="#2b4a68" stroke="#222" stroke-width="0.3"/>
<circle cx="395.2" cy="522.5" r="1.7" fill="#2b4a68" stroke="#222" stroke-width="0.3"/>
<circle cx="419.8" cy="522.5" r="1.7" fill="#2b4a68" stroke="#222" stroke-width="0.3"/>
<circle cx="444.3" cy="522.5" r="3" fill="#2f6ca6" stroke="#222" stroke-width="0.3"/>
<circle cx="468.9" cy="522.5" r="3" fill="#2f6ca6" stroke="#222" stroke-width="0.3"/>
<circle cx="493.5" cy="522.5" r="2.8" fill="#2b4a68" stroke="#222" stroke-width="0.3"/>
<circle cx="518.1" cy="522.5" r="6.5" fill="#c8382a" stroke="#222" stroke-width="0.6"/>
<circle cx="542.7" cy="522.5" r="6.5" fill="#c8382a" stroke="#222" stroke-width="0.6"/>
<circle cx="567.2" cy="522.5" r="5.2" fill="#c8382a" stroke="#222" stroke-width="0.6"/>
<line x1="107.4" y1="547" x2="110.4" y2="547" stroke="#444" stroke-width="0.8"/>
<text x="105.4" y="550.3" font-size="10.2" text-anchor="end" fill="#222">Macrophages</text>
<circle cx="124.8" cy="547" r="6" fill="#3a6db8" stroke="#222" stroke-width="0.6"/>
<circle cx="149.4" cy="547" r="2" fill="#2b4a68" stroke="#222" stroke-width="0.3"/>
<circle cx="174.0" cy="547" r="2.2" fill="#2b4a68" stroke="#222" stroke-width="0.3"/>
<circle cx="198.5" cy="547" r="2.8" fill="#2f6ca6" stroke="#222" stroke-width="0.3"/>
<circle cx="223.1" cy="547" r="2.2" fill="#2b4a68" stroke="#222" stroke-width="0.3"/>
<circle cx="247.7" cy="547" r="3" fill="#2f6ca6" stroke="#222" stroke-width="0.3"/>
<circle cx="272.3" cy="547" r="2.2" fill="#2b4a68" stroke="#222" stroke-width="0.3"/>
<circle cx="296.9" cy="547" r="2.8" fill="#2f6ca6" stroke="#222" stroke-width="0.3"/>
<circle cx="321.4" cy="547" r="4.2" fill="#c8382a" stroke="#222" stroke-width="0.6"/>
<circle cx="346.0" cy="547" r="5.6" fill="#c8382a" stroke="#222" stroke-width="0.6"/>
<circle cx="370.6" cy="547" r="4.6" fill="#c8382a" stroke="#222" stroke-width="0.6"/>
<circle cx="395.2" cy="547" r="1.7" fill="#2b4a68" stroke="#222" stroke-width="0.3"/>
<circle cx="419.8" cy="547" r="4.1" fill="#56699c" stroke="#222" stroke-width="0.6"/>
<circle cx="444.3" cy="547" r="3" fill="#2f6ca6" stroke="#222" stroke-width="0.3"/>
<circle cx="468.9" cy="547" r="3" fill="#2f6ca6" stroke="#222" stroke-width="0.3"/>
<circle cx="493.5" cy="547" r="3.2" fill="#2f6ca6" stroke="#222" stroke-width="0.6"/>
<circle cx="518.1" cy="547" r="1.8" fill="#2b4a68" stroke="#222" stroke-width="0.3"/>
<circle cx="542.7" cy="547" r="1.8" fill="#2b4a68" stroke="#222" stroke-width="0.3"/>
<circle cx="567.2" cy="547" r="1.8" fill="#2b4a68" stroke="#222" stroke-width="0.3"/>
<line x1="107.4" y1="571.5" x2="110.4" y2="571.5" stroke="#444" stroke-width="0.8"/>
<text x="105.4" y="574.8" font-size="10.2" text-anchor="end" fill="#222">Epithelial cells</text>
<circle cx="124.8" cy="571.5" r="6.4" fill="#3a6db8" stroke="#222" stroke-width="0.6"/>
<circle cx="149.4" cy="571.5" r="2" fill="#2b4a68" stroke="#222" stroke-width="0.3"/>
<circle cx="174.0" cy="571.5" r="2.2" fill="#2b4a68" stroke="#222" stroke-width="0.3"/>
<circle cx="198.5" cy="571.5" r="2" fill="#2b4a68" stroke="#222" stroke-width="0.3"/>
<circle cx="223.1" cy="571.5" r="2.2" fill="#2b4a68" stroke="#222" stroke-width="0.3"/>
<circle cx="247.7" cy="571.5" r="2.4" fill="#2b4a68" stroke="#222" stroke-width="0.3"/>
<circle cx="272.3" cy="571.5" r="2.4" fill="#2b4a68" stroke="#222" stroke-width="0.3"/>
<circle cx="296.9" cy="571.5" r="2" fill="#2b4a68" stroke="#222" stroke-width="0.3"/>
<circle cx="321.4" cy="571.5" r="2" fill="#2b4a68" stroke="#222" stroke-width="0.3"/>
<circle cx="346.0" cy="571.5" r="3.5" fill="#2f6ca6" stroke="#222" stroke-width="0.6"/>
<circle cx="370.6" cy="571.5" r="2.6" fill="#2b4a68" stroke="#222" stroke-width="0.3"/>
<circle cx="395.2" cy="571.5" r="2.2" fill="#2b4a68" stroke="#222" stroke-width="0.3"/>
<circle cx="419.8" cy="571.5" r="1.7" fill="#2b4a68" stroke="#222" stroke-width="0.3"/>
<circle cx="444.3" cy="571.5" r="6.5" fill="#c8382a" stroke="#222" stroke-width="0.6"/>
<circle cx="468.9" cy="571.5" r="6.5" fill="#c8382a" stroke="#222" stroke-width="0.6"/>
<circle cx="493.5" cy="571.5" r="6.3" fill="#c8382a" stroke="#222" stroke-width="0.6"/>
<circle cx="518.1" cy="571.5" r="1.8" fill="#2b4a68" stroke="#222" stroke-width="0.3"/>
<circle cx="542.7" cy="571.5" r="1.8" fill="#2b4a68" stroke="#222" stroke-width="0.3"/>
<circle cx="567.2" cy="571.5" r="2.2" fill="#2b4a68" stroke="#222" stroke-width="0.3"/>
<line x1="107.4" y1="596" x2="110.4" y2="596" stroke="#444" stroke-width="0.8"/>
<text x="105.4" y="599.3" font-size="10.2" text-anchor="end" fill="#222">Fibroblasts</text>
<circle cx="124.8" cy="596" r="6.2" fill="#3a6db8" stroke="#222" stroke-width="0.6"/>
<circle cx="149.4" cy="596" r="2.2" fill="#2b4a68" stroke="#222" stroke-width="0.3"/>
<circle cx="174.0" cy="596" r="2" fill="#2b4a68" stroke="#222" stroke-width="0.3"/>
<circle cx="198.5" cy="596" r="2.2" fill="#2b4a68" stroke="#222" stroke-width="0.3"/>
<circle cx="223.1" cy="596" r="1.8" fill="#2b4a68" stroke="#222" stroke-width="0.3"/>
<circle cx="247.7" cy="596" r="2.8" fill="#2f6ca6" stroke="#222" stroke-width="0.3"/>
<circle cx="272.3" cy="596" r="2.4" fill="#2b4a68" stroke="#222" stroke-width="0.3"/>
<circle cx="296.9" cy="596" r="2" fill="#2b4a68" stroke="#222" stroke-width="0.3"/>
<circle cx="321.4" cy="596" r="2" fill="#2b4a68" stroke="#222" stroke-width="0.3"/>
<circle cx="346.0" cy="596" r="3.5" fill="#2f6ca6" stroke="#222" stroke-width="0.6"/>
<circle cx="370.6" cy="596" r="2" fill="#2b4a68" stroke="#222" stroke-width="0.3"/>
<circle cx="395.2" cy="596" r="6" fill="#c8382a" stroke="#222" stroke-width="0.6"/>
<circle cx="419.8" cy="596" r="2.6" fill="#2b4a68" stroke="#222" stroke-width="0.3"/>
<circle cx="444.3" cy="596" r="3.5" fill="#2f6ca6" stroke="#222" stroke-width="0.6"/>
<circle cx="468.9" cy="596" r="3.3" fill="#2f6ca6" stroke="#222" stroke-width="0.6"/>
<circle cx="493.5" cy="596" r="3.5" fill="#2f6ca6" stroke="#222" stroke-width="0.6"/>
<circle cx="518.1" cy="596" r="1.5" fill="#2b4a68" stroke="#222" stroke-width="0.3"/>
<circle cx="542.7" cy="596" r="2" fill="#2b4a68" stroke="#222" stroke-width="0.3"/>
<circle cx="567.2" cy="596" r="1.5" fill="#2b4a68" stroke="#222" stroke-width="0.3"/>
<line x1="107.4" y1="620.5" x2="110.4" y2="620.5" stroke="#444" stroke-width="0.8"/>
<text x="105.4" y="623.8" font-size="10.2" text-anchor="end" fill="#222">Endothelial cells</text>
<circle cx="124.8" cy="620.5" r="6" fill="#1d70c0" stroke="#222" stroke-width="0.6"/>
<circle cx="149.4" cy="620.5" r="1.6" fill="#2b4a68" stroke="#222" stroke-width="0.3"/>
<circle cx="174.0" cy="620.5" r="1.6" fill="#2b4a68" stroke="#222" stroke-width="0.3"/>
<circle cx="198.5" cy="620.5" r="2.2" fill="#2b4a68" stroke="#222" stroke-width="0.3"/>
<circle cx="223.1" cy="620.5" r="1.6" fill="#2b4a68" stroke="#222" stroke-width="0.3"/>
<circle cx="247.7" cy="620.5" r="2.6" fill="#2b4a68" stroke="#222" stroke-width="0.3"/>
<circle cx="272.3" cy="620.5" r="1.6" fill="#2b4a68" stroke="#222" stroke-width="0.3"/>
<circle cx="296.9" cy="620.5" r="1.6" fill="#2b4a68" stroke="#222" stroke-width="0.3"/>
<circle cx="321.4" cy="620.5" r="1.6" fill="#2b4a68" stroke="#222" stroke-width="0.3"/>
<circle cx="346.0" cy="620.5" r="2.6" fill="#2b4a68" stroke="#222" stroke-width="0.3"/>
<circle cx="370.6" cy="620.5" r="1.5" fill="#2b4a68" stroke="#222" stroke-width="0.3"/>
<circle cx="395.2" cy="620.5" r="1.5" fill="#2b4a68" stroke="#222" stroke-width="0.3"/>
<circle cx="419.8" cy="620.5" r="6" fill="#c8382a" stroke="#222" stroke-width="0.6"/>
<circle cx="444.3" cy="620.5" r="3" fill="#2f6ca6" stroke="#222" stroke-width="0.3"/>
<circle cx="468.9" cy="620.5" r="3.5" fill="#2f6ca6" stroke="#222" stroke-width="0.6"/>
<circle cx="493.5" cy="620.5" r="3.5" fill="#56699c" stroke="#222" stroke-width="0.6"/>
<circle cx="518.1" cy="620.5" r="1.5" fill="#2b4a68" stroke="#222" stroke-width="0.3"/>
<circle cx="542.7" cy="620.5" r="1.5" fill="#2b4a68" stroke="#222" stroke-width="0.3"/>
<circle cx="567.2" cy="620.5" r="1.5" fill="#2b4a68" stroke="#222" stroke-width="0.3"/>
<line x1="107.4" y1="645" x2="110.4" y2="645" stroke="#444" stroke-width="0.8"/>
<text x="105.4" y="648.3" font-size="10.2" text-anchor="end" fill="#222">T cells</text>
<circle cx="124.8" cy="645" r="6" fill="#3a6db8" stroke="#222" stroke-width="0.6"/>
<circle cx="149.4" cy="645" r="2.2" fill="#2b4a68" stroke="#222" stroke-width="0.3"/>
<circle cx="174.0" cy="645" r="2.2" fill="#2b4a68" stroke="#222" stroke-width="0.3"/>
<circle cx="198.5" cy="645" r="3.2" fill="#2f6ca6" stroke="#222" stroke-width="0.6"/>
<circle cx="223.1" cy="645" r="2.4" fill="#2b4a68" stroke="#222" stroke-width="0.3"/>
<circle cx="247.7" cy="645" r="3.2" fill="#56699c" stroke="#222" stroke-width="0.6"/>
<circle cx="272.3" cy="645" r="5" fill="#74608e" stroke="#222" stroke-width="0.6"/>
<circle cx="296.9" cy="645" r="6" fill="#c8382a" stroke="#222" stroke-width="0.6"/>
<circle cx="321.4" cy="645" r="1.6" fill="#2b4a68" stroke="#222" stroke-width="0.3"/>
<circle cx="346.0" cy="645" r="2.2" fill="#2b4a68" stroke="#222" stroke-width="0.3"/>
<circle cx="370.6" cy="645" r="2.4" fill="#2b4a68" stroke="#222" stroke-width="0.3"/>
<circle cx="395.2" cy="645" r="2" fill="#2b4a68" stroke="#222" stroke-width="0.3"/>
<circle cx="419.8" cy="645" r="2.4" fill="#2b4a68" stroke="#222" stroke-width="0.3"/>
<circle cx="444.3" cy="645" r="3" fill="#2f6ca6" stroke="#222" stroke-width="0.3"/>
<circle cx="468.9" cy="645" r="3" fill="#2f6ca6" stroke="#222" stroke-width="0.3"/>
<circle cx="493.5" cy="645" r="3.2" fill="#2b4a68" stroke="#222" stroke-width="0.6"/>
<circle cx="518.1" cy="645" r="1.8" fill="#2b4a68" stroke="#222" stroke-width="0.3"/>
<circle cx="542.7" cy="645" r="1.8" fill="#2b4a68" stroke="#222" stroke-width="0.3"/>
<circle cx="567.2" cy="645" r="2.4" fill="#2b4a68" stroke="#222" stroke-width="0.3"/>
<line x1="107.4" y1="669.5" x2="110.4" y2="669.5" stroke="#444" stroke-width="0.8"/>
<text x="105.4" y="672.8" font-size="10.2" text-anchor="end" fill="#222">NK/T cells</text>
<circle cx="124.8" cy="669.5" r="6" fill="#3a6db8" stroke="#222" stroke-width="0.6"/>
<circle cx="149.4" cy="669.5" r="1.8" fill="#2b4a68" stroke="#222" stroke-width="0.3"/>
<circle cx="174.0" cy="669.5" r="2" fill="#2b4a68" stroke="#222" stroke-width="0.3"/>
<circle cx="198.5" cy="669.5" r="2.4" fill="#2b4a68" stroke="#222" stroke-width="0.3"/>
<circle cx="223.1" cy="669.5" r="2" fill="#2b4a68" stroke="#222" stroke-width="0.3"/>
<circle cx="247.7" cy="669.5" r="6" fill="#c8382a" stroke="#222" stroke-width="0.6"/>
<circle cx="272.3" cy="669.5" r="5.5" fill="#c8382a" stroke="#222" stroke-width="0.6"/>
<circle cx="296.9" cy="669.5" r="4" fill="#56699c" stroke="#222" stroke-width="0.6"/>
<circle cx="321.4" cy="669.5" r="1.5" fill="#2b4a68" stroke="#222" stroke-width="0.3"/>
<circle cx="346.0" cy="669.5" r="2.2" fill="#2b4a68" stroke="#222" stroke-width="0.3"/>
<circle cx="370.6" cy="669.5" r="2" fill="#2b4a68" stroke="#222" stroke-width="0.3"/>
<circle cx="395.2" cy="669.5" r="1.8" fill="#2b4a68" stroke="#222" stroke-width="0.3"/>
<circle cx="419.8" cy="669.5" r="3.2" fill="#2b4a68" stroke="#222" stroke-width="0.6"/>
<circle cx="444.3" cy="669.5" r="3.2" fill="#2f6ca6" stroke="#222" stroke-width="0.6"/>
<circle cx="468.9" cy="669.5" r="3" fill="#2b4a68" stroke="#222" stroke-width="0.3"/>
<circle cx="493.5" cy="669.5" r="3.5" fill="#56699c" stroke="#222" stroke-width="0.6"/>
<circle cx="518.1" cy="669.5" r="1.5" fill="#2b4a68" stroke="#222" stroke-width="0.3"/>
<circle cx="542.7" cy="669.5" r="1.8" fill="#2b4a68" stroke="#222" stroke-width="0.3"/>
<circle cx="567.2" cy="669.5" r="1.8" fill="#2b4a68" stroke="#222" stroke-width="0.3"/>
<line x1="107.4" y1="694.3" x2="110.4" y2="694.3" stroke="#444" stroke-width="0.8"/>
<text x="105.4" y="697.5999999999999" font-size="10.2" text-anchor="end" fill="#222">Plasma cells</text>
<circle cx="124.8" cy="694.3" r="6" fill="#c8382a" stroke="#222" stroke-width="0.6"/>
<circle cx="149.4" cy="694.3" r="4.5" fill="#c8382a" stroke="#222" stroke-width="0.6"/>
<circle cx="174.0" cy="694.3" r="2.6" fill="#2b4a68" stroke="#222" stroke-width="0.3"/>
<circle cx="198.5" cy="694.3" r="4" fill="#2f6ca6" stroke="#222" stroke-width="0.6"/>
<circle cx="223.1" cy="694.3" r="5" fill="#74608e" stroke="#222" stroke-width="0.6"/>
<circle cx="247.7" cy="694.3" r="3" fill="#2f6ca6" stroke="#222" stroke-width="0.3"/>
<circle cx="272.3" cy="694.3" r="2.2" fill="#2b4a68" stroke="#222" stroke-width="0.3"/>
<circle cx="296.9" cy="694.3" r="2" fill="#2b4a68" stroke="#222" stroke-width="0.3"/>
<circle cx="321.4" cy="694.3" r="2" fill="#2b4a68" stroke="#222" stroke-width="0.3"/>
<circle cx="346.0" cy="694.3" r="2.4" fill="#2b4a68" stroke="#222" stroke-width="0.3"/>
<circle cx="370.6" cy="694.3" r="2.4" fill="#2b4a68" stroke="#222" stroke-width="0.3"/>
<circle cx="395.2" cy="694.3" r="1.5" fill="#2b4a68" stroke="#222" stroke-width="0.3"/>
<circle cx="419.8" cy="694.3" r="3" fill="#2f6ca6" stroke="#222" stroke-width="0.3"/>
<circle cx="444.3" cy="694.3" r="3.2" fill="#2f6ca6" stroke="#222" stroke-width="0.6"/>
<circle cx="468.9" cy="694.3" r="3.2" fill="#2f6ca6" stroke="#222" stroke-width="0.6"/>
<circle cx="493.5" cy="694.3" r="3.5" fill="#2f6ca6" stroke="#222" stroke-width="0.6"/>
<circle cx="518.1" cy="694.3" r="1.5" fill="#2b4a68" stroke="#222" stroke-width="0.3"/>
<circle cx="542.7" cy="694.3" r="2.2" fill="#2b4a68" stroke="#222" stroke-width="0.3"/>
<circle cx="567.2" cy="694.3" r="1.5" fill="#2b4a68" stroke="#222" stroke-width="0.3"/>
<line x1="107.4" y1="718.8" x2="110.4" y2="718.8" stroke="#444" stroke-width="0.8"/>
<text x="105.4" y="722.0999999999999" font-size="10.2" text-anchor="end" fill="#222">B cells</text>
<circle cx="124.8" cy="718.8" r="5" fill="#1d70c0" stroke="#222" stroke-width="0.6"/>
<circle cx="149.4" cy="718.8" r="2.8" fill="#2f6ca6" stroke="#222" stroke-width="0.3"/>
<circle cx="174.0" cy="718.8" r="6" fill="#c8382a" stroke="#222" stroke-width="0.6"/>
<circle cx="198.5" cy="718.8" r="6.5" fill="#c8382a" stroke="#222" stroke-width="0.6"/>
<circle cx="223.1" cy="718.8" r="6.5" fill="#c8382a" stroke="#222" stroke-width="0.6"/>
<circle cx="247.7" cy="718.8" r="2.8" fill="#2f6ca6" stroke="#222" stroke-width="0.3"/>
<circle cx="272.3" cy="718.8" r="2.2" fill="#2b4a68" stroke="#222" stroke-width="0.3"/>
<circle cx="296.9" cy="718.8" r="2.2" fill="#2b4a68" stroke="#222" stroke-width="0.3"/>
<circle cx="321.4" cy="718.8" r="2" fill="#2b4a68" stroke="#222" stroke-width="0.3"/>
<circle cx="346.0" cy="718.8" r="2.6" fill="#2b4a68" stroke="#222" stroke-width="0.3"/>
<circle cx="370.6" cy="718.8" r="2" fill="#2b4a68" stroke="#222" stroke-width="0.3"/>
<circle cx="395.2" cy="718.8" r="2" fill="#2b4a68" stroke="#222" stroke-width="0.3"/>
<circle cx="419.8" cy="718.8" r="2.4" fill="#2b4a68" stroke="#222" stroke-width="0.3"/>
<circle cx="444.3" cy="718.8" r="3.3" fill="#2f6ca6" stroke="#222" stroke-width="0.6"/>
<circle cx="468.9" cy="718.8" r="3" fill="#2f6ca6" stroke="#222" stroke-width="0.3"/>
<circle cx="493.5" cy="718.8" r="3.2" fill="#2b4a68" stroke="#222" stroke-width="0.6"/>
<circle cx="518.1" cy="718.8" r="1.8" fill="#2b4a68" stroke="#222" stroke-width="0.3"/>
<circle cx="542.7" cy="718.8" r="2" fill="#2b4a68" stroke="#222" stroke-width="0.3"/>
<circle cx="567.2" cy="718.8" r="1.8" fill="#2b4a68" stroke="#222" stroke-width="0.3"/>
<line x1="124.8" y1="733.3" x2="124.8" y2="736.3" stroke="#444" stroke-width="0.8"/>
<text transform="translate(128.1,739.3) rotate(-90)" font-size="10.2" text-anchor="end" fill="#222">SSR4</text>
<line x1="149.4" y1="733.3" x2="149.4" y2="736.3" stroke="#444" stroke-width="0.8"/>
<text transform="translate(152.7,739.3) rotate(-90)" font-size="10.2" text-anchor="end" fill="#222">IGLL5</text>
<line x1="174.0" y1="733.3" x2="174.0" y2="736.3" stroke="#444" stroke-width="0.8"/>
<text transform="translate(177.3,739.3) rotate(-90)" font-size="10.2" text-anchor="end" fill="#222">VPREB3</text>
<line x1="198.5" y1="733.3" x2="198.5" y2="736.3" stroke="#444" stroke-width="0.8"/>
<text transform="translate(201.8,739.3) rotate(-90)" font-size="10.2" text-anchor="end" fill="#222">CD79B</text>
<line x1="223.1" y1="733.3" x2="223.1" y2="736.3" stroke="#444" stroke-width="0.8"/>
<text transform="translate(226.4,739.3) rotate(-90)" font-size="10.2" text-anchor="end" fill="#222">CD79A</text>
<line x1="247.7" y1="733.3" x2="247.7" y2="736.3" stroke="#444" stroke-width="0.8"/>
<text transform="translate(251.0,739.3) rotate(-90)" font-size="10.2" text-anchor="end" fill="#222">NKG7</text>
<line x1="272.3" y1="733.3" x2="272.3" y2="736.3" stroke="#444" stroke-width="0.8"/>
<text transform="translate(275.6,739.3) rotate(-90)" font-size="10.2" text-anchor="end" fill="#222">CD3G</text>
<line x1="296.9" y1="733.3" x2="296.9" y2="736.3" stroke="#444" stroke-width="0.8"/>
<text transform="translate(300.2,739.3) rotate(-90)" font-size="10.2" text-anchor="end" fill="#222">IL7R</text>
<line x1="321.4" y1="733.3" x2="321.4" y2="736.3" stroke="#444" stroke-width="0.8"/>
<text transform="translate(324.7,739.3) rotate(-90)" font-size="10.2" text-anchor="end" fill="#222">CD163</text>
<line x1="346.0" y1="733.3" x2="346.0" y2="736.3" stroke="#444" stroke-width="0.8"/>
<text transform="translate(349.3,739.3) rotate(-90)" font-size="10.2" text-anchor="end" fill="#222">CD68</text>
<line x1="370.6" y1="733.3" x2="370.6" y2="736.3" stroke="#444" stroke-width="0.8"/>
<text transform="translate(373.9,739.3) rotate(-90)" font-size="10.2" text-anchor="end" fill="#222">IL1B</text>
<line x1="395.2" y1="733.3" x2="395.2" y2="736.3" stroke="#444" stroke-width="0.8"/>
<text transform="translate(398.5,739.3) rotate(-90)" font-size="10.2" text-anchor="end" fill="#222">COL1A1</text>
<line x1="419.8" y1="733.3" x2="419.8" y2="736.3" stroke="#444" stroke-width="0.8"/>
<text transform="translate(423.1,739.3) rotate(-90)" font-size="10.2" text-anchor="end" fill="#222">PECAM1</text>
<line x1="444.3" y1="733.3" x2="444.3" y2="736.3" stroke="#444" stroke-width="0.8"/>
<text transform="translate(447.6,739.3) rotate(-90)" font-size="10.2" text-anchor="end" fill="#222">EPCAM</text>
<line x1="468.9" y1="733.3" x2="468.9" y2="736.3" stroke="#444" stroke-width="0.8"/>
<text transform="translate(472.2,739.3) rotate(-90)" font-size="10.2" text-anchor="end" fill="#222">KRT19</text>
<line x1="493.5" y1="733.3" x2="493.5" y2="736.3" stroke="#444" stroke-width="0.8"/>
<text transform="translate(496.8,739.3) rotate(-90)" font-size="10.2" text-anchor="end" fill="#222">CLDN4</text>
<line x1="518.1" y1="733.3" x2="518.1" y2="736.3" stroke="#444" stroke-width="0.8"/>
<text transform="translate(521.4,739.3) rotate(-90)" font-size="10.2" text-anchor="end" fill="#222">TPSAB1</text>
<line x1="542.7" y1="733.3" x2="542.7" y2="736.3" stroke="#444" stroke-width="0.8"/>
<text transform="translate(546.0,739.3) rotate(-90)" font-size="10.2" text-anchor="end" fill="#222">TPSB2</text>
<line x1="567.2" y1="733.3" x2="567.2" y2="736.3" stroke="#444" stroke-width="0.8"/>
<text transform="translate(570.5,739.3) rotate(-90)" font-size="10.2" text-anchor="end" fill="#222">KIT</text>
<line x1="581.6" y1="522" x2="613" y2="522" stroke="#333" stroke-width="1.1" stroke-linecap="square"/>
<line x1="581.6" y1="547" x2="613" y2="547" stroke="#333" stroke-width="1.1" stroke-linecap="square"/>
<line x1="613" y1="522" x2="613" y2="547" stroke="#333" stroke-width="1.1" stroke-linecap="square"/>
<line x1="581.6" y1="571.4" x2="613.6" y2="571.4" stroke="#333" stroke-width="1.1" stroke-linecap="square"/>
<line x1="613.6" y1="534.5" x2="613.6" y2="691" stroke="#333" stroke-width="1.1" stroke-linecap="square"/>
<line x1="613" y1="534.5" x2="613.6" y2="534.5" stroke="#333" stroke-width="1.1" stroke-linecap="square"/>
<line x1="581.6" y1="596" x2="600" y2="596" stroke="#333" stroke-width="1.1" stroke-linecap="square"/>
<line x1="581.6" y1="620.6" x2="600" y2="620.6" stroke="#333" stroke-width="1.1" stroke-linecap="square"/>
<line x1="600" y1="596" x2="600" y2="620.6" stroke="#333" stroke-width="1.1" stroke-linecap="square"/>
<line x1="581.6" y1="645" x2="598.4" y2="645" stroke="#333" stroke-width="1.1" stroke-linecap="square"/>
<line x1="581.6" y1="669.4" x2="598.4" y2="669.4" stroke="#333" stroke-width="1.1" stroke-linecap="square"/>
<line x1="598.4" y1="645" x2="598.4" y2="669.4" stroke="#333" stroke-width="1.1" stroke-linecap="square"/>
<line x1="604" y1="608" x2="604" y2="657.2" stroke="#333" stroke-width="1.1" stroke-linecap="square"/>
<line x1="600" y1="608" x2="604" y2="608" stroke="#333" stroke-width="1.1" stroke-linecap="square"/>
<line x1="598.4" y1="657.2" x2="604" y2="657.2" stroke="#333" stroke-width="1.1" stroke-linecap="square"/>
<line x1="581.6" y1="694" x2="607.6" y2="694" stroke="#333" stroke-width="1.1" stroke-linecap="square"/>
<line x1="607.6" y1="632.6" x2="607.6" y2="694" stroke="#333" stroke-width="1.1" stroke-linecap="square"/>
<line x1="604" y1="632.6" x2="607.6" y2="632.6" stroke="#333" stroke-width="1.1" stroke-linecap="square"/>
<line x1="581.6" y1="718.6" x2="610.4" y2="718.6" stroke="#333" stroke-width="1.1" stroke-linecap="square"/>
<line x1="610.4" y1="663.2" x2="610.4" y2="718.6" stroke="#333" stroke-width="1.1" stroke-linecap="square"/>
<line x1="607.6" y1="663.2" x2="610.4" y2="663.2" stroke="#333" stroke-width="1.1" stroke-linecap="square"/>
<line x1="610.4" y1="691" x2="613.6" y2="691" stroke="#333" stroke-width="1.1" stroke-linecap="square"/>
<text x="704.4" y="554.3" font-size="12.7" text-anchor="middle" fill="#222">Mean expression</text>
<text x="708.4" y="568.3" font-size="12.7" text-anchor="middle" fill="#222">in group</text>
<defs><linearGradient id="mexp" x1="0" x2="1" y1="0" y2="0"><stop offset="0" stop-color="#1f78c8"/><stop offset="0.5" stop-color="#7a5a8c"/><stop offset="1" stop-color="#d23a22"/></linearGradient></defs>
<rect x="647.6" y="576.4" width="117.8" height="15.2" fill="url(#mexp)" stroke="#222" stroke-width="1"/>
<line x1="706.5" y1="576.4" x2="706.5" y2="591.6" stroke="#333" stroke-width="0.8"/>
<line x1="736.0" y1="576.4" x2="736.0" y2="591.6" stroke="#333" stroke-width="0.8"/>
<text x="648" y="605.8" font-size="10" text-anchor="middle" fill="#333">0.00</text>
<text x="677" y="605.8" font-size="10" text-anchor="middle" fill="#333">0.25</text>
<text x="706" y="605.8" font-size="10" text-anchor="middle" fill="#333">0.50</text>
<text x="735.6" y="605.8" font-size="10" text-anchor="middle" fill="#333">0.75</text>
<text x="764.4" y="605.8" font-size="10" text-anchor="middle" fill="#333">1.00</text>
<text x="693" y="644.2" font-size="12.7" text-anchor="middle" fill="#222">Fraction of cells</text>
<text x="696.6" y="659" font-size="12.7" text-anchor="middle" fill="#222">in group (%)</text>
<circle cx="655" cy="673.6" r="0.8" fill="#888" stroke="#555" stroke-width="0.5"/>
<text x="655" y="695.3" font-size="10" text-anchor="middle" fill="#333">0</text>
<circle cx="671" cy="673.6" r="4" fill="#888" stroke="#555" stroke-width="0.5"/>
<text x="671" y="695.3" font-size="10" text-anchor="middle" fill="#333">25</text>
<circle cx="689" cy="673.6" r="5" fill="#888" stroke="#555" stroke-width="0.5"/>
<text x="689" y="695.3" font-size="10" text-anchor="middle" fill="#333">50</text>
<circle cx="708" cy="673.6" r="6" fill="#888" stroke="#555" stroke-width="0.5"/>
<text x="708" y="695.3" font-size="10" text-anchor="middle" fill="#333">75</text>
<circle cx="729.6" cy="673.6" r="6.8" fill="#888" stroke="#555" stroke-width="0.5"/>
<text x="729.6" y="695.3" font-size="10" text-anchor="middle" fill="#333">100</text>
</g><g id="panelD">
<text x="1020.6" y="372" font-size="9.5" text-anchor="middle" fill="#222">Log2-Fold Change</text>
<line x1="924.0" y1="385.3" x2="924.0" y2="388.3" stroke="#444" stroke-width="0.8"/>
<text transform="translate(922.0,383.3) rotate(90)" font-size="6" text-anchor="end" fill="#444">-5</text>
<line x1="980.5" y1="385.3" x2="980.5" y2="388.3" stroke="#444" stroke-width="0.8"/>
<text transform="translate(978.5,383.3) rotate(90)" font-size="6" text-anchor="end" fill="#444">0</text>
<line x1="1037.0" y1="385.3" x2="1037.0" y2="388.3" stroke="#444" stroke-width="0.8"/>
<text transform="translate(1035.0,383.3) rotate(90)" font-size="6" text-anchor="end" fill="#444">5</text>
<line x1="1093.5" y1="385.3" x2="1093.5" y2="388.3" stroke="#444" stroke-width="0.8"/>
<text transform="translate(1091.5,383.3) rotate(90)" font-size="6" text-anchor="end" fill="#444">10</text>
<line x1="1148.8" y1="385.3" x2="1148.8" y2="388.3" stroke="#444" stroke-width="0.8"/>
<text transform="translate(1146.8,383.3) rotate(90)" font-size="6" text-anchor="end" fill="#444">15</text>
<rect x="854.6" y="654.6" width="7" height="6.6" fill="none" stroke="#222" stroke-width="1.3"/>
<text transform="translate(856.3,661.8) rotate(90)" font-size="8.2" fill="#222" textLength="89">Percentage Difference</text>
<path d="M932.7 407.4h0M939.1 408.2h0M951.7 400.6h0M921.6 409.1h0M933.7 404.4h0M969.8 406.4h0M962.0 406.6h0M952.3 401.8h0M952.1 412.5h0M946.6 410.2h0M953.9 400.3h0M958.2 408.5h0M935.8 402.2h0M963.4 406.5h0M956.2 413.1h0M956.0 413.7h0M940.4 410.5h0M942.8 412.3h0M964.1 399.6h0M927.7 404.8h0M968.3 405.8h0M951.7 404.1h0M945.9 405.5h0M938.2 407.9h0M949.6 412.7h0M954.4 413.7h0M963.0 415.8h0M953.9 401.8h0M963.2 415.4h0M965.3 408.3h0M956.0 402.4h0M961.7 408.3h0M935.0 402.6h0M962.8 415.8h0M925.3 409.2h0M941.1 402.9h0M935.4 409.7h0M963.8 398.7h0M951.1 400.4h0M956.2 404.3h0M964.2 415.8h0M945.8 413.5h0M936.2 402.6h0M950.4 400.3h0M930.7 406.2h0M950.9 402.0h0M923.1 409.4h0M936.4 411.8h0M964.9 404.7h0M943.6 407.2h0M952.6 408.4h0M948.4 408.7h0M967.1 407.1h0M942.1 409.7h0M932.6 405.1h0M968.9 407.4h0M947.9 400.3h0M941.3 407.9h0M922.0 407.7h0M952.0 400.5h0M951.7 406.5h0M954.3 404.7h0M955.6 410.8h0M922.1 404.2h0M954.1 414.2h0M933.3 406.6h0M950.0 404.4h0M938.8 404.9h0M939.1 408.1h0M935.7 405.7h0M958.8 399.0h0M948.9 410.3h0M936.2 404.1h0M960.4 402.5h0M930.2 406.4h0M955.2 400.7h0M936.8 405.3h0M961.8 405.9h0M962.9 401.1h0M937.5 408.6h0M964.4 406.1h0M932.0 403.5h0M947.0 402.9h0M960.5 412.9h0M930.0 405.1h0M960.6 409.5h0M960.5 404.3h0M927.4 405.4h0M959.9 403.1h0M938.0 406.1h0M941.6 405.9h0M966.1 400.5h0M921.2 409.7h0M964.1 415.9h0M942.3 412.4h0M966.4 401.7h0M957.5 412.5h0M953.5 407.3h0M935.2 405.4h0M932.1 403.0h0M949.8 404.0h0M960.7 399.1h0M965.3 410.6h0M966.3 414.5h0M965.1 408.4h0M921.6 408.5h0M929.4 405.3h0M953.5 407.4h0M941.3 412.2h0M951.0 404.7h0M933.4 410.4h0M944.4 410.6h0M938.2 403.7h0M947.2 411.3h0M929.4 409.4h0M966.2 412.8h0M961.4 398.4h0M951.8 412.4h0M923.4 405.5h0M934.2 407.3h0M941.7 406.7h0M959.0 398.6h0M923.7 404.5h0M927.1 403.7h0M968.8 414.0h0M925.2 407.0h0M936.5 405.1h0M938.2 408.6h0M949.7 405.0h0M930.4 405.5h0M927.1 407.4h0M956.1 405.1h0M924.9 404.7h0M939.3 408.2h0M959.3 405.0h0M960.3 409.1h0M942.1 405.5h0M945.3 409.6h0M941.6 409.3h0M943.6 403.8h0M947.3 409.6h0M924.5 406.5h0M941.9 411.5h0M966.9 404.6h0M965.0 412.4h0M933.8 406.7h0M927.0 409.4h0M953.5 412.9h0M959.8 409.9h0M957.0 408.0h0M926.1 407.7h0M921.2 404.8h0M958.9 399.3h0M925.5 404.1h0M964.1 401.1h0M922.2 409.2h0M926.9 409.6h0M954.0 412.2h0M967.7 408.5h0M960.1 399.0h0M958.6 407.2h0M956.0 400.7h0M957.7 414.2h0M924.0 405.8h0M948.6 411.6h0M932.9 404.0h0M933.2 408.1h0M957.9 405.2h0M939.0 405.8h0M938.2 406.1h0M925.1 407.0h0M968.7 405.3h0M957.6 401.4h0M954.9 411.0h0M954.0 407.3h0M944.7 408.8h0M965.0 400.5h0M925.7 408.8h0M1056.9 429.3h0M1022.3 428.0h0M1003.6 421.4h0M1004.5 425.0h0M1013.0 422.1h0M1040.5 431.6h0M1011.6 426.9h0M1020.2 429.1h0M1032.7 424.6h0M1005.9 419.0h0M1025.0 424.9h0M1002.6 422.3h0M1013.5 427.8h0M1000.5 429.2h0M1025.0 427.0h0M1024.2 429.3h0M1050.0 429.0h0M1025.1 428.2h0M1052.5 427.9h0M1043.6 431.8h0M1024.1 423.3h0M1007.1 426.7h0M1039.3 431.5h0M1052.3 426.6h0M1003.8 421.3h0M1003.7 426.2h0M1052.7 432.0h0M1008.6 428.4h0M1012.9 424.1h0M1043.2 424.2h0M996.8 427.1h0M1011.3 423.2h0M1032.4 428.4h0M990.5 420.7h0M1021.8 425.6h0M1005.3 425.1h0M1059.7 428.6h0M1029.7 422.9h0M1010.1 426.4h0M998.2 427.9h0M1056.3 425.9h0M1058.7 428.4h0M1046.4 430.3h0M1011.6 426.6h0M1037.7 430.1h0M1009.4 427.3h0M1060.2 430.8h0M1029.1 422.8h0M1026.1 424.7h0M1042.4 429.3h0M1031.3 423.7h0M1037.1 428.4h0M1003.1 428.3h0M1037.8 423.9h0M1058.0 426.5h0M1014.2 427.3h0M1033.6 427.4h0M1037.3 426.9h0M1012.8 421.5h0M995.0 425.6h0M1045.1 428.4h0M1044.0 426.7h0M1009.4 423.3h0M1053.7 425.2h0M1026.8 423.8h0M1046.1 426.9h0M1014.3 424.0h0M1029.5 429.1h0M1015.8 428.7h0M998.2 420.8h0M997.3 418.9h0M1046.9 430.1h0M1003.5 420.5h0M1020.4 428.1h0M1049.5 430.5h0M1033.2 423.6h0M1019.1 422.4h0M1028.5 427.1h0M1004.8 421.3h0M1047.1 424.2h0M1048.6 431.6h0M1059.3 428.5h0M1030.3 427.4h0M1036.3 431.5h0M1040.1 425.7h0M1052.8 428.6h0M1033.9 429.0h0M990.2 425.9h0M1038.3 427.3h0M1028.2 426.0h0M1004.1 424.3h0M992.7 422.9h0M1037.2 426.7h0M1031.3 431.0h0M1055.1 426.1h0M1047.8 429.3h0M993.7 421.4h0M1007.0 419.7h0M1029.3 430.6h0M1013.6 428.8h0M1040.7 424.3h0M1052.7 429.6h0M1057.7 430.9h0M1044.0 426.5h0M1048.9 432.0h0M1052.9 428.3h0M1045.3 427.9h0M998.0 418.2h0M995.7 419.7h0M1001.7 423.8h0M1041.0 427.9h0M1020.8 427.1h0M1012.2 424.4h0M1045.3 427.2h0M1003.2 428.4h0M1042.5 426.6h0M1017.1 425.6h0M1033.5 424.3h0M990.2 419.2h0M1047.2 425.2h0M1023.6 422.9h0M1005.3 420.5h0M1019.5 422.2h0M992.0 418.3h0M1002.3 423.7h0M994.4 417.5h0M1022.7 424.9h0M1041.4 423.7h0M1019.4 424.5h0M991.9 428.3h0M1006.0 419.8h0M1024.6 422.7h0M1035.4 425.7h0M999.0 418.4h0M1043.1 425.9h0M1047.5 428.0h0M1058.1 427.7h0M1008.2 421.9h0M1049.5 429.5h0M1015.2 420.9h0M1039.8 431.7h0M1033.2 422.2h0M992.2 418.0h0M1002.4 418.7h0M993.9 424.8h0M1055.7 426.7h0M1061.1 429.4h0M1048.7 431.8h0M1058.6 425.7h0M1012.2 425.9h0M1059.1 426.2h0M1011.4 428.4h0M998.4 422.2h0M1014.4 426.9h0M1057.8 426.7h0M1044.0 429.9h0M1051.0 429.0h0M1057.4 428.1h0M1020.3 422.9h0M1046.9 428.0h0M1009.7 421.0h0M1042.6 428.7h0M1041.9 426.7h0M1025.6 422.7h0M1041.9 423.5h0M1024.1 428.5h0M1039.4 423.9h0M1007.3 428.1h0M1036.9 430.6h0M1053.7 428.4h0M1055.5 430.9h0M1014.4 423.7h0M995.3 422.0h0M1059.8 426.4h0M1031.5 423.0h0M995.9 424.9h0M1007.6 419.5h0M1001.1 425.4h0M1032.7 422.3h0M1006.8 429.4h0M1006.1 424.9h0M1020.6 428.5h0M1034.1 429.6h0M1029.1 423.5h0M1003.0 419.2h0M1050.3 425.3h0M991.8 428.3h0M1004.5 428.4h0M996.3 422.9h0M1006.3 427.8h0M1034.9 428.3h0M1045.6 431.2h0M1015.3 426.2h0M1022.5 421.9h0M1051.0 429.4h0M1049.5 426.0h0M1029.4 426.1h0M1043.1 424.1h0M1024.4 439.8h0M1008.2 440.7h0M1047.4 438.9h0M1042.3 441.5h0M1016.6 437.9h0M1062.7 437.7h0M1029.4 434.2h0M1016.9 435.3h0M1058.9 443.2h0M1055.6 446.8h0M1040.1 446.0h0M1035.6 438.9h0M1059.9 445.6h0M1060.0 439.8h0M944.3 394.4h0M949.9 397.5h0M932.3 397.6h0M929.6 392.6h0M943.1 393.8h0" stroke="#c8c8c8" stroke-width="4.0" stroke-linecap="round" fill="none"/>
<line x1="883.5" y1="388.3" x2="1156.5" y2="388.3" stroke="#555" stroke-width="1.3"/>
<line x1="883.5" y1="453.6" x2="1156.5" y2="453.6" stroke="#dadada" stroke-width="1"/>
<line x1="883.5" y1="388.3" x2="883.5" y2="453.6" stroke="#555" stroke-width="1"/>
<line x1="969.6" y1="388.3" x2="969.6" y2="453.6" stroke="#5a5a5a" stroke-width="1.8" stroke-dasharray="6.5,4"/>
<line x1="991.6" y1="388.3" x2="991.6" y2="453.6" stroke="#5a5a5a" stroke-width="1.8" stroke-dasharray="6.5,4"/>
<line x1="881.0" y1="401.9" x2="883.5" y2="401.9" stroke="#444" stroke-width="0.8"/>
<text transform="translate(872.0,400.4) rotate(58)" font-size="7.6" text-anchor="middle" fill="#555">-0.5</text>
<line x1="881.0" y1="418.3" x2="883.5" y2="418.3" stroke="#444" stroke-width="0.8"/>
<text transform="translate(872.0,416.8) rotate(58)" font-size="7.6" text-anchor="middle" fill="#555">0.0</text>
<line x1="881.0" y1="434.7" x2="883.5" y2="434.7" stroke="#444" stroke-width="0.8"/>
<text transform="translate(872.0,433.2) rotate(58)" font-size="7.6" text-anchor="middle" fill="#555">0.5</text>
<line x1="881.0" y1="451.1" x2="883.5" y2="451.1" stroke="#444" stroke-width="0.8"/>
<text transform="translate(872.0,449.6) rotate(58)" font-size="7.6" text-anchor="middle" fill="#555">1.0</text>
<rect x="1157.6" y="388.3" width="14.5" height="65.3" fill="#c33b24"/>
<text transform="translate(1162.8,420.9) rotate(90)" font-size="6.3" text-anchor="middle" fill="#2a120c">B cells</text>
<line x1="917.9" y1="408.6" x2="935" y2="416" stroke="#22874e" stroke-width="0.8"/>
<line x1="917.9" y1="408.6" x2="927" y2="425" stroke="#22874e" stroke-width="0.8"/>
<line x1="914.8" y1="413.2" x2="912" y2="425" stroke="#22874e" stroke-width="0.8"/>
<line x1="1073.6" y1="428.6" x2="1093" y2="416" stroke="#22874e" stroke-width="0.8"/>
<line x1="1071" y1="427.5" x2="1080" y2="430" stroke="#22874e" stroke-width="0.8"/>
<line x1="1070.5" y1="444" x2="1064" y2="432" stroke="#22874e" stroke-width="0.8"/>
<circle cx="917.9" cy="408.6" r="2.4" fill="#22874e"/>
<circle cx="914.8" cy="413.2" r="2.4" fill="#22874e"/>
<circle cx="1073.6" cy="428.6" r="2.4" fill="#22874e"/>
<circle cx="1071" cy="427.5" r="2.4" fill="#22874e"/>
<circle cx="1070.5" cy="444" r="2.4" fill="#22874e"/>
<text transform="translate(937.5,402.4) rotate(90)" font-size="9.7" fill="#22874e">CEACAM5</text>
<text transform="translate(923.6,425.5) rotate(90)" font-size="9.7" fill="#22874e">LYZ</text>
<text transform="translate(908.2,425.5) rotate(90)" font-size="9.7" fill="#22874e">ZG16</text>
<text transform="translate(1091.7,391.6) rotate(90)" font-size="9.7" fill="#22874e">IGHD</text>
<text transform="translate(1078.7,391.6) rotate(90)" font-size="9.7" fill="#22874e">LINC02397</text>
<text transform="translate(1060.9,391.6) rotate(90)" font-size="9.7" fill="#22874e">VPREB3</text>
<path d="M928.6 477.0h0M900.4 477.0h0M914.3 474.9h0M918.3 477.5h0M942.1 474.3h0M904.1 473.5h0M922.3 472.1h0M907.0 477.4h0M939.3 480.2h0M955.8 479.8h0M920.0 472.7h0M916.4 475.2h0M929.0 476.1h0M919.2 478.5h0M914.8 475.1h0M950.3 479.1h0M915.5 473.3h0M945.6 471.9h0M905.8 475.4h0M929.6 473.0h0M901.0 472.7h0M943.4 475.9h0M955.8 479.0h0M955.8 472.3h0M908.9 471.3h0M923.5 474.3h0M901.0 475.4h0M903.5 473.6h0M912.6 477.9h0M922.7 473.6h0M900.6 474.5h0M935.0 477.5h0M951.8 479.1h0M912.6 472.4h0M942.7 478.7h0M928.0 478.6h0M930.6 473.9h0M908.0 471.3h0M935.9 479.4h0M951.5 476.1h0M937.3 479.7h0M946.0 477.1h0M922.5 475.8h0M908.1 472.7h0M938.3 480.3h0M930.3 475.0h0M918.8 475.2h0M945.4 475.8h0M954.6 473.4h0M916.6 475.7h0M922.3 478.6h0M946.8 480.0h0M934.1 471.9h0M931.9 476.3h0M926.8 473.9h0M939.9 479.6h0M904.0 476.5h0M919.9 475.7h0M950.8 480.4h0M936.0 473.3h0M952.3 473.5h0M920.6 478.3h0M916.7 473.6h0M954.0 480.4h0M916.7 474.6h0M914.6 472.4h0M912.8 479.3h0M902.7 472.9h0M909.8 471.9h0M929.0 477.9h0M947.5 477.4h0M946.3 471.9h0M914.6 479.2h0M902.1 473.2h0M926.5 473.8h0M930.2 471.9h0M911.9 479.1h0M906.5 478.5h0M908.5 479.3h0M937.8 477.3h0M906.4 471.6h0M942.8 473.3h0M909.2 477.9h0M949.6 472.3h0M954.7 476.8h0M920.6 472.3h0M921.0 479.7h0M914.6 472.4h0M906.6 472.2h0M918.8 479.0h0M902.5 472.6h0M953.4 480.9h0M955.8 474.2h0M918.9 479.3h0M926.6 477.5h0M916.5 471.5h0M918.4 477.6h0M944.1 476.8h0M925.4 476.0h0M924.1 476.0h0M947.1 473.6h0M933.1 479.6h0M948.1 473.4h0M954.8 479.5h0M907.9 473.3h0M909.9 471.6h0M955.7 475.7h0M949.5 472.9h0M898.8 478.0h0M944.8 480.5h0M938.4 476.2h0M943.2 472.6h0M929.9 475.3h0M906.6 476.0h0M917.1 475.5h0M920.0 474.0h0M919.1 476.4h0M955.8 480.4h0M948.9 479.3h0M914.9 479.4h0M913.9 472.3h0M927.5 477.7h0M918.1 476.7h0M914.7 479.3h0M924.7 475.5h0M929.4 479.0h0M956.2 476.7h0M924.1 476.7h0M902.1 474.5h0M948.0 478.7h0M901.5 477.9h0M920.7 479.6h0M919.6 473.2h0M930.4 479.1h0M923.4 478.7h0M940.0 474.9h0M915.7 475.5h0M921.5 474.5h0M936.5 479.2h0M932.5 472.8h0M1009.5 496.0h0M1042.6 493.3h0M997.9 495.0h0M1014.8 491.0h0M1036.3 504.9h0M1035.9 502.1h0M1060.6 504.2h0M1067.7 498.4h0M1048.3 493.2h0M1064.9 497.4h0M1030.9 504.3h0M1015.1 493.4h0M1060.2 500.6h0M998.1 490.6h0M1020.5 490.8h0M1060.9 494.4h0M1014.0 496.4h0M1034.0 497.5h0M1043.8 501.2h0M1027.6 492.3h0M1073.2 502.3h0M998.0 496.8h0M1054.3 506.4h0M996.5 490.3h0M1031.3 497.3h0M1066.1 504.2h0M1018.9 496.9h0M1040.0 504.4h0M1008.0 496.3h0M998.4 499.8h0M993.2 504.1h0M1035.0 499.7h0M998.2 493.7h0M1030.4 503.8h0M1036.3 495.3h0M1073.5 501.9h0M1035.4 494.1h0M1016.1 504.1h0M1002.2 498.2h0M1043.1 496.6h0M1055.6 505.2h0M1063.0 502.8h0M1008.1 491.3h0M1027.4 495.5h0M1007.3 503.5h0M1009.1 502.8h0M1069.8 493.7h0M1067.7 497.8h0M1008.8 493.2h0M994.2 497.6h0M1023.3 503.5h0M1061.0 492.5h0M1024.7 496.6h0M1005.9 494.1h0M1013.1 500.9h0M1019.6 492.3h0M1009.5 497.1h0M1038.4 494.8h0M1049.8 494.6h0M1047.3 500.5h0M1005.8 501.6h0M1024.1 498.9h0M1041.2 500.6h0M1028.2 491.7h0M1057.1 504.5h0M1032.2 499.7h0M1013.6 504.0h0M1048.6 494.7h0M1059.7 506.4h0M1020.1 505.6h0M1031.6 493.6h0M1051.2 496.5h0M1052.5 500.2h0M1000.0 498.1h0M1062.5 498.9h0M1036.3 504.0h0M1028.5 498.3h0M1040.0 503.5h0M1008.1 491.8h0M1054.9 499.8h0M1016.4 504.0h0M1065.3 499.9h0M1074.0 504.5h0M1053.8 495.9h0M991.9 500.2h0M1052.7 496.7h0M1031.2 499.5h0M1012.0 501.0h0M1038.3 496.9h0M1000.2 498.5h0M1017.9 501.5h0M1005.5 496.3h0M1007.5 496.5h0M1039.4 492.8h0M995.6 497.3h0M1007.9 498.0h0M1005.0 491.8h0M1036.2 504.9h0M1064.0 499.5h0M1024.4 491.8h0M1014.2 495.3h0M1070.1 493.6h0M1070.6 499.0h0M1027.5 494.8h0M1071.9 494.7h0M1039.0 498.8h0M1007.8 493.7h0M1073.8 503.8h0M1052.6 505.0h0M999.3 500.8h0M1054.0 494.9h0M1029.4 505.5h0M1018.4 502.1h0M1004.9 500.3h0M1013.6 498.2h0M1022.3 503.8h0M1053.6 499.1h0M1048.7 497.8h0M1058.6 495.5h0M1036.7 499.9h0M1023.6 491.5h0M1005.3 499.9h0M1008.8 501.8h0M1033.4 505.3h0M1062.2 502.6h0M1022.3 491.4h0M1037.8 502.3h0M1068.4 494.9h0M1004.3 505.0h0M1053.1 498.7h0M1053.0 493.7h0M1036.7 501.1h0M1041.7 493.6h0M1002.5 499.6h0M1065.3 493.8h0M991.6 491.3h0M1057.0 497.4h0M1029.3 505.8h0M1042.3 495.2h0M1049.9 491.4h0M1014.6 501.0h0M1005.3 490.8h0M1034.5 496.0h0M1072.6 493.5h0M1058.4 497.4h0M1058.7 498.3h0M1047.1 496.2h0M1009.9 497.2h0M1058.2 496.8h0M1010.3 496.7h0M999.1 494.9h0M1039.1 499.3h0M1041.2 495.5h0M993.1 490.4h0M1019.5 493.6h0M1038.8 495.1h0M1055.0 500.5h0M1046.6 502.4h0M1034.8 497.4h0M1016.9 491.6h0M1057.7 499.1h0M999.4 504.1h0M1039.9 500.5h0M1027.8 492.8h0M1075.0 494.5h0M1021.8 505.7h0M1001.3 497.7h0M1031.3 494.7h0M1068.7 498.1h0M992.0 497.1h0M991.4 500.6h0M1064.0 505.3h0M995.0 500.2h0M1016.6 497.7h0M1016.2 495.2h0M1002.2 499.7h0M998.4 504.6h0M994.7 504.5h0M1007.1 491.6h0M1053.6 499.5h0M1055.6 499.2h0M1044.0 492.5h0M1047.6 499.0h0M1071.8 492.0h0M996.7 500.3h0M1068.8 498.2h0M1050.7 499.8h0M1023.8 497.8h0M1041.5 491.6h0M1016.7 501.7h0M1012.7 497.6h0M1012.6 495.9h0M1045.6 502.5h0M1071.4 499.1h0M1008.0 495.5h0M995.9 493.7h0M1040.1 500.3h0M1011.3 493.2h0M999.2 492.9h0M1033.1 494.8h0M1065.2 500.2h0M1019.6 497.1h0M994.4 501.1h0M1054.1 497.0h0M1051.9 495.5h0M1009.4 493.9h0M1007.5 499.5h0M1044.9 502.2h0M999.7 501.7h0M1031.2 496.6h0M1033.3 497.5h0M1007.8 496.3h0M1045.3 502.0h0M1067.9 494.7h0M1065.8 503.8h0M1050.9 506.1h0M1002.6 501.9h0M1066.5 493.6h0M1041.0 505.4h0M1015.6 503.4h0M1067.1 498.3h0M1003.2 493.5h0M1060.7 498.0h0M1017.5 497.3h0M1069.0 495.7h0M992.5 504.3h0M1017.6 496.4h0M1073.0 496.2h0M998.2 503.5h0M1011.5 493.8h0M1069.8 495.3h0M1066.7 496.8h0M1016.5 493.8h0M1036.6 499.5h0M1024.5 498.4h0M1016.0 503.2h0M1069.4 503.2h0M1059.9 492.7h0M1012.0 493.6h0M1004.0 504.8h0M1067.0 505.5h0M1037.9 492.9h0M1026.9 491.7h0M1067.0 495.8h0M1015.2 504.8h0M1007.8 504.2h0M1017.1 500.6h0M1000.0 503.7h0M1024.5 496.0h0M1046.0 500.2h0M1012.1 492.4h0M1039.3 491.5h0M1064.2 496.9h0M1005.2 495.3h0M1000.6 495.0h0M1036.6 497.2h0M1019.1 495.0h0M1031.9 502.7h0M1027.8 502.4h0M1031.5 492.8h0M1005.3 503.1h0M1031.3 496.7h0M1034.3 503.7h0M1022.5 496.2h0M1021.7 490.9h0M1036.8 498.3h0M1032.6 497.8h0M1030.7 501.7h0M1006.6 505.1h0M1000.6 503.2h0M1005.7 502.3h0M1012.9 491.7h0M1036.4 503.7h0M1062.0 504.8h0M1073.3 492.8h0M1022.8 492.4h0M1054.4 498.3h0M1053.5 503.4h0M1074.9 502.2h0M1064.5 500.0h0M997.8 503.5h0M998.6 491.5h0M1060.7 495.9h0M1046.6 491.8h0M1008.7 501.2h0M994.2 497.7h0M1069.7 495.1h0M1050.2 502.6h0M1043.1 502.7h0M1049.6 491.6h0M1007.1 498.4h0M1072.5 495.2h0M1040.3 493.1h0M1062.1 498.4h0M1034.8 501.1h0M1002.5 501.2h0M1058.2 504.5h0M1014.6 494.1h0M1004.9 503.8h0M1027.8 496.7h0M1034.7 501.5h0M1017.7 495.7h0M1055.4 503.2h0M1015.9 491.7h0M1069.0 502.8h0M1040.9 497.3h0M1071.5 498.4h0M1009.2 491.9h0M1020.5 499.7h0M1021.6 504.9h0M1045.6 498.2h0M1046.5 500.3h0M1042.9 498.7h0M1034.9 498.4h0M1060.8 494.5h0M1057.0 496.0h0M1062.3 492.8h0M1031.7 497.6h0M1050.8 494.5h0M1013.0 492.5h0M1038.2 499.8h0M991.0 492.7h0M1007.8 504.8h0M1029.2 499.4h0M1015.3 500.5h0M1059.3 501.7h0M991.1 496.6h0M1032.1 491.6h0M1057.4 496.4h0M1015.6 500.0h0M1040.1 498.6h0M1063.2 499.5h0M1019.8 491.7h0M1037.4 496.6h0M1036.1 496.3h0M991.6 490.6h0M1004.3 491.7h0M1062.5 500.4h0M1011.0 501.1h0M1044.3 492.2h0M1054.1 494.9h0M1074.8 494.1h0M1015.0 494.3h0M1063.4 504.0h0M1039.7 493.4h0M1027.0 501.4h0M995.9 503.9h0M1061.7 505.7h0M1049.7 500.7h0M1072.9 496.0h0M1016.7 492.5h0M1006.2 502.3h0M1038.2 517.7h0M1054.8 519.4h0M1074.8 516.9h0M1079.5 508.6h0M1047.6 512.8h0M1056.6 516.7h0M1081.4 517.6h0M1084.1 517.0h0M1052.6 514.6h0M1074.2 518.6h0M1053.3 512.6h0M1066.8 511.0h0M1081.6 508.0h0M1068.7 514.3h0M1043.7 515.4h0M1059.1 520.5h0M1081.7 515.6h0M1080.9 519.5h0M1042.1 518.8h0M1078.8 520.9h0M964.9 484.3h0M957.7 488.4h0M957.7 490.1h0M962.5 491.2h0M959.6 482.8h0M966.8 488.6h0M1080.2 504.8h0M1081.8 506.4h0M1084.0 503.3h0M1096.5 514.6h0M1090.5 506.0h0M1075.2 504.8h0M1092.2 510.6h0M1075.8 504.9h0M1084.1 504.4h0M1085.9 505.9h0M1087.5 509.8h0M1096.5 506.9h0M1085.4 511.1h0M1087.7 508.1h0M1093.0 504.6h0M1091.4 510.0h0M1085.8 504.4h0M1086.7 502.8h0M1084.2 503.1h0M1095.2 513.3h0M1082.8 508.0h0M1080.4 504.5h0M1074.4 506.0h0M1090.6 511.1h0M1072.2 504.7h0M1070.3 500.9h0M1083.2 500.5h0M1081.4 509.0h0M1086.9 504.9h0M1092.0 507.5h0M1094.2 508.9h0M1072.1 506.4h0M1071.9 497.9h0M1090.8 504.5h0M1084.7 509.9h0M1085.9 504.8h0M1090.5 511.8h0M1085.6 507.7h0M1078.7 502.5h0M1096.8 515.6h0M1070.0 496.4h0M1076.1 505.9h0M1075.4 498.4h0M1090.7 505.0h0M1096.4 510.3h0M1094.3 513.1h0M1075.6 505.6h0M1081.2 501.5h0M1071.2 502.9h0M1085.1 504.0h0M1092.5 506.0h0M1082.0 500.3h0M1079.5 508.2h0M1083.5 501.7h0M1076.4 504.3h0M1077.5 507.5h0M1071.6 505.0h0M1086.8 510.3h0M1079.6 499.0h0M1074.6 503.4h0M1070.7 495.6h0M1091.1 512.6h0M1093.1 512.9h0M1085.0 510.2h0M1088.8 508.3h0M1081.5 499.4h0M1072.4 498.0h0M1082.4 500.9h0M1096.2 511.4h0M1090.0 512.3h0M1076.1 506.9h0M1095.9 508.2h0M1073.4 504.9h0M1094.0 512.8h0M1081.0 505.6h0M1073.1 498.1h0M1081.3 507.3h0M1072.4 506.0h0M1070.8 505.9h0M1076.4 506.3h0M1092.1 513.7h0M1082.7 507.4h0M1077.9 507.0h0" stroke="#c8c8c8" stroke-width="4.0" stroke-linecap="round" fill="none"/>
<line x1="883.5" y1="458.5" x2="1156.5" y2="458.5" stroke="#555" stroke-width="1.3"/>
<line x1="883.5" y1="523.8" x2="1156.5" y2="523.8" stroke="#dadada" stroke-width="1"/>
<line x1="883.5" y1="458.5" x2="883.5" y2="523.8" stroke="#555" stroke-width="1"/>
<line x1="969.6" y1="458.5" x2="969.6" y2="523.8" stroke="#5a5a5a" stroke-width="1.8" stroke-dasharray="6.5,4"/>
<line x1="991.6" y1="458.5" x2="991.6" y2="523.8" stroke="#5a5a5a" stroke-width="1.8" stroke-dasharray="6.5,4"/>
<line x1="881.0" y1="472.1" x2="883.5" y2="472.1" stroke="#444" stroke-width="0.8"/>
<text transform="translate(872.0,470.6) rotate(58)" font-size="7.6" text-anchor="middle" fill="#555">-0.5</text>
<line x1="881.0" y1="488.5" x2="883.5" y2="488.5" stroke="#444" stroke-width="0.8"/>
<text transform="translate(872.0,487.0) rotate(58)" font-size="7.6" text-anchor="middle" fill="#555">0.0</text>
<line x1="881.0" y1="504.9" x2="883.5" y2="504.9" stroke="#444" stroke-width="0.8"/>
<text transform="translate(872.0,503.4) rotate(58)" font-size="7.6" text-anchor="middle" fill="#555">0.5</text>
<line x1="881.0" y1="521.3" x2="883.5" y2="521.3" stroke="#444" stroke-width="0.8"/>
<text transform="translate(872.0,519.8) rotate(58)" font-size="7.6" text-anchor="middle" fill="#555">1.0</text>
<rect x="1157.6" y="458.5" width="14.5" height="65.3" fill="#c33b24"/>
<text transform="translate(1162.8,491.1) rotate(90)" font-size="6.3" text-anchor="middle" fill="#2a120c">Endothelial cells</text>
<line x1="899.4" y1="474.9" x2="891" y2="500" stroke="#5a5a5a" stroke-width="0.8"/>
<line x1="899.4" y1="474.9" x2="905" y2="495" stroke="#5a5a5a" stroke-width="0.8"/>
<line x1="899.4" y1="474.9" x2="917" y2="495" stroke="#5a5a5a" stroke-width="0.8"/>
<line x1="1098.3" y1="516.5" x2="1088" y2="500" stroke="#5a5a5a" stroke-width="0.8"/>
<line x1="1098.3" y1="516.5" x2="1101" y2="505" stroke="#5a5a5a" stroke-width="0.8"/>
<circle cx="899.4" cy="474.9" r="2.4" fill="#5a5a5a"/>
<circle cx="902" cy="476" r="2.4" fill="#5a5a5a"/>
<circle cx="1102.9" cy="499.5" r="2.4" fill="#5a5a5a"/>
<circle cx="1098.3" cy="516.5" r="2.4" fill="#5a5a5a"/>
<text transform="translate(887.1,500.6) rotate(90)" font-size="9.7" fill="#5a5a5a">CD2</text>
<text transform="translate(900.9,495.6) rotate(90)" font-size="9.7" fill="#5a5a5a">CD37</text>
<text transform="translate(915.2,495.6) rotate(90)" font-size="9.7" fill="#5a5a5a">RAC2</text>
<text transform="translate(1110.2,462.0) rotate(90)" font-size="9.7" fill="#5a5a5a">CCL21</text>
<text transform="translate(1097.8,462.0) rotate(90)" font-size="9.7" fill="#5a5a5a">CLDN5</text>
<text transform="translate(1084.0,462.0) rotate(90)" font-size="9.7" fill="#5a5a5a">SOX18</text>
<path d="M913.9 546.1h0M944.3 547.7h0M966.3 558.0h0M911.3 538.3h0M908.7 537.7h0M951.7 560.1h0M946.8 557.0h0M958.8 559.7h0M931.2 545.2h0M916.8 543.4h0M919.9 546.6h0M927.2 547.3h0M941.4 552.8h0M916.8 540.2h0M950.4 551.4h0M949.3 559.1h0M931.5 553.0h0M945.7 557.6h0M940.2 553.7h0M950.0 551.1h0M939.6 551.6h0M936.2 551.3h0M964.3 562.4h0M958.2 553.4h0M951.3 556.1h0M966.1 554.7h0M917.9 548.4h0M930.5 549.8h0M944.3 551.3h0M934.6 549.7h0M969.1 561.3h0M956.8 554.6h0M951.8 556.1h0M953.8 559.7h0M912.0 546.4h0M945.4 550.2h0M936.3 545.3h0M921.6 548.2h0M951.8 558.9h0M917.2 538.8h0M930.9 547.7h0M951.8 552.8h0M953.4 556.4h0M925.2 548.9h0M911.6 542.1h0M918.8 538.6h0M937.1 550.1h0M945.6 551.5h0M965.6 562.7h0M916.7 537.4h0M967.5 559.5h0M913.6 538.3h0M951.1 551.3h0M930.5 549.5h0M929.2 548.8h0M966.7 563.2h0M946.6 554.5h0M926.5 547.8h0M947.9 554.5h0M937.9 552.9h0M919.9 546.3h0M968.6 555.9h0M922.9 550.3h0M912.2 544.8h0M943.6 547.5h0M946.7 547.9h0M960.5 555.9h0M965.2 563.8h0M915.6 541.4h0M916.6 545.6h0M913.0 536.9h0M914.3 546.0h0M922.6 542.9h0M935.1 549.8h0M933.0 553.3h0M928.5 546.6h0M961.3 555.5h0M918.0 547.0h0M926.9 550.6h0M958.8 556.0h0M928.0 542.4h0M962.0 557.9h0M928.6 543.4h0M921.2 548.5h0M915.2 542.9h0M946.4 553.3h0M938.6 549.3h0M919.1 547.2h0M963.5 559.7h0M922.9 549.5h0M919.7 540.3h0M946.4 556.7h0M943.1 547.8h0M968.7 557.2h0M928.6 552.3h0M956.9 559.4h0M911.8 545.0h0M932.2 542.9h0M956.7 561.2h0M910.0 540.0h0M963.8 557.3h0M926.1 549.1h0M934.8 554.5h0M960.9 561.9h0M951.5 551.6h0M950.3 555.3h0M937.4 550.7h0M926.2 542.9h0M964.5 557.9h0M913.7 547.0h0M939.2 552.5h0M928.4 543.1h0M927.9 550.3h0M924.3 549.9h0M926.2 550.4h0M918.3 542.8h0M915.1 538.5h0M939.9 549.4h0M940.9 548.1h0M926.6 544.3h0M963.6 554.6h0M933.2 552.4h0M943.0 549.3h0M969.8 557.1h0M915.6 537.2h0M934.7 552.9h0M924.8 543.3h0M957.3 552.4h0M908.1 541.7h0M912.6 541.7h0M916.1 543.8h0M960.6 557.5h0M924.2 546.8h0M951.1 550.0h0M922.1 543.4h0M938.9 548.1h0M948.5 551.2h0M964.0 557.6h0M921.0 539.7h0M915.0 539.1h0M962.6 557.8h0M934.9 554.1h0M967.9 563.3h0M922.1 542.8h0M938.8 547.9h0M928.9 543.9h0M922.2 547.5h0M945.0 552.0h0M936.7 551.0h0M950.1 549.3h0M960.1 557.4h0M928.5 551.9h0M954.7 554.4h0M908.5 539.3h0M934.7 547.7h0M913.2 542.5h0M923.0 547.9h0M940.3 548.8h0M959.0 556.9h0M912.3 538.9h0M910.3 539.9h0M964.3 563.9h0M948.1 550.0h0M922.1 541.5h0M930.5 549.1h0M908.4 539.9h0M933.8 550.5h0M959.1 556.4h0M945.0 550.2h0M935.6 550.8h0M910.3 540.8h0M938.6 547.0h0M922.7 548.4h0M929.0 543.8h0M924.9 545.9h0M932.1 546.6h0M927.3 543.4h0M938.8 551.5h0M912.6 542.4h0M926.4 551.4h0M966.1 556.0h0M950.9 553.0h0M914.0 546.0h0M964.2 562.3h0M947.1 558.5h0M942.0 553.5h0M948.1 557.5h0M960.9 556.0h0M920.1 544.5h0M1024.9 571.5h0M1040.1 584.4h0M1030.3 576.1h0M1030.8 568.7h0M1037.2 567.9h0M1042.6 579.7h0M1007.2 566.2h0M1025.4 573.9h0M1030.9 566.6h0M1041.0 575.0h0M1016.4 578.5h0M1025.8 573.6h0M1008.1 571.9h0M993.4 566.1h0M1038.2 567.8h0M996.4 577.8h0M1012.7 573.7h0M1024.7 579.3h0M1009.6 578.2h0M991.6 577.1h0M1009.1 575.2h0M1008.7 577.7h0M1012.8 575.2h0M1009.7 579.5h0M1035.4 569.3h0M1034.3 585.5h0M1005.0 566.0h0M1044.1 587.5h0M998.9 576.8h0M1044.1 571.6h0M1035.6 571.5h0M1036.0 576.2h0M1018.2 566.0h0M1028.4 579.4h0M1008.0 563.4h0M996.7 566.5h0M1047.8 583.1h0M1042.1 582.4h0M999.1 569.2h0M1045.2 585.2h0M1047.5 584.8h0M1031.7 581.2h0M1043.2 575.3h0M993.5 567.1h0M992.3 566.3h0M1024.9 569.8h0M1005.6 564.1h0M1011.8 573.3h0M1024.9 584.1h0M995.6 566.3h0M995.9 579.3h0M1027.2 578.3h0M1037.5 565.1h0M1042.6 573.0h0M1027.1 572.8h0M1033.7 571.4h0M1007.3 567.4h0M1032.5 574.6h0M1000.4 568.7h0M1023.6 571.8h0M1025.0 582.0h0M1027.7 581.5h0M1008.7 580.1h0M1044.7 577.8h0M992.9 562.8h0M1034.3 583.9h0M1032.5 575.7h0M1022.1 566.1h0M1025.4 585.4h0M1003.2 574.1h0M1039.6 579.8h0M1011.4 567.6h0M1032.9 585.0h0M1041.1 574.4h0M1033.6 582.6h0M1012.8 578.4h0M1013.4 567.0h0M991.6 574.8h0M1034.0 565.7h0M995.1 567.4h0M1003.3 576.6h0M1002.3 573.5h0M1022.7 571.2h0M1039.8 575.1h0M1020.5 577.6h0M1014.4 566.9h0M1045.3 582.9h0M1022.4 574.2h0M1026.4 570.4h0M995.7 571.9h0M1042.4 567.7h0M1046.9 574.5h0M1047.9 583.7h0M1007.0 566.6h0M1041.7 587.5h0M1037.0 578.0h0M1022.2 580.3h0M1038.0 583.7h0M1007.9 579.1h0M1045.4 578.9h0M992.1 564.6h0M1028.3 573.4h0M1043.4 580.1h0M1031.0 567.8h0M1021.2 578.6h0M1043.3 586.0h0M1006.5 572.4h0M1046.8 568.0h0M995.6 564.9h0M1032.9 571.8h0M1031.5 582.6h0M1037.2 565.9h0M1030.4 581.8h0M1031.2 583.4h0M1037.7 578.8h0M1040.4 577.6h0M997.7 567.1h0M1044.2 573.3h0M1018.2 581.6h0M1030.3 581.6h0M1018.1 574.0h0M995.9 565.2h0M1000.5 572.3h0M1021.3 565.2h0M1027.4 566.4h0M1013.4 563.5h0M1018.4 566.4h0M1044.6 573.9h0M1038.4 575.0h0M1010.1 579.7h0M1007.1 572.7h0M1027.7 585.6h0M1031.3 565.6h0M1017.3 583.1h0M1039.8 573.5h0M998.8 566.9h0M1034.3 568.8h0M1041.9 571.5h0M1030.5 579.5h0M1005.3 572.6h0M1027.0 569.9h0M1021.6 576.9h0M1045.6 572.3h0M1001.4 571.9h0M1025.3 574.4h0M1043.1 570.1h0M1020.3 573.5h0M1002.8 571.0h0M1017.1 571.1h0M1035.2 586.7h0M1046.3 570.8h0M1012.6 582.3h0M996.3 563.1h0M995.3 579.8h0M1020.1 572.6h0M997.1 578.6h0M1047.6 581.8h0M1043.1 578.4h0M1009.1 566.2h0M1008.7 565.6h0M1012.4 563.8h0M993.9 578.4h0M1039.4 583.5h0M1011.4 572.0h0M1022.2 580.4h0M1008.7 572.9h0M1022.6 581.6h0M1011.3 562.8h0M1014.4 581.2h0M1001.5 574.2h0M999.1 567.0h0M1026.8 566.3h0M1017.2 575.5h0M1013.5 578.5h0M1039.3 571.5h0M1034.5 581.5h0M1025.2 576.6h0M1023.6 579.6h0M1030.6 570.4h0M1028.3 579.6h0M1017.7 582.0h0M1009.3 573.7h0M1023.7 576.7h0M1002.0 575.1h0M998.2 572.0h0M1017.0 577.7h0M1040.0 587.4h0M1004.6 580.3h0M1018.2 573.9h0M993.9 577.7h0M1004.5 567.7h0M1008.8 567.3h0M1007.9 568.3h0M1021.7 571.3h0M1034.3 585.3h0M1044.2 574.2h0M1030.1 580.3h0M1032.5 573.4h0M1002.5 576.9h0M1028.6 571.9h0M1029.2 565.8h0M1035.8 584.8h0M1046.3 568.5h0M1030.6 581.5h0M999.6 573.6h0M1002.3 566.3h0M993.2 566.5h0M1039.5 578.4h0M1036.6 586.5h0M1000.1 578.4h0M1042.1 580.1h0M1010.4 566.2h0M1016.4 570.9h0M1006.3 575.8h0M1027.4 569.7h0M1001.3 571.7h0M1031.7 579.1h0M1027.7 583.5h0M1034.3 574.5h0M1033.7 579.3h0M1010.8 566.1h0M1012.9 577.6h0M1033.9 571.4h0M1022.1 565.3h0M1025.3 573.6h0M1034.9 583.8h0M994.6 579.8h0M1001.3 580.8h0M1047.2 571.0h0M1008.0 565.4h0M1042.9 582.7h0M1046.1 584.3h0M1011.9 578.6h0M1011.7 569.5h0M1015.6 577.6h0M1009.4 573.9h0M1023.6 580.7h0M1018.1 572.1h0M1022.9 573.6h0M1032.9 567.0h0M1001.6 562.6h0M1014.9 580.6h0M1025.4 577.6h0M1044.4 584.4h0M1008.1 566.9h0M1021.9 568.5h0M1025.2 565.7h0M1013.6 577.8h0M1006.0 565.3h0M1033.8 569.0h0M1042.4 579.4h0M1041.7 577.5h0M1019.2 568.8h0M994.9 579.6h0M1003.9 563.7h0M1044.2 577.9h0M1024.4 583.5h0M1032.9 570.3h0M1007.6 575.6h0M1030.0 569.3h0M1005.7 572.4h0M995.0 576.8h0M1028.7 567.6h0M1024.3 576.5h0M996.6 569.8h0M1036.3 575.0h0M1032.6 569.8h0M1047.9 581.4h0M1023.1 564.0h0M1011.7 562.8h0M1016.4 566.9h0M1005.4 568.3h0M999.8 567.3h0M1020.0 566.3h0M1023.2 584.0h0M1032.3 585.5h0M997.7 574.4h0M1005.2 580.9h0M1019.6 578.6h0M1035.4 567.8h0M997.3 577.2h0M1037.8 574.8h0M993.0 561.6h0M1036.8 580.4h0M1012.7 576.8h0M1037.2 565.2h0M1033.6 586.2h0M1040.6 585.2h0M1016.4 575.8h0M998.0 577.0h0M1028.8 573.1h0M994.4 564.7h0M1014.3 582.0h0M1018.2 581.4h0M1002.2 566.9h0M1004.9 567.9h0M1036.4 573.2h0M1009.6 576.4h0M1016.8 581.5h0M1030.8 582.6h0M1015.7 571.3h0M1017.1 583.8h0M1044.8 578.6h0M1019.4 565.0h0M1040.0 579.0h0M1014.8 566.5h0M1018.2 578.2h0M1006.8 567.7h0M1020.4 574.0h0M992.0 562.2h0M1012.7 577.4h0M1013.1 563.2h0M1005.3 566.1h0M1034.7 569.8h0M1046.9 572.5h0M1001.8 562.3h0M1019.3 574.3h0M1035.7 579.7h0M1022.2 564.8h0M1043.9 571.3h0M1004.8 565.6h0M1024.8 577.9h0M1009.4 567.8h0M992.2 572.4h0M1031.7 567.2h0M1005.2 577.2h0M1031.6 567.5h0M1047.3 582.4h0M1032.0 571.6h0M1046.1 575.9h0M1027.5 585.4h0M1037.6 586.2h0M1001.6 586.5h0M1001.1 591.2h0M1022.7 588.3h0M1013.8 588.5h0M1017.3 590.1h0M917.1 534.3h0M926.6 534.3h0M924.5 530.9h0" stroke="#c8c8c8" stroke-width="4.0" stroke-linecap="round" fill="none"/>
<line x1="883.5" y1="528.8" x2="1156.5" y2="528.8" stroke="#808080" stroke-width="1.3"/>
<line x1="883.5" y1="594.0999999999999" x2="1156.5" y2="594.0999999999999" stroke="#dadada" stroke-width="1"/>
<line x1="883.5" y1="528.8" x2="883.5" y2="594.0999999999999" stroke="#555" stroke-width="1"/>
<line x1="969.6" y1="528.8" x2="969.6" y2="594.0999999999999" stroke="#5a5a5a" stroke-width="1.8" stroke-dasharray="6.5,4"/>
<line x1="991.6" y1="528.8" x2="991.6" y2="594.0999999999999" stroke="#5a5a5a" stroke-width="1.8" stroke-dasharray="6.5,4"/>
<line x1="881.0" y1="542.4" x2="883.5" y2="542.4" stroke="#444" stroke-width="0.8"/>
<text transform="translate(872.0,540.9) rotate(58)" font-size="7.6" text-anchor="middle" fill="#555">-0.5</text>
<line x1="881.0" y1="558.8" x2="883.5" y2="558.8" stroke="#444" stroke-width="0.8"/>
<text transform="translate(872.0,557.3) rotate(58)" font-size="7.6" text-anchor="middle" fill="#555">0.0</text>
<line x1="881.0" y1="575.2" x2="883.5" y2="575.2" stroke="#444" stroke-width="0.8"/>
<text transform="translate(872.0,573.7) rotate(58)" font-size="7.6" text-anchor="middle" fill="#555">0.5</text>
<line x1="881.0" y1="591.6" x2="883.5" y2="591.6" stroke="#444" stroke-width="0.8"/>
<text transform="translate(872.0,590.1) rotate(58)" font-size="7.6" text-anchor="middle" fill="#555">1.0</text>
<rect x="1157.6" y="528.8" width="14.5" height="65.3" fill="#c33b24"/>
<text transform="translate(1162.8,561.4) rotate(90)" font-size="6.3" text-anchor="middle" fill="#2a120c">Epithelial cells</text>
<line x1="905.5" y1="547.3" x2="894" y2="559" stroke="#1a72bb" stroke-width="0.8"/>
<line x1="909.6" y1="548.9" x2="908" y2="559" stroke="#1a72bb" stroke-width="0.8"/>
<line x1="909.6" y1="548.9" x2="920" y2="559" stroke="#1a72bb" stroke-width="0.8"/>
<line x1="1047.4" y1="583.4" x2="1036" y2="580" stroke="#1a72bb" stroke-width="0.8"/>
<circle cx="905.5" cy="547.3" r="2.4" fill="#1a72bb"/>
<circle cx="909.6" cy="548.9" r="2.4" fill="#1a72bb"/>
<circle cx="1048.9" cy="561.2" r="2.4" fill="#1a72bb"/>
<circle cx="1052" cy="565.8" r="2.4" fill="#1a72bb"/>
<circle cx="1047.4" cy="583.4" r="2.4" fill="#1a72bb"/>
<text transform="translate(889.7,559.7) rotate(90)" font-size="9.7" fill="#1a72bb">KLRB1</text>
<text transform="translate(905.1,559.7) rotate(90)" font-size="9.7" fill="#1a72bb">CD160</text>
<text transform="translate(917.5,559.7) rotate(90)" font-size="9.7" fill="#1a72bb">CD247</text>
<text transform="translate(1056.2,532.0) rotate(90)" font-size="9.7" fill="#1a72bb">GUCA2A</text>
<text transform="translate(1042.3,532.0) rotate(90)" font-size="9.7" fill="#1a72bb">ZG16</text>
<text transform="translate(1029.4,532.0) rotate(90)" font-size="9.7" fill="#1a72bb">CEACAM5</text>
<path d="M938.2 621.4h0M934.6 617.8h0M926.6 619.4h0M933.3 615.2h0M960.0 615.1h0M915.4 613.5h0M939.5 613.0h0M936.6 620.3h0M963.6 626.4h0M958.7 614.7h0M935.1 616.4h0M916.5 617.4h0M930.3 619.5h0M952.2 616.4h0M933.8 616.2h0M925.7 610.3h0M938.2 614.2h0M929.0 619.4h0M955.8 618.7h0M916.4 617.2h0M929.5 611.7h0M956.4 625.1h0M929.1 616.7h0M963.8 621.2h0M934.2 612.9h0M916.5 618.6h0M959.6 616.2h0M950.5 615.3h0M956.1 618.3h0M953.3 619.9h0M919.5 615.6h0M951.0 613.5h0M917.0 612.1h0M954.7 625.7h0M939.6 621.9h0M954.1 616.7h0M939.5 621.7h0M941.5 617.9h0M954.7 615.2h0M940.3 617.9h0M946.2 620.9h0M929.9 616.0h0M940.3 613.0h0M958.3 626.1h0M945.8 617.4h0M935.3 616.5h0M935.4 614.4h0M967.2 619.6h0M926.7 617.6h0M915.3 612.7h0M945.8 622.3h0M931.7 611.4h0M968.2 615.0h0M938.0 617.5h0M969.3 619.7h0M928.3 613.7h0M935.6 612.9h0M964.5 621.2h0M955.4 616.9h0M951.7 624.4h0M927.7 621.1h0M930.7 618.9h0M966.8 620.8h0M966.2 619.8h0M939.0 622.5h0M948.1 613.3h0M923.2 615.8h0M933.7 611.7h0M959.8 618.1h0M964.7 619.3h0M925.1 614.8h0M960.5 625.7h0M945.9 615.4h0M944.0 615.3h0M934.9 611.3h0M916.0 619.0h0M957.2 616.7h0M948.9 613.2h0M960.6 621.9h0M954.6 618.8h0M938.9 621.2h0M932.5 611.8h0M921.3 619.6h0M930.3 611.4h0M946.1 614.0h0M938.5 620.7h0M927.8 615.1h0M966.3 626.1h0M962.8 614.7h0M968.5 622.4h0M923.3 620.7h0M921.8 620.4h0M916.7 610.0h0M941.0 619.1h0M947.2 622.5h0M921.0 617.5h0M932.6 621.9h0M949.4 621.3h0M922.3 619.8h0M930.9 613.1h0M938.1 620.7h0M932.7 616.3h0M948.2 615.7h0M921.5 614.1h0M954.2 621.8h0M926.7 617.6h0M961.0 623.2h0M925.1 610.6h0M969.2 624.5h0M930.0 619.0h0M946.9 620.2h0M934.7 618.9h0M936.0 615.8h0M932.8 619.4h0M962.3 618.0h0M919.1 612.2h0M956.6 618.1h0M915.6 617.9h0M938.9 612.4h0M956.1 620.0h0M961.6 625.0h0M960.3 625.4h0M936.1 620.7h0M942.2 619.8h0M926.9 617.3h0M919.1 618.7h0M924.8 616.4h0M961.3 624.8h0M962.1 619.7h0M918.9 620.0h0M931.8 620.7h0M937.5 616.6h0M944.8 618.9h0M957.9 621.2h0M924.2 615.9h0M920.2 618.8h0M924.7 614.1h0M947.5 616.7h0M964.2 624.8h0M933.3 615.9h0M955.6 619.9h0M950.0 617.0h0M946.3 619.6h0M964.5 619.0h0M959.0 616.6h0M931.0 613.4h0M966.1 615.8h0M930.8 616.0h0M954.1 621.6h0M921.7 614.0h0M954.6 615.1h0M921.7 618.7h0M915.0 609.8h0M925.3 619.4h0M934.2 616.0h0M944.7 623.0h0M917.2 611.3h0M937.1 618.9h0M922.3 614.5h0M946.3 613.2h0M933.2 611.7h0M965.1 614.6h0M923.8 616.7h0M927.7 616.8h0M933.8 622.5h0M946.3 616.7h0M924.9 615.4h0M957.5 622.8h0M953.8 619.7h0M966.4 619.9h0M945.1 623.9h0M958.4 619.8h0M958.7 623.7h0M931.2 615.3h0M956.6 618.3h0M934.3 617.3h0M919.2 612.3h0M969.3 618.3h0M959.4 613.9h0M931.9 616.7h0M932.2 621.7h0M967.7 618.7h0M922.6 619.9h0M958.7 620.5h0M998.3 631.5h0M1069.7 647.8h0M1044.4 640.2h0M1022.9 639.1h0M1039.0 644.2h0M1038.6 639.8h0M1017.1 643.2h0M1097.8 642.1h0M1079.1 647.9h0M1017.9 635.0h0M1086.4 640.7h0M1005.1 633.3h0M1084.0 644.1h0M991.7 635.2h0M1050.4 642.9h0M1008.3 645.4h0M1070.5 641.4h0M1027.7 637.7h0M994.0 640.6h0M1022.7 643.6h0M1086.6 643.4h0M1024.0 639.1h0M1045.5 635.8h0M1035.8 639.2h0M1004.2 644.9h0M1070.5 644.7h0M999.9 642.9h0M1034.6 648.1h0M1065.0 640.4h0M1076.9 646.9h0M1031.8 646.5h0M1029.0 636.0h0M996.5 640.8h0M1022.6 635.7h0M997.0 643.4h0M1023.3 646.8h0M1092.9 651.7h0M1017.0 647.6h0M1062.2 649.7h0M1094.6 644.0h0M1034.1 648.3h0M1024.5 635.0h0M995.9 639.9h0M1026.4 648.4h0M992.8 637.1h0M1072.3 646.7h0M1086.1 648.5h0M1090.5 653.8h0M1089.4 648.0h0M1036.8 642.7h0M1016.6 636.8h0M1050.5 642.4h0M1035.6 635.6h0M1102.8 644.8h0M1046.0 640.6h0M1054.6 648.0h0M1098.0 648.7h0M1097.9 645.0h0M1045.2 640.4h0M1101.1 641.5h0M1017.1 644.9h0M1018.6 634.0h0M1033.4 641.4h0M1043.2 638.5h0M1031.0 638.4h0M1011.5 640.3h0M1017.4 635.9h0M1097.0 653.1h0M1034.7 642.5h0M1002.6 632.0h0M1049.8 650.3h0M1000.5 638.6h0M1081.6 638.1h0M1058.1 640.2h0M1077.1 650.5h0M1091.7 651.0h0M1001.5 641.9h0M1055.0 640.6h0M1014.4 640.0h0M1039.5 641.0h0M1099.7 643.0h0M1088.7 640.8h0M1069.8 644.0h0M1036.3 641.8h0M1006.7 635.5h0M1038.3 637.5h0M1087.5 649.3h0M1063.0 647.4h0M1010.0 632.4h0M1000.6 645.4h0M1046.9 650.5h0M1028.3 639.8h0M1065.2 649.9h0M1040.1 642.2h0M1031.9 637.7h0M1094.4 653.2h0M1041.1 636.9h0M1090.3 645.9h0M1076.3 644.1h0M1000.7 643.2h0M1003.6 646.5h0M1010.8 637.7h0M992.0 634.3h0M1065.3 638.1h0M1004.5 632.8h0M993.1 639.0h0M1017.2 644.6h0M1068.5 644.8h0M1096.9 654.4h0M1026.5 645.7h0M1070.3 640.0h0M1080.6 638.4h0M1067.9 651.1h0M1065.4 647.6h0M1066.3 643.2h0M1004.2 637.7h0M1026.9 646.4h0M1091.3 653.9h0M1029.3 647.8h0M1094.0 639.2h0M1053.7 637.2h0M1000.6 638.5h0M1071.6 640.0h0M1028.1 641.3h0M1053.3 637.6h0M1011.3 632.6h0M1028.1 649.2h0M1012.7 644.3h0M1065.1 650.1h0M1082.7 639.0h0M1029.0 646.9h0M1064.8 650.0h0M995.3 644.3h0M1036.5 646.7h0M1057.7 641.6h0M1051.2 635.9h0M1097.7 652.9h0M1065.2 646.8h0M1075.1 644.3h0M1019.2 643.2h0M1103.2 653.3h0M1082.1 640.6h0M1026.9 638.0h0M1055.6 650.0h0M1062.0 645.6h0M1040.0 637.4h0M1021.7 648.6h0M1094.6 649.2h0M1069.5 640.5h0M994.2 631.4h0M993.6 634.1h0M1102.9 648.7h0M1016.6 634.2h0M993.6 631.2h0M1007.0 637.3h0M1009.3 635.8h0M1062.5 638.4h0M1007.0 644.1h0M1023.4 643.2h0M1023.9 644.3h0M992.7 635.1h0M1089.6 643.2h0M1063.8 639.8h0M1003.7 638.4h0M1043.5 635.5h0M1051.5 642.2h0M1032.3 645.9h0M1092.3 645.2h0M1026.1 645.6h0M1077.6 645.7h0M1061.2 641.7h0M1073.8 646.4h0M1089.0 643.2h0M999.2 645.0h0M1058.0 648.7h0M1076.2 649.6h0M1032.5 647.6h0M1061.6 642.7h0M1010.6 633.8h0M1017.7 637.9h0M1029.1 643.5h0M1100.5 648.3h0M1067.0 636.9h0M1070.5 645.5h0M1079.8 643.3h0M1064.6 644.6h0M1080.2 644.6h0M1085.2 651.9h0M1051.6 643.4h0M1071.6 645.3h0M1101.6 654.2h0M1048.0 646.1h0M1003.6 645.9h0M1061.8 636.8h0M992.8 644.2h0M1080.2 647.5h0M1037.5 638.3h0M1046.4 649.4h0M1063.1 637.2h0M1015.0 634.0h0M1089.7 651.9h0M1096.6 645.9h0M1027.4 634.6h0M1020.5 638.5h0M1035.7 639.6h0M1074.2 650.8h0M1034.6 647.0h0M1024.7 637.6h0M1082.0 639.4h0M1000.1 647.1h0M1045.0 641.5h0M1079.1 651.7h0M1033.6 646.8h0M1006.2 645.9h0M1038.5 640.6h0M993.3 632.0h0M1035.9 636.1h0M1066.5 652.4h0M1024.4 645.2h0M1057.9 645.8h0M1079.7 645.4h0M1085.6 640.8h0M1068.9 645.2h0M1014.0 636.2h0M1099.1 649.3h0M1048.0 643.1h0M1087.9 648.4h0M1016.8 647.5h0M1087.9 650.7h0M1072.1 647.7h0M1028.3 649.1h0M1072.4 639.8h0M1083.4 644.8h0M998.5 645.2h0M1017.2 639.4h0M1002.3 639.8h0M1052.6 648.5h0M1099.7 653.3h0M1067.5 643.1h0M1098.0 642.8h0M1027.4 642.5h0M1033.3 643.0h0M1004.8 635.7h0M993.9 637.7h0M1018.8 645.8h0M1020.6 636.1h0M1072.9 640.3h0M1086.7 646.7h0M1007.9 643.1h0M1104.7 644.6h0M1054.6 644.4h0M1099.4 654.9h0M998.6 637.3h0M1083.2 644.6h0M1049.4 644.3h0M993.0 631.5h0M1093.3 645.1h0M1042.0 643.6h0M1076.8 651.6h0M1001.1 641.5h0M992.0 639.4h0M1084.1 645.7h0M1033.4 647.6h0M1070.2 651.4h0M1053.0 640.5h0M1070.2 644.7h0M991.7 632.8h0M1100.3 649.6h0M995.3 642.9h0M1077.4 638.4h0M1103.8 642.4h0M1049.1 646.5h0M1047.0 640.7h0M1045.8 645.0h0M1099.6 653.2h0M1103.8 652.3h0M1045.7 640.7h0M1094.8 653.5h0M1025.8 645.8h0M1031.1 634.8h0M1045.2 649.2h0M1052.1 648.4h0M1087.0 650.9h0M1025.4 647.8h0M1001.2 639.5h0M1001.1 637.6h0M1092.1 651.5h0M1104.2 648.5h0M1050.6 638.1h0M1046.6 649.4h0M1030.2 647.3h0M1026.1 646.1h0M1013.3 647.6h0M1004.9 633.1h0M1056.6 648.2h0M1072.2 643.6h0M1072.6 640.4h0M1028.8 638.3h0M1017.3 633.5h0M1015.8 641.2h0M1060.5 641.5h0M1060.9 641.5h0M1083.3 638.3h0M1079.2 651.9h0M1057.3 646.0h0M1103.0 641.9h0M1002.4 639.6h0M1073.6 645.7h0M1046.6 642.0h0M1043.8 648.7h0M999.4 641.7h0M1002.1 644.9h0M1021.3 645.7h0M1027.8 643.6h0M1049.3 650.4h0M1045.2 643.1h0M1048.5 639.2h0M1098.3 644.6h0M1008.7 635.4h0M1073.1 651.4h0M1058.8 651.1h0M1017.0 646.7h0M1078.7 641.1h0M1002.1 638.3h0M1039.1 642.3h0M1073.4 640.9h0M1020.5 638.3h0M1009.9 639.2h0M1059.6 640.5h0M1007.1 643.5h0M1001.4 645.1h0M1061.3 639.9h0M992.6 644.1h0M994.1 642.8h0M1052.1 646.4h0M1014.4 644.1h0M1020.6 642.4h0M1101.0 648.8h0M1009.7 636.0h0M1037.9 647.5h0M1082.1 644.1h0M1058.2 641.6h0M1047.2 640.2h0M1098.8 645.2h0M1027.5 643.4h0M1016.5 634.5h0M1042.1 647.8h0M1033.2 638.5h0M1024.5 642.9h0M1022.1 641.6h0M1049.6 636.0h0M1028.1 646.6h0M1015.5 644.5h0M1000.2 639.2h0M1039.5 644.8h0M992.1 632.8h0M1037.4 648.8h0M1048.5 648.8h0M1051.9 651.1h0M1000.4 645.1h0M1020.6 636.5h0M1051.3 642.1h0M1104.5 654.4h0M1073.7 641.2h0M1018.0 639.8h0M1028.0 637.1h0M1014.9 636.8h0M1025.4 635.2h0M1026.7 648.5h0M1086.5 648.0h0M1100.1 654.2h0M1002.1 632.4h0M1029.4 642.2h0M1104.7 640.2h0M1071.0 649.5h0M1021.4 645.2h0M1090.0 640.1h0M1066.2 644.1h0M1079.1 640.1h0M1066.8 636.9h0M995.3 637.9h0M1030.9 640.7h0M1015.4 648.3h0M1038.6 642.3h0M1032.2 647.9h0M1010.4 646.9h0M1013.3 646.3h0M1040.1 644.1h0M1018.3 645.8h0M1016.7 645.1h0M1066.3 650.8h0M1103.7 652.3h0M1011.2 645.2h0M1003.2 644.4h0M1096.2 641.3h0M996.1 643.9h0M1031.3 644.6h0M1084.5 653.0h0M1050.4 648.7h0M1094.9 651.1h0M1033.5 648.5h0M1039.3 648.7h0M1035.1 641.9h0M995.6 632.8h0M1096.9 646.3h0M1074.4 644.8h0M1073.9 645.6h0M1007.9 637.0h0M1063.6 639.0h0M1098.5 640.2h0M1055.6 649.6h0M1074.5 639.7h0M1003.6 642.8h0M1038.0 636.0h0M1005.8 642.4h0M994.5 635.6h0M1098.3 643.2h0M1088.1 638.9h0M1014.3 633.4h0M1074.5 646.3h0M1078.7 650.5h0M1073.5 639.0h0M1043.5 635.4h0M1082.0 643.9h0M1044.1 649.0h0M1104.0 649.2h0M1035.5 648.0h0M1087.4 641.8h0M1043.1 649.8h0M1103.2 654.0h0M1046.8 637.7h0M1092.7 642.0h0M1059.9 642.3h0M1087.7 644.2h0M1034.4 647.5h0M1073.9 653.0h0M1005.1 633.9h0M1068.3 644.7h0M1092.9 646.1h0M997.0 638.7h0M1019.8 645.6h0M1083.3 651.6h0M1004.0 640.6h0M1014.1 647.9h0M1008.6 642.4h0M1073.0 640.4h0M1057.7 638.0h0M997.6 635.7h0M1000.5 638.4h0M1068.6 651.4h0M1021.2 640.6h0M1069.8 642.0h0M1026.7 639.4h0M1086.2 644.0h0M1078.7 640.0h0M1026.6 638.1h0M1017.5 635.3h0M1036.5 647.1h0M1066.4 652.3h0M1027.4 638.4h0M1019.0 640.7h0M1005.6 644.5h0M1039.6 635.3h0M1048.9 642.1h0M1013.5 637.3h0M1067.6 652.5h0M1060.1 640.3h0M995.3 636.2h0M1018.8 639.6h0M1042.6 639.2h0M1010.2 646.9h0M1099.1 650.7h0M1096.9 648.1h0M1075.6 644.4h0M1066.7 650.1h0M1071.7 649.7h0M1061.0 641.7h0M1082.6 652.1h0M1018.2 635.5h0M992.4 634.7h0M1012.1 635.6h0M1010.4 637.3h0M1010.8 647.4h0M999.6 631.6h0M1096.1 645.1h0M1076.4 642.5h0M993.1 631.5h0M1096.2 639.9h0M1042.0 638.9h0M1064.7 642.5h0M1083.2 641.4h0M1052.7 651.0h0M1051.9 650.6h0M997.2 645.1h0M1035.9 650.0h0M1071.0 641.1h0M1078.8 640.4h0M1051.4 647.2h0M1016.7 650.7h0M1084.1 652.3h0M1076.0 655.7h0M1019.4 660.3h0M1037.2 653.2h0M1089.8 661.9h0M1033.1 661.7h0M1010.9 659.5h0M1058.5 652.9h0M1039.7 653.8h0M1067.4 655.1h0M1042.8 658.0h0M1034.8 651.0h0M1049.3 660.4h0M1023.9 653.2h0M1091.4 652.0h0M1096.0 653.6h0M1020.9 658.7h0M1089.0 655.6h0M1027.0 651.5h0M1000.7 658.5h0M1074.1 653.8h0M926.8 610.1h0M932.4 609.4h0M937.9 605.9h0M939.3 609.0h0" stroke="#c8c8c8" stroke-width="4.0" stroke-linecap="round" fill="none"/>
<line x1="883.5" y1="598.6" x2="1156.5" y2="598.6" stroke="#808080" stroke-width="1.3"/>
<line x1="883.5" y1="663.9" x2="1156.5" y2="663.9" stroke="#dadada" stroke-width="1"/>
<line x1="883.5" y1="598.6" x2="883.5" y2="663.9" stroke="#555" stroke-width="1"/>
<line x1="969.6" y1="598.6" x2="969.6" y2="663.9" stroke="#5a5a5a" stroke-width="1.8" stroke-dasharray="6.5,4"/>
<line x1="991.6" y1="598.6" x2="991.6" y2="663.9" stroke="#5a5a5a" stroke-width="1.8" stroke-dasharray="6.5,4"/>
<line x1="881.0" y1="612.2" x2="883.5" y2="612.2" stroke="#444" stroke-width="0.8"/>
<text transform="translate(872.0,610.7) rotate(58)" font-size="7.6" text-anchor="middle" fill="#555">-0.5</text>
<line x1="881.0" y1="628.6" x2="883.5" y2="628.6" stroke="#444" stroke-width="0.8"/>
<text transform="translate(872.0,627.1) rotate(58)" font-size="7.6" text-anchor="middle" fill="#555">0.0</text>
<line x1="881.0" y1="645.0" x2="883.5" y2="645.0" stroke="#444" stroke-width="0.8"/>
<text transform="translate(872.0,643.5) rotate(58)" font-size="7.6" text-anchor="middle" fill="#555">0.5</text>
<line x1="881.0" y1="661.4" x2="883.5" y2="661.4" stroke="#444" stroke-width="0.8"/>
<text transform="translate(872.0,659.9) rotate(58)" font-size="7.6" text-anchor="middle" fill="#555">1.0</text>
<rect x="1157.6" y="598.6" width="14.5" height="65.3" fill="#c33b24"/>
<text transform="translate(1162.8,631.2) rotate(90)" font-size="6.3" text-anchor="middle" fill="#2a120c">Fibroblasts</text>
<line x1="902.5" y1="616.7" x2="901" y2="636" stroke="#6b9ab3" stroke-width="0.8"/>
<line x1="902.5" y1="616.7" x2="913" y2="639" stroke="#6b9ab3" stroke-width="0.8"/>
<line x1="1110.6" y1="641.4" x2="1120" y2="634" stroke="#6b9ab3" stroke-width="0.8"/>
<line x1="1109" y1="647.6" x2="1094" y2="628" stroke="#6b9ab3" stroke-width="0.8"/>
<circle cx="902.5" cy="616.7" r="2.4" fill="#6b9ab3"/>
<circle cx="916.3" cy="620.7" r="2.4" fill="#6b9ab3"/>
<circle cx="1109" cy="647.6" r="2.4" fill="#6b9ab3"/>
<circle cx="1110.6" cy="641.4" r="2.4" fill="#6b9ab3"/>
<text transform="translate(897.4,636.8) rotate(90)" font-size="9.7" fill="#6b9ab3">CD48</text>
<text transform="translate(909.8,639.8) rotate(90)" font-size="9.7" fill="#6b9ab3">LTB</text>
<text transform="translate(924.5,609.0) rotate(90)" font-size="9.7" fill="#6b9ab3">HLA-DQB1</text>
<text transform="translate(1117.9,602.8) rotate(90)" font-size="9.7" fill="#6b9ab3">SFRP1</text>
<text transform="translate(1104.0,602.8) rotate(90)" font-size="9.7" fill="#6b9ab3">ASPN</text>
<text transform="translate(1090.1,602.8) rotate(90)" font-size="9.7" fill="#6b9ab3">SLIT3</text>
<path d="M935.3 691.2h0M934.6 688.8h0M961.0 695.1h0M949.5 693.8h0M963.2 691.3h0M922.9 692.0h0M922.1 687.9h0M924.2 688.8h0M958.8 687.5h0M944.3 689.6h0M953.1 695.1h0M953.3 687.3h0M937.0 689.5h0M927.3 691.8h0M937.4 688.6h0M929.9 689.4h0M960.2 688.3h0M944.5 688.7h0M922.2 687.5h0M951.5 692.2h0M969.8 695.0h0M966.4 694.9h0M953.9 695.2h0M963.1 694.8h0M935.7 687.7h0M963.1 687.7h0M938.9 692.9h0M934.0 689.4h0M936.7 691.0h0M961.3 687.9h0M939.9 693.2h0M940.1 694.3h0M932.8 689.4h0M927.8 691.9h0M943.5 693.3h0M954.1 689.2h0M962.5 688.1h0M966.2 695.4h0M931.5 689.9h0M936.8 689.5h0M967.3 692.3h0M948.6 686.7h0M921.9 688.1h0M940.5 693.9h0M948.1 694.4h0M948.3 694.8h0M935.3 685.5h0M957.3 693.2h0M929.0 686.6h0M943.1 693.9h0M953.1 690.7h0M948.2 689.5h0M939.1 687.2h0M954.5 687.0h0M945.7 686.9h0M926.3 690.9h0M963.0 692.4h0M968.1 694.9h0M946.5 691.7h0M919.4 684.8h0M957.2 690.6h0M968.2 690.4h0M933.4 686.9h0M966.5 693.1h0M932.1 685.6h0M948.7 686.5h0M963.0 689.0h0M957.9 695.3h0M933.8 690.2h0M954.1 691.0h0M940.0 693.4h0M932.1 689.8h0M919.4 688.6h0M968.5 691.8h0M956.5 690.0h0M938.2 689.0h0M963.9 690.7h0M921.3 688.6h0M948.7 691.9h0M942.9 688.5h0M955.5 689.2h0M932.3 686.6h0M922.0 685.9h0M953.4 690.4h0M942.3 687.9h0M932.2 690.9h0M966.9 689.1h0M954.2 695.8h0M946.8 694.3h0M928.2 691.3h0M924.6 686.2h0M923.9 684.4h0M957.7 690.4h0M937.5 691.8h0M931.9 692.3h0M928.4 692.9h0M963.5 692.4h0M966.7 696.1h0M967.5 690.7h0M940.1 688.3h0M941.7 690.7h0M962.8 690.6h0M947.3 688.7h0M941.7 686.2h0M946.6 691.8h0M949.2 694.3h0M945.5 688.6h0M967.4 691.8h0M928.9 689.0h0M954.8 689.3h0M930.9 685.6h0M947.4 689.6h0M959.6 688.7h0M950.2 687.8h0M929.1 685.7h0M951.9 693.4h0M941.2 693.1h0M959.9 695.5h0M951.8 690.7h0M940.2 692.7h0M934.0 687.3h0M969.9 697.3h0M952.4 694.4h0M921.7 690.5h0M949.2 689.1h0M933.2 690.9h0M965.6 695.0h0M921.2 688.9h0M1018.4 704.1h0M995.0 707.4h0M1012.8 705.2h0M1032.2 714.5h0M1013.4 708.7h0M1044.4 713.4h0M1061.3 707.7h0M1062.6 705.8h0M1028.7 712.1h0M1065.6 709.6h0M1047.1 712.9h0M994.3 709.8h0M1060.3 706.5h0M1017.1 707.0h0M1068.8 717.8h0M1005.6 705.5h0M1000.6 700.2h0M1008.2 713.5h0M1066.1 707.7h0M1042.5 711.7h0M1027.8 713.5h0M997.8 703.1h0M999.9 712.5h0M1057.1 710.3h0M997.7 711.5h0M1055.6 715.7h0M1069.2 714.0h0M1031.4 713.2h0M1001.8 711.6h0M1016.0 707.0h0M1063.4 705.0h0M1018.6 712.4h0M1023.9 714.1h0M1050.3 706.8h0M1031.5 707.0h0M1045.7 713.0h0M1032.3 703.2h0M1062.4 707.1h0M1043.3 714.3h0M1028.7 702.5h0M1036.3 703.9h0M1004.7 702.7h0M1004.7 708.1h0M1053.1 709.9h0M1070.0 706.4h0M1017.9 705.5h0M1035.3 711.6h0M1013.4 706.6h0M1022.2 706.1h0M995.0 709.8h0M992.6 704.9h0M1009.2 706.1h0M1049.2 714.4h0M1063.0 713.1h0M1014.1 700.7h0M1002.8 712.4h0M1022.2 706.6h0M1019.9 705.8h0M1006.4 703.9h0M1029.7 708.3h0M995.3 700.6h0M992.5 705.6h0M1044.4 715.1h0M1023.8 709.9h0M1056.1 711.3h0M1035.5 704.5h0M1047.4 713.3h0M1015.6 710.1h0M1007.8 701.6h0M1018.0 708.6h0M1022.8 704.8h0M1071.0 714.6h0M1013.8 701.6h0M1050.2 716.1h0M1050.5 712.9h0M1071.3 714.6h0M1000.6 706.2h0M1023.4 709.5h0M1003.5 708.7h0M1049.3 707.3h0M1042.5 707.7h0M1046.7 709.7h0M1070.7 711.5h0M993.9 699.8h0M1048.0 704.8h0M1054.3 710.7h0M1019.2 706.8h0M1060.9 711.8h0M1025.2 708.1h0M1038.8 708.9h0M1049.7 709.2h0M1014.1 702.3h0M1028.3 704.3h0M1006.7 702.4h0M1020.1 713.9h0M1033.1 706.0h0M1030.0 708.3h0M994.7 710.7h0M1032.8 715.9h0M1043.3 706.4h0M1072.5 707.1h0M1004.2 701.8h0M1003.3 701.6h0M1065.7 707.0h0M1031.1 704.0h0M1016.4 702.1h0M1021.2 705.2h0M1051.1 717.1h0M1006.3 706.6h0M1042.0 716.4h0M995.8 708.5h0M1024.1 708.5h0M1049.0 713.0h0M1022.6 712.7h0M1038.9 705.9h0M1006.6 702.8h0M1058.3 715.8h0M1003.9 708.2h0M996.6 700.0h0M1047.3 711.0h0M1026.3 707.7h0M1028.3 707.0h0M1014.1 713.8h0M996.2 707.6h0M1005.1 705.0h0M993.9 700.9h0M1041.4 703.4h0M1025.1 710.1h0M1038.1 704.1h0M1025.6 706.1h0M1057.5 715.8h0M1039.9 713.5h0M1025.0 715.2h0M1050.3 715.7h0M1004.0 709.7h0M1046.3 712.8h0M1065.1 708.0h0M1000.3 707.5h0M1008.9 714.0h0M1066.6 711.4h0M1057.9 712.5h0M1066.8 712.4h0M1007.4 714.2h0M1012.6 702.1h0M1055.5 712.9h0M1062.7 707.7h0M1067.6 716.1h0M1044.1 703.4h0M1054.3 709.0h0M1001.7 704.2h0M1069.6 709.5h0M1029.1 714.4h0M1049.9 708.7h0M1018.2 708.7h0M1035.3 712.4h0M1044.3 705.7h0M1063.4 715.4h0M1032.2 704.2h0M1028.2 713.8h0M1013.0 705.0h0M1048.2 713.5h0M1059.9 709.8h0M1051.6 706.9h0M994.5 708.9h0M1010.1 712.7h0M1017.5 705.7h0M1061.1 705.0h0M1071.5 709.8h0M993.7 703.7h0M1000.7 703.1h0M1032.3 709.9h0M1006.2 714.2h0M1002.4 701.1h0M1012.7 700.5h0M1063.8 706.9h0M991.6 707.7h0M1018.7 702.7h0M1029.5 704.5h0M996.8 706.5h0M1010.3 705.2h0M1031.6 715.8h0M1041.2 710.7h0M1015.6 707.2h0M1012.5 712.5h0M1068.1 716.2h0M1024.7 711.5h0M1015.0 711.9h0M1069.9 707.7h0M997.4 713.6h0M1038.2 713.4h0M1061.2 715.3h0M998.9 702.9h0M1021.2 713.4h0M1051.5 706.8h0M1002.0 711.0h0M1063.5 705.2h0M1017.9 702.5h0M1026.3 701.9h0M1022.7 703.7h0M995.0 713.1h0M1003.0 713.0h0M1051.1 708.4h0M1021.8 706.5h0M1013.3 708.7h0M1001.5 708.0h0M1031.5 704.7h0M1070.4 709.2h0M1042.9 712.9h0M1052.1 711.6h0M1028.8 707.7h0M1052.1 704.7h0M1037.5 714.1h0M1028.2 708.5h0M1048.1 714.1h0M1017.6 709.4h0M1058.5 712.6h0M1007.9 714.3h0M1019.0 710.1h0M994.8 708.8h0M1036.7 715.0h0M1009.6 700.5h0M1017.9 707.0h0M1047.6 707.7h0M1054.8 715.5h0M993.0 713.2h0M995.7 702.8h0M997.2 710.7h0M1070.0 708.9h0M1037.9 715.8h0M1054.8 707.6h0M1028.9 714.6h0M1063.3 711.2h0M1038.9 703.7h0M1023.4 712.7h0M993.6 701.7h0M1037.6 702.9h0M1005.3 710.6h0M1005.9 707.0h0M1068.7 712.2h0M1047.9 704.4h0M1034.4 709.6h0M1030.7 708.7h0M995.9 708.0h0M1019.5 710.9h0M1011.7 713.3h0M1029.0 713.4h0M1034.0 706.2h0M1026.7 705.6h0M1034.7 707.4h0M1012.7 714.6h0M1071.4 712.2h0M1037.6 713.9h0M1043.2 708.7h0M1032.4 713.2h0M995.7 705.0h0M997.3 707.3h0M992.5 705.1h0M1001.4 704.4h0M1071.9 708.6h0M1021.5 712.5h0M1007.6 703.3h0M1025.4 710.1h0M1007.6 703.7h0M995.5 702.9h0M1023.0 709.7h0M1015.0 708.1h0M1056.0 708.0h0M1050.4 713.9h0M1067.7 714.9h0M1043.7 711.8h0M1022.2 713.8h0M1006.2 705.1h0M1000.8 706.8h0M1065.9 713.5h0M991.7 711.5h0M995.0 701.7h0M1030.4 702.3h0M1056.6 713.4h0M1071.0 713.9h0M1026.2 704.8h0M1016.9 709.7h0M1060.0 707.0h0M1034.3 711.3h0M1009.6 710.3h0M1013.8 705.5h0M1007.5 713.6h0M993.7 703.3h0M1041.6 709.9h0M1009.0 707.4h0M1029.8 709.5h0M1027.5 704.0h0M1048.7 708.0h0M1057.8 708.8h0M1062.9 708.1h0M1044.5 716.4h0M1015.4 712.1h0M1036.4 702.6h0M1039.7 707.9h0M996.1 710.7h0M1048.6 716.2h0M1001.3 704.7h0M1038.4 707.4h0M1000.8 704.8h0M1026.5 708.5h0M1027.2 707.6h0M1032.2 711.6h0M1011.1 707.2h0M1060.9 714.9h0M1056.0 716.5h0M1031.1 713.6h0M1056.5 709.0h0M1054.4 710.5h0M1037.6 704.8h0M1051.9 708.3h0M1026.3 709.0h0M1054.0 717.1h0M1063.0 713.6h0M1014.7 708.3h0M1042.6 707.8h0M1066.3 709.2h0M1034.3 715.7h0M1008.1 706.1h0M1067.3 717.4h0M1044.0 725.0h0M1050.8 718.9h0M1069.4 726.8h0M1069.5 720.1h0M1049.5 726.2h0M1066.4 726.6h0M1022.8 724.8h0M1038.6 719.4h0M1047.3 718.8h0M1036.4 722.3h0M1041.6 721.2h0M1046.2 723.1h0M1028.2 720.3h0M1038.0 718.2h0M938.1 685.4h0M931.2 685.3h0M934.2 682.7h0" stroke="#c8c8c8" stroke-width="4.0" stroke-linecap="round" fill="none"/>
<line x1="883.5" y1="669.3" x2="1156.5" y2="669.3" stroke="#808080" stroke-width="1.3"/>
<line x1="883.5" y1="734.5999999999999" x2="1156.5" y2="734.5999999999999" stroke="#dadada" stroke-width="1"/>
<line x1="883.5" y1="669.3" x2="883.5" y2="734.5999999999999" stroke="#555" stroke-width="1"/>
<line x1="969.6" y1="669.3" x2="969.6" y2="734.5999999999999" stroke="#5a5a5a" stroke-width="1.8" stroke-dasharray="6.5,4"/>
<line x1="991.6" y1="669.3" x2="991.6" y2="734.5999999999999" stroke="#5a5a5a" stroke-width="1.8" stroke-dasharray="6.5,4"/>
<line x1="881.0" y1="682.9" x2="883.5" y2="682.9" stroke="#444" stroke-width="0.8"/>
<text transform="translate(872.0,681.4) rotate(58)" font-size="7.6" text-anchor="middle" fill="#555">-0.5</text>
<line x1="881.0" y1="699.3" x2="883.5" y2="699.3" stroke="#444" stroke-width="0.8"/>
<text transform="translate(872.0,697.8) rotate(58)" font-size="7.6" text-anchor="middle" fill="#555">0.0</text>
<line x1="881.0" y1="715.7" x2="883.5" y2="715.7" stroke="#444" stroke-width="0.8"/>
<text transform="translate(872.0,714.2) rotate(58)" font-size="7.6" text-anchor="middle" fill="#555">0.5</text>
<line x1="881.0" y1="732.1" x2="883.5" y2="732.1" stroke="#444" stroke-width="0.8"/>
<text transform="translate(872.0,730.6) rotate(58)" font-size="7.6" text-anchor="middle" fill="#555">1.0</text>
<rect x="1157.6" y="669.3" width="14.5" height="65.3" fill="#c33b24"/>
<text transform="translate(1162.8,701.9) rotate(90)" font-size="6.3" text-anchor="middle" fill="#2a120c">Macrophages</text>
<line x1="917.9" y1="687.1" x2="935" y2="703" stroke="#e5892b" stroke-width="0.8"/>
<line x1="917.9" y1="687.1" x2="922" y2="703" stroke="#e5892b" stroke-width="0.8"/>
<line x1="917.9" y1="687.1" x2="909" y2="700" stroke="#e5892b" stroke-width="0.8"/>
<line x1="1079.8" y1="709.3" x2="1100" y2="706" stroke="#e5892b" stroke-width="0.8"/>
<line x1="1075" y1="712" x2="1086" y2="702" stroke="#e5892b" stroke-width="0.8"/>
<circle cx="917.9" cy="687.1" r="2.4" fill="#e5892b"/>
<circle cx="919" cy="688" r="2.4" fill="#e5892b"/>
<circle cx="1073.6" cy="710.9" r="2.4" fill="#e5892b"/>
<circle cx="1079.8" cy="709.3" r="2.4" fill="#e5892b"/>
<circle cx="1075" cy="712" r="2.4" fill="#e5892b"/>
<text transform="translate(932.9,703.0) rotate(90)" font-size="9.7" fill="#e5892b">CD3E</text>
<text transform="translate(919.0,703.0) rotate(90)" font-size="9.7" fill="#e5892b">CD3G</text>
<text transform="translate(905.1,702.0) rotate(90)" font-size="9.7" fill="#e5892b">ITM2A</text>
<text transform="translate(1097.8,672.3) rotate(90)" font-size="9.7" fill="#e5892b">S100A12</text>
<text transform="translate(1082.5,672.3) rotate(90)" font-size="9.7" fill="#e5892b">CLEC4E</text>
<text transform="translate(1068.5,672.3) rotate(90)" font-size="9.7" fill="#e5892b">RETN</text>
<path d="M958.2 756.3h0M942.9 760.2h0M919.8 754.7h0M932.3 755.7h0M945.7 758.2h0M931.9 759.5h0M967.4 760.4h0M948.8 759.4h0M918.9 756.1h0M940.2 754.5h0M952.8 755.4h0M964.3 753.0h0M930.2 755.4h0M923.5 752.1h0M952.5 754.3h0M923.2 757.0h0M962.3 758.3h0M949.7 754.4h0M965.2 760.3h0M959.5 757.4h0M928.4 755.3h0M936.8 757.1h0M923.6 752.8h0M945.8 752.9h0M924.7 755.8h0M940.1 759.1h0M969.0 758.1h0M950.8 755.9h0M948.7 755.3h0M963.0 757.3h0M929.1 754.9h0M961.6 752.2h0M969.6 760.2h0M943.2 754.2h0M929.5 754.3h0M955.2 758.1h0M942.9 755.1h0M938.7 752.7h0M936.3 757.7h0M916.9 758.6h0M917.0 754.6h0M931.8 756.1h0M930.1 756.6h0M918.3 758.3h0M965.7 761.3h0M953.7 753.1h0M949.7 757.3h0M959.1 756.6h0M958.5 755.0h0M917.7 752.3h0M969.6 755.6h0M923.3 752.5h0M967.5 760.7h0M939.6 751.9h0M959.3 751.8h0M956.5 756.1h0M935.4 751.5h0M951.7 760.4h0M940.3 759.6h0M926.0 754.0h0M939.2 753.2h0M969.4 757.6h0M916.0 756.1h0M924.0 754.1h0M960.1 755.4h0M930.4 758.8h0M930.2 759.6h0M917.8 751.6h0M969.7 758.8h0M945.9 759.2h0M932.0 759.0h0M931.1 758.9h0M942.8 760.0h0M968.0 760.7h0M923.8 755.0h0M965.3 756.7h0M927.3 755.2h0M923.2 751.8h0M947.8 751.7h0M937.9 754.3h0M959.1 755.6h0M939.8 757.4h0M925.1 755.2h0M926.5 754.6h0M959.6 761.6h0M967.4 760.6h0M918.2 754.5h0M935.8 754.8h0M941.0 757.8h0M916.3 755.7h0M919.0 757.2h0M966.4 759.1h0M957.8 761.9h0M965.4 755.0h0M949.0 756.3h0M944.0 755.6h0M916.9 753.7h0M917.5 758.2h0M958.6 752.4h0M950.6 760.4h0M950.0 758.1h0M942.1 755.2h0M934.1 752.1h0M932.5 753.2h0M939.1 754.9h0M932.6 760.2h0M928.4 754.6h0M960.4 755.6h0M918.7 755.6h0M934.5 758.5h0M933.9 754.3h0M943.6 757.5h0M922.9 751.7h0M957.3 754.3h0M966.5 760.7h0M944.8 752.3h0M930.0 751.4h0M947.5 757.1h0M955.2 755.4h0M964.9 761.3h0M953.2 756.8h0M966.1 757.4h0M916.2 758.1h0M920.8 754.1h0M935.9 759.2h0M948.5 757.0h0M969.4 761.7h0M950.8 755.9h0M928.4 758.9h0M954.0 760.9h0M938.1 760.2h0M920.1 753.4h0M967.0 760.3h0M925.6 754.2h0M927.9 756.7h0M953.3 757.8h0M937.5 752.0h0M933.9 759.7h0M955.8 757.8h0M947.7 755.4h0M917.1 752.7h0M932.8 751.4h0M935.1 754.2h0M1004.1 773.0h0M1015.9 776.2h0M1019.7 777.3h0M1001.3 773.0h0M1012.8 771.2h0M1013.7 781.1h0M1014.3 777.9h0M1017.7 770.3h0M1008.9 773.4h0M996.8 771.6h0M992.4 774.5h0M994.1 771.0h0M994.0 778.4h0M998.5 773.7h0M991.6 769.6h0M1004.2 768.3h0M1019.2 778.2h0M992.1 771.5h0M994.9 771.7h0M1015.7 772.3h0M1017.6 776.0h0M1011.0 780.9h0M996.5 775.6h0M1020.3 776.6h0M998.4 776.5h0M1005.6 768.7h0M1019.9 772.2h0M1014.8 771.8h0M1005.5 774.5h0M999.7 774.2h0M1022.7 774.8h0M1010.6 780.3h0M995.7 777.3h0M1020.5 778.1h0M992.4 769.4h0M998.3 773.3h0M997.5 778.2h0M1022.0 771.8h0M1017.2 775.2h0M1007.6 774.0h0M1002.5 773.9h0M1009.8 772.7h0M998.3 771.6h0M997.0 774.5h0M1008.6 777.6h0M1011.5 776.7h0M998.3 772.2h0M994.3 776.1h0M1020.3 778.5h0M1007.2 772.3h0M1008.4 778.0h0M1006.9 775.5h0M993.5 769.0h0M1008.7 779.3h0M1000.0 773.5h0M1001.5 769.0h0M1000.3 775.6h0M1002.9 773.3h0M1007.8 775.8h0M1010.7 777.4h0M1019.5 778.2h0M1009.1 779.7h0M1005.2 774.6h0M993.6 774.0h0M1009.7 780.1h0M993.2 769.2h0M1015.3 779.2h0M1012.5 772.2h0M1020.5 777.3h0M1018.0 780.1h0M1012.2 775.4h0M1012.1 770.8h0M1015.0 780.9h0M1010.6 776.8h0M1014.8 777.7h0M995.5 776.7h0M1016.3 772.8h0M1008.7 770.0h0M998.9 771.7h0M1006.8 777.8h0M1021.2 779.8h0M1001.2 771.5h0M994.0 773.0h0M1003.2 774.7h0M1004.4 776.0h0M1015.3 774.8h0M1006.8 776.6h0M997.3 774.5h0M994.5 770.2h0M1005.2 774.2h0M1003.4 778.4h0M999.7 777.0h0M1014.2 772.1h0M1000.0 776.0h0M1009.2 776.1h0M1018.6 772.2h0M996.8 778.8h0M1000.9 774.9h0M1000.0 768.9h0M1017.1 779.1h0M1000.3 768.6h0M1015.6 773.2h0M1015.4 772.8h0M1022.7 772.6h0M1001.7 770.3h0M1011.0 778.5h0M995.0 773.2h0M1107.1 780.7h0M1083.0 789.3h0M1034.0 794.0h0M1092.1 782.6h0M1023.9 773.1h0M1098.9 785.4h0M1059.8 781.2h0M1001.1 774.9h0M1007.4 794.1h0M1107.7 781.2h0M1071.7 786.0h0M1112.0 796.4h0M1015.3 795.3h0M1070.8 779.7h0M1090.7 771.0h0M1093.4 793.6h0M1009.8 777.2h0M1113.1 795.5h0M1071.0 795.9h0M1009.5 781.1h0M1097.9 771.3h0M1038.0 774.0h0M1067.8 796.7h0M1056.6 792.4h0M921.6 749.7h0M944.2 751.9h0M926.2 748.6h0" stroke="#c8c8c8" stroke-width="4.0" stroke-linecap="round" fill="none"/>
<line x1="883.5" y1="739.6" x2="1156.5" y2="739.6" stroke="#808080" stroke-width="1.3"/>
<line x1="883.5" y1="804.9" x2="1156.5" y2="804.9" stroke="#dadada" stroke-width="1"/>
<line x1="883.5" y1="739.6" x2="883.5" y2="804.9" stroke="#555" stroke-width="1"/>
<line x1="969.6" y1="739.6" x2="969.6" y2="804.9" stroke="#5a5a5a" stroke-width="1.8" stroke-dasharray="6.5,4"/>
<line x1="991.6" y1="739.6" x2="991.6" y2="804.9" stroke="#5a5a5a" stroke-width="1.8" stroke-dasharray="6.5,4"/>
<line x1="881.0" y1="753.2" x2="883.5" y2="753.2" stroke="#444" stroke-width="0.8"/>
<text transform="translate(872.0,751.7) rotate(58)" font-size="7.6" text-anchor="middle" fill="#555">-0.5</text>
<line x1="881.0" y1="769.6" x2="883.5" y2="769.6" stroke="#444" stroke-width="0.8"/>
<text transform="translate(872.0,768.1) rotate(58)" font-size="7.6" text-anchor="middle" fill="#555">0.0</text>
<line x1="881.0" y1="786.0" x2="883.5" y2="786.0" stroke="#444" stroke-width="0.8"/>
<text transform="translate(872.0,784.5) rotate(58)" font-size="7.6" text-anchor="middle" fill="#555">0.5</text>
<line x1="881.0" y1="802.4" x2="883.5" y2="802.4" stroke="#444" stroke-width="0.8"/>
<text transform="translate(872.0,800.9) rotate(58)" font-size="7.6" text-anchor="middle" fill="#555">1.0</text>
<rect x="1157.6" y="739.6" width="14.5" height="65.3" fill="#c33b24"/>
<text transform="translate(1162.8,772.2) rotate(90)" font-size="6.3" text-anchor="middle" fill="#2a120c">Mast cells</text>
<line x1="902.5" y1="758.7" x2="897" y2="773" stroke="#e2439a" stroke-width="0.8"/>
<line x1="908.6" y1="760.2" x2="911" y2="773" stroke="#e2439a" stroke-width="0.8"/>
<line x1="1119.9" y1="783.3" x2="1121" y2="768" stroke="#e2439a" stroke-width="0.8"/>
<line x1="1143" y1="789.5" x2="1144" y2="768" stroke="#e2439a" stroke-width="0.8"/>
<line x1="1116.2" y1="801.8" x2="1108" y2="783" stroke="#e2439a" stroke-width="0.8"/>
<circle cx="902.5" cy="758.7" r="2.4" fill="#e2439a"/>
<circle cx="908.6" cy="760.2" r="2.4" fill="#e2439a"/>
<circle cx="1119.9" cy="783.3" r="2.4" fill="#e2439a"/>
<circle cx="1143" cy="789.5" r="2.4" fill="#e2439a"/>
<circle cx="1116.2" cy="801.8" r="2.4" fill="#e2439a"/>
<text transform="translate(893.7,774.0) rotate(90)" font-size="9.7" fill="#e2439a">PERP</text>
<text transform="translate(907.3,774.0) rotate(90)" font-size="9.7" fill="#e2439a">CD3G</text>
<text transform="translate(923.6,749.4) rotate(90)" font-size="9.7" fill="#e2439a">LGALS3BP</text>
<text transform="translate(1141.0,743.3) rotate(90)" font-size="9.7" fill="#e2439a">CTSG</text>
<text transform="translate(1118.8,743.3) rotate(90)" font-size="9.7" fill="#e2439a">HDC</text>
<text transform="translate(1105.5,743.3) rotate(90)" font-size="9.7" fill="#e2439a">TPSAB1</text>
<path d="M939.3 829.5h0M933.0 822.7h0M941.2 825.4h0M960.9 828.9h0M961.4 828.5h0M962.7 827.3h0M953.3 826.3h0M945.3 823.4h0M964.1 827.4h0M967.5 831.5h0M932.5 828.0h0M963.6 830.2h0M939.2 828.8h0M940.1 829.5h0M964.8 824.4h0M942.4 830.6h0M961.7 825.8h0M945.6 830.4h0M928.6 821.3h0M957.8 827.0h0M955.2 827.0h0M949.0 828.6h0M958.9 824.2h0M952.6 832.4h0M968.3 824.9h0M950.0 824.1h0M969.6 827.1h0M966.0 828.3h0M966.7 824.7h0M950.1 828.1h0M945.4 824.5h0M962.6 824.4h0M963.1 833.4h0M962.6 830.5h0M945.2 826.2h0M938.3 823.4h0M950.0 822.6h0M928.0 825.4h0M968.5 832.2h0M931.5 821.3h0M930.6 825.1h0M959.6 828.0h0M930.1 827.9h0M960.8 825.1h0M964.2 834.0h0M940.6 826.3h0M928.2 822.8h0M936.5 829.1h0M958.7 825.7h0M959.1 824.3h0M930.7 823.7h0M962.7 833.8h0M940.6 823.8h0M946.5 825.6h0M957.1 827.9h0M938.2 823.5h0M951.4 823.0h0M935.3 822.4h0M936.3 821.2h0M950.1 828.5h0M940.3 829.8h0M940.7 825.8h0M955.0 829.3h0M967.2 824.3h0M931.5 820.9h0M932.3 823.5h0M950.9 830.0h0M964.1 830.2h0M950.4 826.7h0M937.0 822.8h0M943.0 822.5h0M954.3 825.1h0M968.5 827.8h0M959.8 825.9h0M937.6 824.8h0M950.5 832.0h0M935.2 820.9h0M931.5 827.5h0M930.9 828.0h0M935.7 828.7h0M942.6 829.9h0M947.1 825.4h0M928.4 823.3h0M947.1 831.0h0M949.7 830.6h0M946.9 827.9h0M953.5 823.7h0M952.7 829.7h0M945.5 823.4h0M934.9 824.3h0M968.1 829.3h0M938.1 825.3h0M959.2 832.3h0M933.2 824.4h0M930.2 822.8h0M947.3 823.7h0M933.4 827.3h0M937.0 827.6h0M933.9 822.0h0M936.1 827.9h0M931.7 822.1h0M953.7 827.1h0M965.0 826.9h0M930.0 826.0h0M945.1 826.7h0M936.0 829.0h0M960.8 825.9h0M943.2 822.6h0M968.9 825.5h0M945.0 823.6h0M948.2 827.9h0M938.7 826.3h0M956.1 825.2h0M969.2 828.5h0M951.8 832.1h0M940.9 821.2h0M938.3 821.9h0M995.8 855.1h0M1026.4 847.2h0M1012.2 848.2h0M997.4 843.2h0M992.0 854.8h0M1015.9 851.7h0M1036.8 856.4h0M1016.9 855.6h0M1020.1 848.9h0M1032.9 847.0h0M1022.9 846.4h0M1019.1 845.9h0M1019.8 849.2h0M1028.7 850.4h0M996.8 849.5h0M1013.5 855.0h0M1026.0 844.3h0M1023.4 843.8h0M1041.0 857.3h0M1022.8 850.0h0M993.8 843.3h0M1007.3 843.5h0M1044.7 852.4h0M1019.0 847.0h0M1037.4 848.2h0M1044.5 850.7h0M1005.2 848.1h0M1008.2 842.1h0M1034.5 846.7h0M1006.8 840.4h0M993.8 844.7h0M1021.9 843.2h0M1015.6 848.4h0M1044.7 865.3h0M1023.7 856.6h0M993.2 847.7h0M1040.4 862.6h0M1030.2 858.8h0M1042.8 858.1h0M1000.6 851.7h0M1004.3 856.3h0M1002.4 855.5h0M1026.9 856.2h0M1002.8 848.1h0M1019.7 861.0h0M1029.4 858.3h0M1045.5 855.7h0M1025.6 854.1h0M1014.7 847.7h0M1010.4 842.5h0M1042.8 851.9h0M1037.5 852.6h0M1009.0 841.4h0M1018.2 846.3h0M1011.4 855.4h0M1042.6 848.4h0M1030.3 861.2h0M1037.8 861.2h0M1033.7 854.6h0M993.7 841.3h0M1034.9 852.9h0M1017.1 855.1h0M1013.3 846.4h0M1006.8 857.4h0M1016.1 855.9h0M1028.6 850.9h0M1013.2 850.8h0M1019.5 853.7h0M1002.6 847.6h0M1032.0 850.2h0M1014.8 856.0h0M1026.9 854.8h0M996.3 850.8h0M1032.0 847.3h0M1000.8 855.8h0M1016.3 856.9h0M994.5 854.7h0M1023.6 847.7h0M1029.0 854.2h0M1003.8 858.2h0M992.7 843.5h0M1037.5 862.3h0M1000.9 857.0h0M996.3 844.8h0M1034.7 848.4h0M1010.1 848.4h0M1018.9 849.5h0M1004.9 848.3h0M1015.8 854.0h0M997.3 839.0h0M1033.5 857.0h0M1029.9 856.6h0M994.3 840.3h0M1041.5 856.5h0M1010.4 854.9h0M1003.3 857.6h0M1029.4 849.0h0M1032.5 854.6h0M1006.3 842.7h0M1000.0 848.6h0M1014.6 858.7h0M1009.6 851.5h0M1038.0 860.3h0M1027.0 860.4h0M1026.8 859.4h0M1028.1 848.2h0M1024.4 857.4h0M1029.0 852.4h0M992.4 848.3h0M1035.7 862.0h0M1024.1 852.6h0M1003.1 843.1h0M1035.8 846.5h0M1015.1 847.2h0M1013.1 859.9h0M994.7 851.6h0M1031.0 846.0h0M1002.0 844.5h0M1000.5 846.2h0M1035.3 863.7h0M1022.1 851.5h0M1023.6 849.2h0M1021.5 848.7h0M1018.3 850.5h0M1021.5 853.6h0M1024.4 851.2h0M1010.5 848.3h0M1019.9 843.7h0M1026.2 856.0h0M1002.8 856.3h0M1027.8 859.8h0M1014.6 859.5h0M1005.0 849.8h0M1020.4 848.5h0M1017.2 859.8h0M992.1 851.3h0M999.6 848.9h0M1029.5 854.2h0M1036.6 860.6h0M992.4 841.8h0M1031.3 858.0h0M1019.1 843.5h0M1000.9 845.0h0M1019.4 856.1h0M1004.8 851.9h0M1026.4 850.9h0M1038.0 850.5h0M1033.5 849.8h0M1032.9 853.6h0M1009.0 856.2h0M1011.7 855.7h0M1018.3 843.6h0M1007.6 844.5h0M998.3 838.8h0M1023.1 852.6h0M1028.9 851.2h0M992.6 853.6h0M1032.1 860.5h0M1014.7 846.5h0M1042.3 848.7h0M1021.1 845.2h0M1007.6 857.8h0M1039.5 855.9h0M995.4 847.6h0M1040.8 862.5h0M994.4 842.6h0M1017.9 843.4h0M1011.7 851.7h0M1005.5 854.2h0M1043.3 852.3h0M1019.3 855.9h0M1000.0 848.6h0M1022.4 858.7h0M1023.0 859.7h0M1030.4 847.4h0M1032.7 854.3h0M1021.7 852.1h0M1022.9 851.0h0M1014.3 857.7h0M1002.2 846.1h0M1011.3 841.1h0M996.0 846.8h0M1045.4 858.0h0M1004.6 840.5h0M1006.6 857.9h0M1007.7 856.1h0M1024.3 845.4h0M1041.0 855.1h0M993.0 854.2h0M1025.0 845.5h0M1013.2 849.4h0M1003.0 851.1h0M1038.0 858.4h0M1001.7 857.5h0M1025.0 846.7h0M1037.7 863.4h0M1036.6 864.0h0M1020.3 843.9h0M1041.0 859.2h0M1045.7 865.8h0M1027.7 846.2h0M1040.1 848.4h0M1013.8 849.4h0M1000.0 844.9h0M1030.7 847.7h0M1028.2 848.1h0M998.8 856.1h0M1004.6 839.8h0M1025.0 853.3h0M1022.0 860.9h0M1007.0 850.7h0M1035.7 849.7h0M1024.8 849.4h0M1043.1 848.2h0M1001.6 853.0h0M995.9 850.4h0M1009.9 852.9h0M1026.3 856.9h0M1042.3 850.3h0M994.1 843.5h0M993.6 844.6h0M1044.8 851.7h0M1011.7 841.8h0M1030.4 852.5h0M1020.0 860.1h0M1006.1 851.8h0M1004.5 857.2h0M1045.3 854.5h0M1042.4 850.4h0M993.3 845.0h0M1008.2 844.2h0M1008.3 844.6h0M1009.8 854.0h0M1003.6 850.3h0M1037.6 855.5h0M996.4 842.7h0M997.9 843.8h0M1030.7 857.7h0M1015.9 842.9h0M1022.5 860.8h0M1015.7 852.1h0M1021.3 851.6h0M1043.1 848.7h0M1014.3 859.1h0M996.5 855.6h0M1021.7 851.4h0M1041.4 864.6h0M998.8 842.9h0M994.4 844.1h0M1020.9 849.4h0M1026.8 844.6h0M992.8 845.8h0M1008.1 848.2h0M1026.1 854.4h0M993.5 839.0h0M992.2 851.5h0M1042.8 862.5h0M1015.7 856.2h0M1022.8 844.8h0M995.3 852.2h0M1019.5 854.6h0M1012.1 846.4h0M1003.0 848.8h0M1016.6 852.2h0M1017.0 855.9h0M995.7 854.9h0M1001.8 846.9h0M1005.7 840.1h0M994.6 837.7h0M1018.5 845.0h0M1026.3 854.5h0M1039.3 851.0h0M1006.8 853.3h0M1034.5 860.8h0M1041.4 862.5h0M991.6 846.7h0M1027.7 861.1h0M1016.6 847.5h0M995.2 841.6h0M996.8 846.8h0M998.7 854.3h0M999.0 850.1h0M1007.6 845.8h0M1001.4 847.1h0M1035.0 860.9h0M1019.8 857.4h0M1011.2 864.3h0M998.9 862.1h0M1035.5 860.9h0M1012.2 857.5h0M1030.1 862.1h0M1003.4 858.6h0M1036.5 855.6h0M1040.4 861.7h0M936.1 821.7h0M940.2 820.2h0M944.1 817.7h0" stroke="#c8c8c8" stroke-width="4.0" stroke-linecap="round" fill="none"/>
<line x1="883.5" y1="809.6" x2="1156.5" y2="809.6" stroke="#808080" stroke-width="1.3"/>
<line x1="883.5" y1="874.9" x2="1156.5" y2="874.9" stroke="#dadada" stroke-width="1"/>
<line x1="883.5" y1="809.6" x2="883.5" y2="874.9" stroke="#555" stroke-width="1"/>
<line x1="969.6" y1="809.6" x2="969.6" y2="874.9" stroke="#5a5a5a" stroke-width="1.8" stroke-dasharray="6.5,4"/>
<line x1="991.6" y1="809.6" x2="991.6" y2="874.9" stroke="#5a5a5a" stroke-width="1.8" stroke-dasharray="6.5,4"/>
<line x1="881.0" y1="823.2" x2="883.5" y2="823.2" stroke="#444" stroke-width="0.8"/>
<text transform="translate(872.0,821.7) rotate(58)" font-size="7.6" text-anchor="middle" fill="#555">-0.5</text>
<line x1="881.0" y1="839.6" x2="883.5" y2="839.6" stroke="#444" stroke-width="0.8"/>
<text transform="translate(872.0,838.1) rotate(58)" font-size="7.6" text-anchor="middle" fill="#555">0.0</text>
<line x1="881.0" y1="856.0" x2="883.5" y2="856.0" stroke="#444" stroke-width="0.8"/>
<text transform="translate(872.0,854.5) rotate(58)" font-size="7.6" text-anchor="middle" fill="#555">0.5</text>
<line x1="881.0" y1="872.4" x2="883.5" y2="872.4" stroke="#444" stroke-width="0.8"/>
<text transform="translate(872.0,870.9) rotate(58)" font-size="7.6" text-anchor="middle" fill="#555">1.0</text>
<rect x="1157.6" y="809.6" width="14.5" height="65.3" fill="#c33b24"/>
<text transform="translate(1162.8,842.2) rotate(90)" font-size="6.3" text-anchor="middle" fill="#2a120c">NK/T cells</text>
<line x1="919.4" y1="827.4" x2="903" y2="848" stroke="#c0392b" stroke-width="0.8"/>
<line x1="919.4" y1="827.4" x2="916" y2="839" stroke="#c0392b" stroke-width="0.8"/>
<line x1="926.2" y1="829" x2="930" y2="839" stroke="#c0392b" stroke-width="0.8"/>
<line x1="1050.5" y1="855.8" x2="1083" y2="845" stroke="#c0392b" stroke-width="0.8"/>
<line x1="1049.5" y1="848.1" x2="1058" y2="845" stroke="#c0392b" stroke-width="0.8"/>
<circle cx="919.4" cy="827.4" r="2.4" fill="#c0392b"/>
<circle cx="926.2" cy="829" r="2.4" fill="#c0392b"/>
<circle cx="1049.5" cy="848.1" r="2.4" fill="#c0392b"/>
<circle cx="1050.5" cy="855.8" r="2.4" fill="#c0392b"/>
<text transform="translate(899.0,848.0) rotate(90)" font-size="9.7" fill="#c0392b">LYZ</text>
<text transform="translate(912.8,839.0) rotate(90)" font-size="9.7" fill="#c0392b">MEF2C</text>
<text transform="translate(926.7,839.0) rotate(90)" font-size="9.7" fill="#c0392b">GSN</text>
<text transform="translate(1080.9,814.2) rotate(90)" font-size="9.7" fill="#c0392b">CD160</text>
<text transform="translate(1054.7,814.2) rotate(90)" font-size="9.7" fill="#c0392b">KLRC2</text>
<text transform="translate(1038.0,814.2) rotate(90)" font-size="9.7" fill="#c0392b">KIR2DL4</text>
<path d="M936.6 898.1h0M955.4 907.1h0M922.0 899.3h0M941.5 902.3h0M940.4 903.3h0M969.5 895.9h0M927.3 901.4h0M951.9 904.6h0M944.5 905.7h0M969.4 907.4h0M938.1 906.4h0M948.3 904.9h0M960.6 895.0h0M969.9 906.0h0M952.5 903.9h0M937.6 902.0h0M937.7 899.5h0M940.1 900.5h0M960.4 900.7h0M926.3 903.6h0M955.1 906.7h0M952.8 895.4h0M925.2 905.0h0M952.9 900.6h0M964.2 895.6h0M961.0 897.6h0M920.3 903.9h0M962.4 894.7h0M953.7 907.1h0M963.7 902.4h0M961.8 905.7h0M945.6 906.0h0M928.1 899.0h0M938.6 905.2h0M924.3 900.0h0M944.2 906.7h0M945.3 906.8h0M923.9 900.5h0M925.9 898.9h0M963.6 899.3h0M941.9 901.4h0M920.3 905.0h0M950.4 906.7h0M925.8 902.4h0M959.0 904.6h0M939.8 904.7h0M965.2 904.2h0M957.3 897.4h0M949.5 903.5h0M929.4 903.3h0M925.1 903.5h0M938.9 896.6h0M935.4 904.1h0M938.7 901.6h0M942.4 896.8h0M943.2 900.9h0M956.7 898.2h0M920.3 903.8h0M955.6 895.4h0M928.7 904.1h0M935.5 899.6h0M949.5 906.1h0M953.0 895.7h0M939.6 906.4h0M951.6 902.7h0M953.5 904.4h0M920.9 904.1h0M928.5 901.1h0M931.1 897.3h0M927.1 901.3h0M955.8 900.2h0M940.5 905.1h0M950.3 903.5h0M949.6 898.8h0M967.3 898.6h0M929.7 905.0h0M941.9 904.1h0M944.4 898.5h0M938.6 900.0h0M941.2 900.5h0M919.5 899.4h0M954.5 901.4h0M931.5 903.9h0M930.8 904.9h0M969.1 902.4h0M940.5 905.6h0M951.7 896.2h0M946.9 905.5h0M957.4 905.3h0M932.8 905.1h0M957.7 899.7h0M959.6 900.4h0M930.1 902.5h0M960.2 905.1h0M959.8 907.8h0M958.6 907.4h0M940.9 899.4h0M936.2 900.1h0M938.4 901.3h0M923.2 901.9h0M949.1 899.7h0M932.2 905.9h0M959.4 905.6h0M955.0 896.1h0M934.1 903.6h0M959.0 897.1h0M949.5 904.4h0M961.5 896.2h0M958.4 902.5h0M967.8 894.9h0M956.2 907.2h0M960.8 897.9h0M940.9 906.3h0M948.2 901.0h0M939.0 901.4h0M923.1 900.5h0M964.5 906.6h0M928.3 903.0h0M965.0 897.2h0M935.8 902.1h0M933.2 903.1h0M958.4 899.9h0M962.4 908.3h0M929.4 903.0h0M924.8 903.1h0M921.6 900.5h0M957.2 903.5h0M939.4 898.0h0M960.2 902.4h0M929.9 904.6h0M956.3 903.7h0M940.8 904.0h0M925.5 899.3h0M953.2 900.7h0M934.0 896.9h0M929.2 903.8h0M921.5 902.4h0M939.0 900.5h0M937.2 905.9h0M968.2 901.2h0M960.2 901.7h0M961.1 907.8h0M935.5 902.3h0M933.8 903.6h0M931.6 904.6h0M966.8 896.5h0M953.1 895.9h0M920.2 898.5h0M943.6 905.3h0M923.3 904.6h0M941.3 898.4h0M952.6 905.2h0M942.7 901.1h0M962.6 907.1h0M925.9 902.5h0M967.7 907.2h0M925.7 905.2h0M1015.5 925.0h0M1005.2 924.3h0M1019.1 918.2h0M1010.7 915.1h0M1017.6 921.8h0M1001.5 919.2h0M1024.3 919.0h0M1007.5 917.4h0M1021.6 918.2h0M1027.1 924.1h0M1027.9 919.9h0M1004.3 916.3h0M1018.6 916.6h0M994.4 921.0h0M1020.9 925.5h0M1014.3 917.8h0M1000.5 921.6h0M997.9 915.1h0M1020.9 925.3h0M999.9 915.4h0M1026.9 919.4h0M1015.7 925.3h0M994.0 914.1h0M1011.5 916.9h0M1027.7 922.4h0M1025.2 924.2h0M1001.0 915.8h0M1010.5 919.4h0M1025.7 919.6h0M1002.5 916.9h0M1019.0 923.3h0M1012.9 916.9h0M1014.1 921.0h0M1020.8 919.8h0M1002.6 922.2h0M991.3 921.3h0M1019.5 924.2h0M1007.5 917.1h0M1002.5 919.8h0M996.5 922.2h0M1023.4 920.4h0M1021.0 925.3h0M1023.5 926.8h0M991.1 920.3h0M1022.3 926.4h0M1016.6 917.4h0M1014.2 921.4h0M999.8 914.9h0M1021.0 923.3h0M996.8 917.0h0M1003.4 923.9h0M1015.3 918.1h0M1001.2 922.6h0M1011.9 920.8h0M1010.9 916.7h0M991.9 917.3h0M999.1 922.2h0M1008.8 918.2h0M1025.2 923.8h0M1020.7 924.3h0M1016.8 924.1h0M1004.5 919.3h0M1001.5 922.1h0M1006.2 918.1h0M1016.0 915.9h0M991.8 920.9h0M997.2 918.9h0M1005.7 918.8h0M999.8 919.7h0M992.5 914.6h0M1020.9 923.8h0M1011.7 917.5h0M991.3 913.3h0M1026.0 927.3h0M1004.4 920.7h0M1007.1 922.8h0M1006.7 923.1h0M992.2 920.0h0M1005.2 924.1h0M998.7 914.4h0M1013.2 920.1h0M997.7 914.4h0M1005.7 922.1h0M1011.9 922.0h0M998.0 919.1h0M991.5 912.1h0M992.8 913.4h0M1023.3 926.5h0M1011.0 918.0h0M1005.3 922.0h0M1013.6 920.0h0M1014.9 920.8h0M1026.0 918.7h0M1018.9 916.4h0M1024.9 925.6h0M1025.2 918.6h0M1017.3 918.9h0M1007.7 921.5h0M1005.8 924.1h0M994.2 916.2h0M996.3 922.0h0M1013.3 921.8h0M1008.5 917.7h0M991.3 916.1h0M1004.7 918.4h0M1015.5 917.8h0M998.6 914.3h0M1020.1 926.6h0M1035.9 918.5h0M1036.0 922.2h0M1047.8 935.6h0M1036.2 919.3h0M1059.8 915.3h0M1060.3 936.9h0M1056.2 917.0h0M1047.9 932.3h0M1046.6 918.6h0M1050.8 931.3h0M1052.0 916.8h0M1032.3 920.1h0M946.3 890.5h0M954.6 889.4h0M949.9 888.2h0" stroke="#c8c8c8" stroke-width="4.0" stroke-linecap="round" fill="none"/>
<line x1="883.5" y1="879.9" x2="1156.5" y2="879.9" stroke="#808080" stroke-width="1.3"/>
<line x1="883.5" y1="945.1999999999999" x2="1156.5" y2="945.1999999999999" stroke="#dadada" stroke-width="1"/>
<line x1="883.5" y1="879.9" x2="883.5" y2="945.1999999999999" stroke="#555" stroke-width="1"/>
<line x1="969.6" y1="879.9" x2="969.6" y2="945.1999999999999" stroke="#5a5a5a" stroke-width="1.8" stroke-dasharray="6.5,4"/>
<line x1="991.6" y1="879.9" x2="991.6" y2="945.1999999999999" stroke="#5a5a5a" stroke-width="1.8" stroke-dasharray="6.5,4"/>
<line x1="881.0" y1="893.5" x2="883.5" y2="893.5" stroke="#444" stroke-width="0.8"/>
<text transform="translate(872.0,892.0) rotate(58)" font-size="7.6" text-anchor="middle" fill="#555">-0.5</text>
<line x1="881.0" y1="909.9" x2="883.5" y2="909.9" stroke="#444" stroke-width="0.8"/>
<text transform="translate(872.0,908.4) rotate(58)" font-size="7.6" text-anchor="middle" fill="#555">0.0</text>
<line x1="881.0" y1="926.3" x2="883.5" y2="926.3" stroke="#444" stroke-width="0.8"/>
<text transform="translate(872.0,924.8) rotate(58)" font-size="7.6" text-anchor="middle" fill="#555">0.5</text>
<line x1="881.0" y1="942.7" x2="883.5" y2="942.7" stroke="#444" stroke-width="0.8"/>
<text transform="translate(872.0,941.2) rotate(58)" font-size="7.6" text-anchor="middle" fill="#555">1.0</text>
<rect x="1157.6" y="879.9" width="14.5" height="65.3" fill="#c33b24"/>
<text transform="translate(1162.8,912.5) rotate(90)" font-size="6.3" text-anchor="middle" fill="#2a120c">Plasma cells</text>
<line x1="919.4" y1="902" x2="910" y2="915" stroke="#f8cd8a" stroke-width="0.8"/>
<line x1="919.4" y1="902" x2="924" y2="906" stroke="#f8cd8a" stroke-width="0.8"/>
<circle cx="894.8" cy="897.4" r="2.4" fill="#f8cd8a"/>
<circle cx="919.4" cy="902" r="2.4" fill="#f8cd8a"/>
<circle cx="1064" cy="913" r="2.4" fill="#f8cd8a"/>
<circle cx="1067" cy="927" r="2.4" fill="#f8cd8a"/>
<circle cx="1104" cy="920" r="2.4" fill="#f8cd8a"/>
<text transform="translate(891.3,909.8) rotate(90)" font-size="9.7" fill="#f8cd8a">TPM1</text>
<text transform="translate(906.7,915.8) rotate(90)" font-size="9.7" fill="#f8cd8a">NBL1</text>
<text transform="translate(920.5,906.6) rotate(90)" font-size="9.7" fill="#f8cd8a">CST7</text>
<text transform="translate(1067.0,885.0) rotate(90)" font-size="9.7" fill="#f8cd8a">IGHG1</text>
<text transform="translate(1082.5,882.0) rotate(90)" font-size="9.7" fill="#f8cd8a">JCHAIN</text>
<text transform="translate(1104.0,882.0) rotate(90)" font-size="9.7" fill="#f8cd8a">IGLL5</text>
<path d="M934.2 966.5h0M956.5 976.3h0M940.3 968.7h0M929.2 967.9h0M939.9 967.3h0M950.7 970.2h0M927.2 971.9h0M943.7 969.8h0M964.0 969.5h0M961.2 967.6h0M967.6 967.1h0M964.0 977.4h0M940.0 971.4h0M953.6 974.9h0M937.0 972.4h0M943.6 966.2h0M955.3 975.8h0M944.7 970.0h0M949.1 975.9h0M953.3 974.5h0M959.5 966.2h0M953.8 976.4h0M953.4 968.3h0M950.2 976.0h0M942.9 968.6h0M967.8 974.6h0M940.4 969.8h0M926.8 966.9h0M962.3 974.7h0M955.4 976.5h0M939.7 974.9h0M956.8 966.2h0M946.2 973.5h0M948.3 969.0h0M968.4 971.4h0M940.2 971.2h0M938.1 969.2h0M955.2 966.2h0M930.5 967.6h0M938.4 970.2h0M928.9 973.5h0M927.9 966.7h0M957.3 969.9h0M935.6 971.2h0M924.5 967.9h0M946.4 975.7h0M943.1 973.1h0M953.2 966.7h0M951.8 974.3h0M966.3 972.8h0M948.3 972.4h0M963.6 975.5h0M964.6 977.3h0M942.1 974.8h0M953.1 975.8h0M955.5 973.1h0M958.3 971.2h0M956.7 976.2h0M932.1 971.3h0M952.1 972.8h0M960.9 970.1h0M926.9 968.5h0M966.8 974.9h0M968.0 972.9h0M966.7 970.4h0M949.9 973.7h0M940.7 967.5h0M930.9 970.7h0M937.1 969.6h0M964.6 975.2h0M926.9 970.6h0M947.3 968.5h0M933.6 967.3h0M959.5 976.1h0M943.6 974.4h0M939.0 966.6h0M962.8 970.5h0M940.4 969.8h0M969.0 968.0h0M928.3 970.5h0M960.3 966.2h0M947.0 975.6h0M946.3 967.8h0M939.1 973.3h0M942.7 971.0h0M936.0 974.1h0M949.4 973.5h0M936.7 971.2h0M924.7 970.7h0M946.4 968.6h0M931.9 971.7h0M955.6 975.4h0M956.9 976.5h0M941.5 966.1h0M947.9 969.4h0M951.6 971.4h0M968.7 977.8h0M957.9 969.7h0M939.1 968.2h0M931.7 970.3h0M955.4 970.9h0M946.7 969.4h0M940.4 974.7h0M941.4 966.2h0M951.9 971.9h0M927.2 970.3h0M960.6 969.0h0M939.6 972.1h0M951.8 975.4h0M936.4 969.9h0M932.0 974.7h0M941.2 973.6h0M949.3 967.0h0M965.5 968.7h0M925.1 973.6h0M936.6 966.5h0M929.9 971.7h0M956.5 971.1h0M945.4 968.7h0M965.7 967.0h0M928.2 973.1h0M964.1 974.5h0M969.8 976.9h0M939.6 967.3h0M951.6 966.6h0M945.1 966.7h0M960.9 966.4h0M961.3 976.4h0M993.2 986.3h0M992.4 982.8h0M992.5 985.3h0M993.7 986.5h0M1005.2 989.9h0M1008.7 994.3h0M1007.4 987.0h0M1004.2 993.7h0M1009.0 995.3h0M997.8 994.1h0M1000.2 993.0h0M992.0 987.5h0M1003.7 994.9h0M1004.0 986.7h0M999.3 989.6h0M993.4 984.1h0M1009.0 986.3h0M1004.1 982.7h0M995.2 981.1h0M998.4 983.2h0M991.1 992.2h0M997.5 983.4h0M993.5 981.6h0M996.9 986.8h0M992.6 988.0h0M993.4 989.3h0M995.1 988.2h0M1003.5 984.5h0M1006.8 991.5h0M996.8 985.8h0M998.8 994.6h0M1005.1 982.7h0M1006.1 989.9h0M1005.7 984.4h0M996.8 993.7h0M1006.6 991.0h0M1000.1 984.5h0M997.7 987.6h0M998.9 987.6h0M1003.2 994.6h0M1003.5 993.0h0M993.4 987.1h0M997.5 982.2h0M996.2 992.3h0M1009.0 989.2h0M992.6 987.0h0M993.8 985.6h0M992.9 987.8h0M996.2 984.3h0M994.9 983.4h0M1004.6 994.1h0M994.9 981.5h0M1001.1 985.5h0M993.3 990.0h0M1002.2 986.7h0M1007.5 989.9h0M1002.0 989.0h0M1005.2 995.5h0M994.1 987.2h0M1003.5 993.5h0M1005.7 983.0h0M993.6 990.9h0M996.6 992.9h0M1000.4 988.5h0M997.3 980.9h0M998.6 989.5h0M994.3 983.2h0M1001.1 989.4h0M1002.1 983.4h0M1005.2 988.3h0M1009.7 987.0h0M992.0 995.7h0M1008.6 988.3h0M999.2 993.2h0M1002.6 993.6h0M954.7 966.9h0M930.2 962.5h0M943.3 963.7h0" stroke="#c8c8c8" stroke-width="4.0" stroke-linecap="round" fill="none"/>
<line x1="883.5" y1="949.9" x2="1156.5" y2="949.9" stroke="#808080" stroke-width="1.3"/>
<line x1="883.5" y1="1015.1999999999999" x2="1156.5" y2="1015.1999999999999" stroke="#dadada" stroke-width="1"/>
<line x1="883.5" y1="949.9" x2="883.5" y2="1015.1999999999999" stroke="#555" stroke-width="1"/>
<line x1="969.6" y1="949.9" x2="969.6" y2="1015.1999999999999" stroke="#5a5a5a" stroke-width="1.8" stroke-dasharray="6.5,4"/>
<line x1="991.6" y1="949.9" x2="991.6" y2="1015.1999999999999" stroke="#5a5a5a" stroke-width="1.8" stroke-dasharray="6.5,4"/>
<line x1="881.0" y1="963.5" x2="883.5" y2="963.5" stroke="#444" stroke-width="0.8"/>
<text transform="translate(872.0,962.0) rotate(58)" font-size="7.6" text-anchor="middle" fill="#555">-0.5</text>
<line x1="881.0" y1="979.9" x2="883.5" y2="979.9" stroke="#444" stroke-width="0.8"/>
<text transform="translate(872.0,978.4) rotate(58)" font-size="7.6" text-anchor="middle" fill="#555">0.0</text>
<line x1="881.0" y1="996.3" x2="883.5" y2="996.3" stroke="#444" stroke-width="0.8"/>
<text transform="translate(872.0,994.8) rotate(58)" font-size="7.6" text-anchor="middle" fill="#555">0.5</text>
<line x1="881.0" y1="1012.7" x2="883.5" y2="1012.7" stroke="#444" stroke-width="0.8"/>
<text transform="translate(872.0,1011.2) rotate(58)" font-size="7.6" text-anchor="middle" fill="#555">1.0</text>
<rect x="1157.6" y="949.9" width="14.5" height="65.3" fill="#c33b24"/>
<text transform="translate(1162.8,982.5) rotate(90)" font-size="6.3" text-anchor="middle" fill="#2a120c">T cells</text>
<line x1="917.9" y1="974.5" x2="911" y2="980" stroke="#7776ba" stroke-width="0.8"/>
<line x1="922.5" y1="971.4" x2="924" y2="977" stroke="#7776ba" stroke-width="0.8"/>
<line x1="1019.6" y1="1000.7" x2="1030" y2="980" stroke="#7776ba" stroke-width="0.8"/>
<circle cx="922.5" cy="971.4" r="2.4" fill="#7776ba"/>
<circle cx="917.9" cy="974.5" r="2.4" fill="#7776ba"/>
<circle cx="1019.6" cy="986.9" r="2.4" fill="#7776ba"/>
<circle cx="1035" cy="989.3" r="2.4" fill="#7776ba"/>
<circle cx="1019.6" cy="1000.7" r="2.4" fill="#7776ba"/>
<text transform="translate(906.7,980.7) rotate(90)" font-size="9.7" fill="#7776ba">ZG16</text>
<text transform="translate(920.5,977.0) rotate(90)" font-size="9.7" fill="#7776ba">ALDH2</text>
<text transform="translate(936.0,967.0) rotate(90)" font-size="9.7" fill="#7776ba">CEACAM5</text>
<text transform="translate(1008.4,952.9) rotate(90)" font-size="9.7" fill="#7776ba">TNFRSF25</text>
<text transform="translate(1026.3,952.9) rotate(90)" font-size="9.7" fill="#7776ba">IL7R</text>
<text transform="translate(1040.8,952.9) rotate(90)" font-size="9.7" fill="#7776ba">CD40LG</text>
</g><g id="panelE">
<line x1="161.5" y1="834.7" x2="507.5" y2="834.7" stroke="#e8e8e8" stroke-width="0.9"/>
<line x1="161.5" y1="846.8" x2="507.5" y2="846.8" stroke="#e8e8e8" stroke-width="0.9"/>
<line x1="161.5" y1="858.9" x2="507.5" y2="858.9" stroke="#e8e8e8" stroke-width="0.9"/>
<line x1="161.5" y1="871.0" x2="507.5" y2="871.0" stroke="#e8e8e8" stroke-width="0.9"/>
<line x1="161.5" y1="883.0" x2="507.5" y2="883.0" stroke="#e8e8e8" stroke-width="0.9"/>
<line x1="161.5" y1="895.1" x2="507.5" y2="895.1" stroke="#e8e8e8" stroke-width="0.9"/>
<line x1="161.5" y1="907.2" x2="507.5" y2="907.2" stroke="#e8e8e8" stroke-width="0.9"/>
<line x1="161.5" y1="919.3" x2="507.5" y2="919.3" stroke="#e8e8e8" stroke-width="0.9"/>
<line x1="161.5" y1="931.4" x2="507.5" y2="931.4" stroke="#e8e8e8" stroke-width="0.9"/>
<line x1="161.5" y1="943.5" x2="507.5" y2="943.5" stroke="#e8e8e8" stroke-width="0.9"/>
<line x1="161.5" y1="955.6" x2="507.5" y2="955.6" stroke="#e8e8e8" stroke-width="0.9"/>
<line x1="161.5" y1="967.6" x2="507.5" y2="967.6" stroke="#e8e8e8" stroke-width="0.9"/>
<line x1="161.5" y1="979.7" x2="507.5" y2="979.7" stroke="#e8e8e8" stroke-width="0.9"/>
<line x1="161.5" y1="991.8" x2="507.5" y2="991.8" stroke="#e8e8e8" stroke-width="0.9"/>
<line x1="161.5" y1="1003.9" x2="507.5" y2="1003.9" stroke="#e8e8e8" stroke-width="0.9"/>
<line x1="161.5" y1="1016.0" x2="507.5" y2="1016.0" stroke="#e8e8e8" stroke-width="0.9"/>
<line x1="161.5" y1="1028.1" x2="507.5" y2="1028.1" stroke="#e8e8e8" stroke-width="0.9"/>
<line x1="161.5" y1="1040.2" x2="507.5" y2="1040.2" stroke="#e8e8e8" stroke-width="0.9"/>
<line x1="161.5" y1="1052.2" x2="507.5" y2="1052.2" stroke="#e8e8e8" stroke-width="0.9"/>
<line x1="161.5" y1="1064.3" x2="507.5" y2="1064.3" stroke="#e8e8e8" stroke-width="0.9"/>
<line x1="161.5" y1="1076.4" x2="507.5" y2="1076.4" stroke="#e8e8e8" stroke-width="0.9"/>
<line x1="161.5" y1="1088.5" x2="507.5" y2="1088.5" stroke="#e8e8e8" stroke-width="0.9"/>
<line x1="161.5" y1="1100.6" x2="507.5" y2="1100.6" stroke="#e8e8e8" stroke-width="0.9"/>
<line x1="161.5" y1="1112.7" x2="507.5" y2="1112.7" stroke="#e8e8e8" stroke-width="0.9"/>
<line x1="161.5" y1="1124.8" x2="507.5" y2="1124.8" stroke="#e8e8e8" stroke-width="0.9"/>
<line x1="161.5" y1="1136.9" x2="507.5" y2="1136.9" stroke="#e8e8e8" stroke-width="0.9"/>
<line x1="161.5" y1="1148.9" x2="507.5" y2="1148.9" stroke="#e8e8e8" stroke-width="0.9"/>
<line x1="161.5" y1="1161.0" x2="507.5" y2="1161.0" stroke="#e8e8e8" stroke-width="0.9"/>
<line x1="161.5" y1="1173.1" x2="507.5" y2="1173.1" stroke="#e8e8e8" stroke-width="0.9"/>
<line x1="161.5" y1="1185.2" x2="507.5" y2="1185.2" stroke="#e8e8e8" stroke-width="0.9"/>
<line x1="161.5" y1="1197.3" x2="507.5" y2="1197.3" stroke="#e8e8e8" stroke-width="0.9"/>
<line x1="161.5" y1="1209.4" x2="507.5" y2="1209.4" stroke="#e8e8e8" stroke-width="0.9"/>
<line x1="161.5" y1="1221.5" x2="507.5" y2="1221.5" stroke="#e8e8e8" stroke-width="0.9"/>
<line x1="161.5" y1="1233.5" x2="507.5" y2="1233.5" stroke="#e8e8e8" stroke-width="0.9"/>
<line x1="161.5" y1="1245.6" x2="507.5" y2="1245.6" stroke="#e8e8e8" stroke-width="0.9"/>
<line x1="161.5" y1="1257.7" x2="507.5" y2="1257.7" stroke="#e8e8e8" stroke-width="0.9"/>
<line x1="161.5" y1="1269.8" x2="507.5" y2="1269.8" stroke="#e8e8e8" stroke-width="0.9"/>
<line x1="161.5" y1="1281.9" x2="507.5" y2="1281.9" stroke="#e8e8e8" stroke-width="0.9"/>
<line x1="184.2" y1="827.8" x2="184.2" y2="1288.7" stroke="#e8e8e8" stroke-width="0.9"/>
<line x1="221.8" y1="827.8" x2="221.8" y2="1288.7" stroke="#e8e8e8" stroke-width="0.9"/>
<line x1="259.4" y1="827.8" x2="259.4" y2="1288.7" stroke="#e8e8e8" stroke-width="0.9"/>
<line x1="297.0" y1="827.8" x2="297.0" y2="1288.7" stroke="#e8e8e8" stroke-width="0.9"/>
<line x1="334.6" y1="827.8" x2="334.6" y2="1288.7" stroke="#e8e8e8" stroke-width="0.9"/>
<line x1="372.2" y1="827.8" x2="372.2" y2="1288.7" stroke="#e8e8e8" stroke-width="0.9"/>
<line x1="409.8" y1="827.8" x2="409.8" y2="1288.7" stroke="#e8e8e8" stroke-width="0.9"/>
<line x1="447.4" y1="827.8" x2="447.4" y2="1288.7" stroke="#e8e8e8" stroke-width="0.9"/>
<line x1="485.0" y1="827.8" x2="485.0" y2="1288.7" stroke="#e8e8e8" stroke-width="0.9"/>
<line x1="161.5" y1="827.8" x2="507.5" y2="827.8" stroke="#9a9a9a" stroke-width="1.3"/>
<line x1="161.5" y1="1288.7" x2="507.5" y2="1288.7" stroke="#9a9a9a" stroke-width="1.3"/>
<line x1="161.5" y1="827.8" x2="161.5" y2="1288.7" stroke="#6a6a6a" stroke-width="1"/>
<line x1="158.5" y1="834.7" x2="161.5" y2="834.7" stroke="#444" stroke-width="0.8"/>
<text x="157.0" y="833.3" font-size="10" text-anchor="end" fill="#222">Intestinal immune network</text>
<text x="157.0" y="844.5" font-size="10" text-anchor="end" fill="#222">for IgA production</text>
<circle cx="184.2" cy="834.7" r="7" fill="#e65c59" stroke="#6a2020" stroke-width="0.8"/>
<circle cx="334.6" cy="834.7" r="4.5" fill="#e65c59" stroke="#6a2020" stroke-width="0.8"/>
<line x1="158.5" y1="846.8" x2="161.5" y2="846.8" stroke="#444" stroke-width="0.8"/>
<text x="157.0" y="851.1" font-size="10" text-anchor="end" fill="#222">Asthma</text>
<circle cx="184.2" cy="846.8" r="7" fill="#e65c59" stroke="#6a2020" stroke-width="0.8"/>
<circle cx="334.6" cy="846.8" r="4" fill="#e65c59" stroke="#6a2020" stroke-width="0.8"/>
<line x1="158.5" y1="858.9" x2="161.5" y2="858.9" stroke="#444" stroke-width="0.8"/>
<text x="157.0" y="863.2" font-size="10" text-anchor="end" fill="#222">Hematopoietic cell lineage</text>
<circle cx="184.2" cy="858.9" r="7" fill="#e65c59" stroke="#6a2020" stroke-width="0.8"/>
<circle cx="334.6" cy="858.9" r="5" fill="#e65c59" stroke="#6a2020" stroke-width="0.8"/>
<circle cx="409.8" cy="858.9" r="5" fill="#e65c59" stroke="#6a2020" stroke-width="0.8"/>
<line x1="158.5" y1="871.0" x2="161.5" y2="871.0" stroke="#444" stroke-width="0.8"/>
<text x="157.0" y="875.3" font-size="10" text-anchor="end" fill="#222">Allograft rejection</text>
<circle cx="184.2" cy="871.0" r="7" fill="#e65c59" stroke="#6a2020" stroke-width="0.8"/>
<circle cx="334.6" cy="871.0" r="4" fill="#e65c59" stroke="#6a2020" stroke-width="0.8"/>
<line x1="158.5" y1="883.0" x2="161.5" y2="883.0" stroke="#444" stroke-width="0.8"/>
<text x="157.0" y="887.3" font-size="10" text-anchor="end" fill="#222">Epstein−Barr virus infection</text>
<circle cx="184.2" cy="883.0" r="7" fill="#e65c59" stroke="#6a2020" stroke-width="0.8"/>
<circle cx="334.6" cy="883.0" r="5" fill="#e65c59" stroke="#6a2020" stroke-width="0.8"/>
<circle cx="409.8" cy="883.0" r="5.5" fill="#e65c59" stroke="#6a2020" stroke-width="0.8"/>
<line x1="158.5" y1="895.1" x2="161.5" y2="895.1" stroke="#444" stroke-width="0.8"/>
<text x="157.0" y="899.4" font-size="10" text-anchor="end" fill="#222">Leishmaniasis</text>
<circle cx="184.2" cy="895.1" r="7" fill="#e65c59" stroke="#6a2020" stroke-width="0.8"/>
<circle cx="334.6" cy="895.1" r="6" fill="#e65c59" stroke="#6a2020" stroke-width="0.8"/>
<line x1="158.5" y1="907.2" x2="161.5" y2="907.2" stroke="#444" stroke-width="0.8"/>
<text x="157.0" y="911.5" font-size="10" text-anchor="end" fill="#222">NF−kappa B signaling pathway</text>
<circle cx="184.2" cy="907.2" r="7" fill="#e65c59" stroke="#6a2020" stroke-width="0.8"/>
<circle cx="334.6" cy="907.2" r="5" fill="#e65c59" stroke="#6a2020" stroke-width="0.8"/>
<circle cx="485.0" cy="907.2" r="7.5" fill="#e65c59" stroke="#6a2020" stroke-width="0.8"/>
<line x1="158.5" y1="919.3" x2="161.5" y2="919.3" stroke="#444" stroke-width="0.8"/>
<text x="157.0" y="923.6" font-size="10" text-anchor="end" fill="#222">Rheumatoid arthritis</text>
<circle cx="184.2" cy="919.3" r="7" fill="#e65c59" stroke="#6a2020" stroke-width="0.8"/>
<circle cx="334.6" cy="919.3" r="6" fill="#e65c59" stroke="#6a2020" stroke-width="0.8"/>
<line x1="158.5" y1="931.4" x2="161.5" y2="931.4" stroke="#444" stroke-width="0.8"/>
<text x="157.0" y="935.7" font-size="10" text-anchor="end" fill="#222">Cell adhesion molecules</text>
<circle cx="184.2" cy="931.4" r="7" fill="#e65c59" stroke="#6a2020" stroke-width="0.8"/>
<circle cx="221.8" cy="931.4" r="4" fill="#5a64a0" stroke="#6a2020" stroke-width="0.8"/>
<circle cx="334.6" cy="931.4" r="5" fill="#e65c59" stroke="#6a2020" stroke-width="0.8"/>
<circle cx="409.8" cy="931.4" r="5" fill="#e65c59" stroke="#6a2020" stroke-width="0.8"/>
<circle cx="485.0" cy="931.4" r="6.5" fill="#b0505e" stroke="#6a2020" stroke-width="0.8"/>
<line x1="158.5" y1="943.5" x2="161.5" y2="943.5" stroke="#444" stroke-width="0.8"/>
<text x="157.0" y="947.8" font-size="10" text-anchor="end" fill="#222">Primary immunodeficiency</text>
<circle cx="184.2" cy="943.5" r="6" fill="#e65c59" stroke="#6a2020" stroke-width="0.8"/>
<circle cx="409.8" cy="943.5" r="5" fill="#e65c59" stroke="#6a2020" stroke-width="0.8"/>
<line x1="158.5" y1="955.6" x2="161.5" y2="955.6" stroke="#444" stroke-width="0.8"/>
<text x="157.0" y="959.9" font-size="10" text-anchor="end" fill="#222">Phagosome</text>
<circle cx="184.2" cy="955.6" r="6.5" fill="#e65c59" stroke="#6a2020" stroke-width="0.8"/>
<circle cx="297.0" cy="955.6" r="5" fill="#e65c59" stroke="#6a2020" stroke-width="0.8"/>
<circle cx="334.6" cy="955.6" r="6" fill="#e65c59" stroke="#6a2020" stroke-width="0.8"/>
<line x1="158.5" y1="967.6" x2="161.5" y2="967.6" stroke="#444" stroke-width="0.8"/>
<text x="157.0" y="971.9" font-size="10" text-anchor="end" fill="#222">Tuberculosis</text>
<circle cx="184.2" cy="967.6" r="6.5" fill="#e65c59" stroke="#6a2020" stroke-width="0.8"/>
<circle cx="334.6" cy="967.6" r="6.5" fill="#e65c59" stroke="#6a2020" stroke-width="0.8"/>
<line x1="158.5" y1="979.7" x2="161.5" y2="979.7" stroke="#444" stroke-width="0.8"/>
<text x="157.0" y="984.0" font-size="10" text-anchor="end" fill="#222">Apoptosis</text>
<circle cx="184.2" cy="979.7" r="5.5" fill="#2f70b5" stroke="#6a2020" stroke-width="0.8"/>
<circle cx="334.6" cy="979.7" r="4.5" fill="#e65c59" stroke="#6a2020" stroke-width="0.8"/>
<circle cx="372.2" cy="979.7" r="5.5" fill="#c05566" stroke="#6a2020" stroke-width="0.8"/>
<line x1="158.5" y1="991.8" x2="161.5" y2="991.8" stroke="#444" stroke-width="0.8"/>
<text x="157.0" y="996.1" font-size="10" text-anchor="end" fill="#222">Cytoskeleton in muscle cells</text>
<circle cx="221.8" cy="991.8" r="6" fill="#e65c59" stroke="#6a2020" stroke-width="0.8"/>
<circle cx="297.0" cy="991.8" r="6.5" fill="#e65c59" stroke="#6a2020" stroke-width="0.8"/>
<line x1="158.5" y1="1003.9" x2="161.5" y2="1003.9" stroke="#444" stroke-width="0.8"/>
<text x="157.0" y="1008.2" font-size="10" text-anchor="end" fill="#222">Focal adhesion</text>
<circle cx="221.8" cy="1003.9" r="5.5" fill="#e65c59" stroke="#6a2020" stroke-width="0.8"/>
<circle cx="297.0" cy="1003.9" r="5.5" fill="#e65c59" stroke="#6a2020" stroke-width="0.8"/>
<circle cx="409.8" cy="1003.9" r="5.5" fill="#e65c59" stroke="#6a2020" stroke-width="0.8"/>
<line x1="158.5" y1="1016.0" x2="161.5" y2="1016.0" stroke="#444" stroke-width="0.8"/>
<text x="157.0" y="1014.6" font-size="10" text-anchor="end" fill="#222">AGE−RAGE signaling pathway</text>
<text x="157.0" y="1025.8" font-size="10" text-anchor="end" fill="#222">in diabetic complications</text>
<circle cx="221.8" cy="1016.0" r="5" fill="#e65c59" stroke="#6a2020" stroke-width="0.8"/>
<line x1="158.5" y1="1028.1" x2="161.5" y2="1028.1" stroke="#444" stroke-width="0.8"/>
<text x="157.0" y="1032.4" font-size="10" text-anchor="end" fill="#222">ECM−receptor interaction</text>
<circle cx="221.8" cy="1028.1" r="5" fill="#e65c59" stroke="#6a2020" stroke-width="0.8"/>
<circle cx="297.0" cy="1028.1" r="4.5" fill="#e65c59" stroke="#6a2020" stroke-width="0.8"/>
<line x1="158.5" y1="1040.2" x2="161.5" y2="1040.2" stroke="#444" stroke-width="0.8"/>
<text x="157.0" y="1038.8" font-size="10" text-anchor="end" fill="#222">Complement and coagulation</text>
<text x="157.0" y="1050.0" font-size="10" text-anchor="end" fill="#222">cascades</text>
<circle cx="221.8" cy="1040.2" r="5" fill="#e65c59" stroke="#6a2020" stroke-width="0.8"/>
<circle cx="297.0" cy="1040.2" r="4.5" fill="#e65c59" stroke="#6a2020" stroke-width="0.8"/>
<circle cx="334.6" cy="1040.2" r="4" fill="#e65c59" stroke="#6a2020" stroke-width="0.8"/>
<line x1="158.5" y1="1052.2" x2="161.5" y2="1052.2" stroke="#444" stroke-width="0.8"/>
<text x="157.0" y="1056.5" font-size="10" text-anchor="end" fill="#222">Proteoglycans in cancer</text>
<circle cx="221.8" cy="1052.2" r="5" fill="#e65c59" stroke="#6a2020" stroke-width="0.8"/>
<circle cx="297.0" cy="1052.2" r="5.5" fill="#e65c59" stroke="#6a2020" stroke-width="0.8"/>
<circle cx="334.6" cy="1052.2" r="4.5" fill="#c05566" stroke="#6a2020" stroke-width="0.8"/>
<circle cx="409.8" cy="1052.2" r="5.5" fill="#e65c59" stroke="#6a2020" stroke-width="0.8"/>
<line x1="158.5" y1="1064.3" x2="161.5" y2="1064.3" stroke="#444" stroke-width="0.8"/>
<text x="157.0" y="1062.9" font-size="10" text-anchor="end" fill="#222">Chemical carcinogenesis −</text>
<text x="157.0" y="1074.1" font-size="10" text-anchor="end" fill="#222">reactive oxygen species</text>
<circle cx="259.4" cy="1064.3" r="5.5" fill="#e65c59" stroke="#6a2020" stroke-width="0.8"/>
<line x1="158.5" y1="1076.4" x2="161.5" y2="1076.4" stroke="#444" stroke-width="0.8"/>
<text x="157.0" y="1080.7" font-size="10" text-anchor="end" fill="#222">Diabetic cardiomyopathy</text>
<circle cx="259.4" cy="1076.4" r="5.5" fill="#e65c59" stroke="#6a2020" stroke-width="0.8"/>
<line x1="158.5" y1="1088.5" x2="161.5" y2="1088.5" stroke="#444" stroke-width="0.8"/>
<text x="157.0" y="1092.8" font-size="10" text-anchor="end" fill="#222">Parkinson disease</text>
<circle cx="259.4" cy="1088.5" r="6" fill="#e65c59" stroke="#6a2020" stroke-width="0.8"/>
<line x1="158.5" y1="1100.6" x2="161.5" y2="1100.6" stroke="#444" stroke-width="0.8"/>
<text x="157.0" y="1104.9" font-size="10" text-anchor="end" fill="#222">Oxidative phosphorylation</text>
<circle cx="259.4" cy="1100.6" r="5.5" fill="#e65c59" stroke="#6a2020" stroke-width="0.8"/>
<line x1="158.5" y1="1112.7" x2="161.5" y2="1112.7" stroke="#444" stroke-width="0.8"/>
<text x="157.0" y="1117.0" font-size="10" text-anchor="end" fill="#222">Prion disease</text>
<circle cx="259.4" cy="1112.7" r="5.5" fill="#e65c59" stroke="#6a2020" stroke-width="0.8"/>
<line x1="158.5" y1="1124.8" x2="161.5" y2="1124.8" stroke="#444" stroke-width="0.8"/>
<text x="157.0" y="1129.1" font-size="10" text-anchor="end" fill="#222">Lysosome</text>
<circle cx="297.0" cy="1124.8" r="4.5" fill="#e65c59" stroke="#6a2020" stroke-width="0.8"/>
<circle cx="334.6" cy="1124.8" r="5.5" fill="#e65c59" stroke="#6a2020" stroke-width="0.8"/>
<line x1="158.5" y1="1136.9" x2="161.5" y2="1136.9" stroke="#444" stroke-width="0.8"/>
<text x="157.0" y="1135.5" font-size="10" text-anchor="end" fill="#222">Protein processing in</text>
<text x="157.0" y="1146.7" font-size="10" text-anchor="end" fill="#222">endoplasmic reticulum</text>
<circle cx="297.0" cy="1136.9" r="4" fill="#b05a70" stroke="#6a2020" stroke-width="0.8"/>
<circle cx="447.4" cy="1136.9" r="9" fill="#e65c59" stroke="#6a2020" stroke-width="0.8"/>
<line x1="158.5" y1="1148.9" x2="161.5" y2="1148.9" stroke="#444" stroke-width="0.8"/>
<text x="157.0" y="1153.2" font-size="10" text-anchor="end" fill="#222">Osteoclast differentiation</text>
<circle cx="334.6" cy="1148.9" r="6" fill="#e65c59" stroke="#6a2020" stroke-width="0.8"/>
<circle cx="372.2" cy="1148.9" r="6" fill="#e65c59" stroke="#6a2020" stroke-width="0.8"/>
<line x1="158.5" y1="1161.0" x2="161.5" y2="1161.0" stroke="#444" stroke-width="0.8"/>
<text x="157.0" y="1165.3" font-size="10" text-anchor="end" fill="#222">Lipid and atherosclerosis</text>
<circle cx="334.6" cy="1161.0" r="6" fill="#e65c59" stroke="#6a2020" stroke-width="0.8"/>
<circle cx="447.4" cy="1161.0" r="5.5" fill="#e65c59" stroke="#6a2020" stroke-width="0.8"/>
<line x1="158.5" y1="1173.1" x2="161.5" y2="1173.1" stroke="#444" stroke-width="0.8"/>
<text x="157.0" y="1177.4" font-size="10" text-anchor="end" fill="#222">Yersinia infection</text>
<circle cx="334.6" cy="1173.1" r="5" fill="#e65c59" stroke="#6a2020" stroke-width="0.8"/>
<circle cx="409.8" cy="1173.1" r="6" fill="#e65c59" stroke="#6a2020" stroke-width="0.8"/>
<line x1="158.5" y1="1185.2" x2="161.5" y2="1185.2" stroke="#444" stroke-width="0.8"/>
<text x="157.0" y="1183.8" font-size="10" text-anchor="end" fill="#222">Natural killer cell mediated</text>
<text x="157.0" y="1195.0" font-size="10" text-anchor="end" fill="#222">cytotoxicity</text>
<circle cx="334.6" cy="1185.2" r="4.5" fill="#e65c59" stroke="#6a2020" stroke-width="0.8"/>
<circle cx="409.8" cy="1185.2" r="6" fill="#e65c59" stroke="#6a2020" stroke-width="0.8"/>
<line x1="158.5" y1="1197.3" x2="161.5" y2="1197.3" stroke="#444" stroke-width="0.8"/>
<text x="157.0" y="1201.6" font-size="10" text-anchor="end" fill="#222">TNF signaling pathway</text>
<circle cx="334.6" cy="1197.3" r="4.5" fill="#e65c59" stroke="#6a2020" stroke-width="0.8"/>
<circle cx="372.2" cy="1197.3" r="6" fill="#e65c59" stroke="#6a2020" stroke-width="0.8"/>
<circle cx="485.0" cy="1197.3" r="7" fill="#e65c59" stroke="#6a2020" stroke-width="0.8"/>
<line x1="158.5" y1="1209.4" x2="161.5" y2="1209.4" stroke="#444" stroke-width="0.8"/>
<text x="157.0" y="1213.7" font-size="10" text-anchor="end" fill="#222">Measles</text>
<circle cx="334.6" cy="1209.4" r="4" fill="#9a5a88" stroke="#6a2020" stroke-width="0.8"/>
<circle cx="409.8" cy="1209.4" r="5.5" fill="#e65c59" stroke="#6a2020" stroke-width="0.8"/>
<line x1="158.5" y1="1221.5" x2="161.5" y2="1221.5" stroke="#444" stroke-width="0.8"/>
<text x="157.0" y="1225.8" font-size="10" text-anchor="end" fill="#222">Arachidonic acid metabolism</text>
<circle cx="372.2" cy="1221.5" r="6" fill="#e65c59" stroke="#6a2020" stroke-width="0.8"/>
<line x1="158.5" y1="1233.5" x2="161.5" y2="1233.5" stroke="#444" stroke-width="0.8"/>
<text x="157.0" y="1232.1" font-size="10" text-anchor="end" fill="#222">Fc epsilon RI signaling</text>
<text x="157.0" y="1243.3" font-size="10" text-anchor="end" fill="#222">pathway</text>
<circle cx="372.2" cy="1233.5" r="6" fill="#e65c59" stroke="#6a2020" stroke-width="0.8"/>
<circle cx="409.8" cy="1233.5" r="4.5" fill="#c85a66" stroke="#6a2020" stroke-width="0.8"/>
<line x1="158.5" y1="1245.6" x2="161.5" y2="1245.6" stroke="#444" stroke-width="0.8"/>
<text x="157.0" y="1244.2" font-size="10" text-anchor="end" fill="#222">T cell receptor signaling</text>
<text x="157.0" y="1255.4" font-size="10" text-anchor="end" fill="#222">pathway</text>
<circle cx="409.8" cy="1245.6" r="6" fill="#e65c59" stroke="#6a2020" stroke-width="0.8"/>
<line x1="158.5" y1="1257.7" x2="161.5" y2="1257.7" stroke="#444" stroke-width="0.8"/>
<text x="157.0" y="1262.0" font-size="10" text-anchor="end" fill="#222">Protein export</text>
<circle cx="447.4" cy="1257.7" r="6" fill="#e65c59" stroke="#6a2020" stroke-width="0.8"/>
<line x1="158.5" y1="1269.8" x2="161.5" y2="1269.8" stroke="#444" stroke-width="0.8"/>
<text x="157.0" y="1274.1" font-size="10" text-anchor="end" fill="#222">Thyroid hormone synthesis</text>
<circle cx="447.4" cy="1269.8" r="5" fill="#e65c59" stroke="#6a2020" stroke-width="0.8"/>
<line x1="158.5" y1="1281.9" x2="161.5" y2="1281.9" stroke="#444" stroke-width="0.8"/>
<text x="157.0" y="1286.2" font-size="10" text-anchor="end" fill="#222">Cocaine addiction</text>
<circle cx="447.4" cy="1281.9" r="4.5" fill="#e65c59" stroke="#6a2020" stroke-width="0.8"/>
<line x1="184.2" y1="1288.7" x2="184.2" y2="1291.7" stroke="#444" stroke-width="0.8"/>
<text transform="translate(189.7,1299.2) rotate(-45)" font-size="10" text-anchor="end" fill="#333">B cells</text>
<text transform="translate(197.2,1306.7) rotate(-45)" font-size="10" text-anchor="end" fill="#333">(77)</text>
<line x1="221.8" y1="1288.7" x2="221.8" y2="1291.7" stroke="#444" stroke-width="0.8"/>
<text transform="translate(227.3,1299.2) rotate(-45)" font-size="10" text-anchor="end" fill="#333">Endothelial cells</text>
<text transform="translate(234.8,1306.7) rotate(-45)" font-size="10" text-anchor="end" fill="#333">(252)</text>
<line x1="259.4" y1="1288.7" x2="259.4" y2="1291.7" stroke="#444" stroke-width="0.8"/>
<text transform="translate(264.9,1299.2) rotate(-45)" font-size="10" text-anchor="end" fill="#333">Epithelial cells</text>
<text transform="translate(272.4,1306.7) rotate(-45)" font-size="10" text-anchor="end" fill="#333">(456)</text>
<line x1="297.0" y1="1288.7" x2="297.0" y2="1291.7" stroke="#444" stroke-width="0.8"/>
<text transform="translate(302.5,1299.2) rotate(-45)" font-size="10" text-anchor="end" fill="#333">Fibroblasts</text>
<text transform="translate(310.0,1306.7) rotate(-45)" font-size="10" text-anchor="end" fill="#333">(367)</text>
<line x1="334.6" y1="1288.7" x2="334.6" y2="1291.7" stroke="#444" stroke-width="0.8"/>
<text transform="translate(340.1,1299.2) rotate(-45)" font-size="10" text-anchor="end" fill="#333">Macrophages</text>
<text transform="translate(347.6,1306.7) rotate(-45)" font-size="10" text-anchor="end" fill="#333">(262)</text>
<line x1="372.2" y1="1288.7" x2="372.2" y2="1291.7" stroke="#444" stroke-width="0.8"/>
<text transform="translate(377.7,1299.2) rotate(-45)" font-size="10" text-anchor="end" fill="#333">Mast cells</text>
<text transform="translate(385.2,1306.7) rotate(-45)" font-size="10" text-anchor="end" fill="#333">(63)</text>
<line x1="409.8" y1="1288.7" x2="409.8" y2="1291.7" stroke="#444" stroke-width="0.8"/>
<text transform="translate(415.3,1299.2) rotate(-45)" font-size="10" text-anchor="end" fill="#333">NK/T cells</text>
<text transform="translate(422.8,1306.7) rotate(-45)" font-size="10" text-anchor="end" fill="#333">(115)</text>
<line x1="447.4" y1="1288.7" x2="447.4" y2="1291.7" stroke="#444" stroke-width="0.8"/>
<text transform="translate(452.9,1299.2) rotate(-45)" font-size="10" text-anchor="end" fill="#333">Plasma cells</text>
<text transform="translate(460.4,1306.7) rotate(-45)" font-size="10" text-anchor="end" fill="#333">(80)</text>
<line x1="485.0" y1="1288.7" x2="485.0" y2="1291.7" stroke="#444" stroke-width="0.8"/>
<text transform="translate(490.5,1299.2) rotate(-45)" font-size="10" text-anchor="end" fill="#333">T cells</text>
<text transform="translate(498.0,1306.7) rotate(-45)" font-size="10" text-anchor="end" fill="#333">(28)</text>
<text x="335" y="1370" font-size="11.5" text-anchor="middle" fill="#222">Cluster</text>
<rect x="162.6" y="1116.5" width="48" height="164" fill="#fff"/>
<text x="174.2" y="1128.6" font-size="7.8" fill="#333">pvalue</text>
<defs><linearGradient id="pv" x1="0" x2="0" y1="0" y2="1"><stop offset="0" stop-color="#e2545a"/><stop offset="0.5" stop-color="#9a5a88"/><stop offset="1" stop-color="#3a80c2"/></linearGradient></defs>
<rect x="174.2" y="1134.2" width="12.1" height="61.9" fill="url(#pv)"/>
<line x1="174.2" y1="1153.7" x2="176.6" y2="1153.7" stroke="#fff" stroke-width="0.7"/><line x1="183.9" y1="1153.7" x2="186.3" y2="1153.7" stroke="#fff" stroke-width="0.7"/>
<text x="190.2" y="1155.9" font-size="6.3" fill="#444">0.002</text>
<line x1="174.2" y1="1172.3" x2="176.6" y2="1172.3" stroke="#fff" stroke-width="0.7"/><line x1="183.9" y1="1172.3" x2="186.3" y2="1172.3" stroke="#fff" stroke-width="0.7"/>
<text x="190.2" y="1174.5" font-size="6.3" fill="#444">0.004</text>
<line x1="174.2" y1="1191.4" x2="176.6" y2="1191.4" stroke="#fff" stroke-width="0.7"/><line x1="183.9" y1="1191.4" x2="186.3" y2="1191.4" stroke="#fff" stroke-width="0.7"/>
<text x="190.2" y="1193.6000000000001" font-size="6.3" fill="#444">0.006</text>
<text x="174.5" y="1219.3" font-size="7.8" fill="#333">GeneRatio</text>
<circle cx="181.1" cy="1230.5" r="4.9" fill="none" stroke="#222" stroke-width="0.9"/>
<text x="193" y="1232.7" font-size="6.4" fill="#444">0.1</text>
<circle cx="181.1" cy="1242.8" r="5.2" fill="none" stroke="#222" stroke-width="0.9"/>
<text x="193" y="1245.0" font-size="6.4" fill="#444">0.2</text>
<circle cx="181.1" cy="1256.9" r="5.65" fill="none" stroke="#222" stroke-width="0.9"/>
<text x="193" y="1259.1000000000001" font-size="6.4" fill="#444">0.3</text>
<circle cx="181.1" cy="1271.6" r="7" fill="none" stroke="#222" stroke-width="0.9"/>
<text x="193" y="1273.8" font-size="6.4" fill="#444">0.4</text>
</g><g id="panelF">
<line x1="557.3" y1="821.3" x2="557.3" y2="1014.7" stroke="#222" stroke-width="1.4"/>
<line x1="557.3" y1="1014.7" x2="766.7" y2="1014.7" stroke="#222" stroke-width="1.4"/>
<line x1="554.5" y1="828.5" x2="557.3" y2="828.5" stroke="#333" stroke-width="0.7"/>
<text x="552.5" y="830.2" font-size="4.8" text-anchor="end" fill="#555">1.00</text>
<line x1="554.5" y1="872.9" x2="557.3" y2="872.9" stroke="#333" stroke-width="0.7"/>
<text x="552.5" y="874.6" font-size="4.8" text-anchor="end" fill="#555">0.75</text>
<line x1="554.5" y1="917.2" x2="557.3" y2="917.2" stroke="#333" stroke-width="0.7"/>
<text x="552.5" y="918.9" font-size="4.8" text-anchor="end" fill="#555">0.50</text>
<line x1="554.5" y1="961.5" x2="557.3" y2="961.5" stroke="#333" stroke-width="0.7"/>
<text x="552.5" y="963.2" font-size="4.8" text-anchor="end" fill="#555">0.25</text>
<line x1="554.5" y1="1005.9" x2="557.3" y2="1005.9" stroke="#333" stroke-width="0.7"/>
<text x="552.5" y="1007.6" font-size="4.8" text-anchor="end" fill="#555">0.00</text>
<text transform="translate(539.8,917) rotate(-90)" font-size="6.6" text-anchor="middle" fill="#333">Proportion</text>
<rect x="585.9" y="828.50" width="56.8" height="21.23" fill="#23894e"/>
<rect x="585.9" y="849.43" width="56.8" height="0.65" fill="#808080"/>
<rect x="585.9" y="849.79" width="56.8" height="78.00" fill="#1170bd"/>
<rect x="585.9" y="927.49" width="56.8" height="1.36" fill="#6e9bb0"/>
<rect x="585.9" y="928.55" width="56.8" height="16.27" fill="#e3892b"/>
<rect x="585.9" y="944.52" width="56.8" height="1.01" fill="#e83e9c"/>
<rect x="585.9" y="945.23" width="56.8" height="46.96" fill="#c33b29"/>
<rect x="585.9" y="991.89" width="56.8" height="2.43" fill="#fdd592"/>
<rect x="585.9" y="994.01" width="56.8" height="12.19" fill="#7875bd"/>
<text x="614.3" y="841.2" font-size="6.3" text-anchor="middle" fill="#151515">0.12</text>
<text x="614.3" y="851.8" font-size="6.3" text-anchor="middle" fill="#151515">0.00</text>
<text x="614.3" y="890.8" font-size="6.3" text-anchor="middle" fill="#151515">0.44</text>
<text x="614.3" y="930.2" font-size="6.3" text-anchor="middle" fill="#151515">0.00</text>
<text x="614.3" y="938.7" font-size="6.3" text-anchor="middle" fill="#151515">0.09</text>
<text x="614.3" y="947.1" font-size="6.3" text-anchor="middle" fill="#151515">0.01</text>
<text x="614.3" y="970.8" font-size="6.3" text-anchor="middle" fill="#151515">0.26</text>
<text x="614.3" y="995.1" font-size="6.3" text-anchor="middle" fill="#151515">0.01</text>
<text x="614.3" y="1002.2" font-size="6.3" text-anchor="middle" fill="#151515">0.07</text>
<line x1="614.3" y1="1014.7" x2="614.3" y2="1017" stroke="#333" stroke-width="0.7"/>
<text x="614.3" y="1022" font-size="5" text-anchor="middle" fill="#555">carcinoma</text>
<rect x="681.6" y="828.50" width="56.5" height="27.80" fill="#23894e"/>
<rect x="681.6" y="856.00" width="56.5" height="1.19" fill="#808080"/>
<rect x="681.6" y="856.88" width="56.5" height="30.81" fill="#1170bd"/>
<rect x="681.6" y="887.40" width="56.5" height="6.15" fill="#6e9bb0"/>
<rect x="681.6" y="893.25" width="56.5" height="16.27" fill="#e3892b"/>
<rect x="681.6" y="909.22" width="56.5" height="0.48" fill="#e83e9c"/>
<rect x="681.6" y="909.39" width="56.5" height="85.10" fill="#c33b29"/>
<rect x="681.6" y="994.19" width="56.5" height="0.48" fill="#fdd592"/>
<rect x="681.6" y="994.37" width="56.5" height="12.01" fill="#7875bd"/>
<text x="709.9" y="844.4" font-size="6.3" text-anchor="middle" fill="#151515">0.16</text>
<text x="709.9" y="858.6" font-size="6.3" text-anchor="middle" fill="#151515">0.00</text>
<text x="709.9" y="874.3" font-size="6.3" text-anchor="middle" fill="#151515">0.17</text>
<text x="709.9" y="892.5" font-size="6.3" text-anchor="middle" fill="#151515">0.03</text>
<text x="709.9" y="903.4" font-size="6.3" text-anchor="middle" fill="#151515">0.09</text>
<text x="709.9" y="911.5" font-size="6.3" text-anchor="middle" fill="#151515">0.00</text>
<text x="709.9" y="954.0" font-size="6.3" text-anchor="middle" fill="#151515">0.48</text>
<text x="709.9" y="996.5" font-size="6.3" text-anchor="middle" fill="#151515">0.00</text>
<text x="709.9" y="1003.0" font-size="6.3" text-anchor="middle" fill="#151515">0.06</text>
<line x1="709.9" y1="1014.7" x2="709.9" y2="1017" stroke="#333" stroke-width="0.7"/>
<text x="709.9" y="1022" font-size="5" text-anchor="middle" fill="#555">normal</text>
<text x="777.3" y="871.3" font-size="6.9" fill="#222">Cells</text>
<rect x="778" y="876.2" width="8.8" height="9.6" fill="#23894e"/>
<text x="790.2" y="883.2" font-size="5.45" fill="#2a2a2a">B cells</text>
<rect x="778" y="886.4" width="8.8" height="9.6" fill="#808080"/>
<text x="790.2" y="893.4" font-size="5.45" fill="#2a2a2a">Endothelial cells</text>
<rect x="778" y="896.6" width="8.8" height="9.6" fill="#1170bd"/>
<text x="790.2" y="903.6" font-size="5.45" fill="#2a2a2a">Epithelial cells</text>
<rect x="778" y="906.8" width="8.8" height="9.6" fill="#6e9bb0"/>
<text x="790.2" y="913.8" font-size="5.45" fill="#2a2a2a">Fibroblasts</text>
<rect x="778" y="917.0" width="8.8" height="9.6" fill="#e3892b"/>
<text x="790.2" y="924.0" font-size="5.45" fill="#2a2a2a">Macrophages</text>
<rect x="778" y="927.2" width="8.8" height="9.6" fill="#e83e9c"/>
<text x="790.2" y="934.2" font-size="5.45" fill="#2a2a2a">Mast cells</text>
<rect x="778" y="937.5" width="8.8" height="9.6" fill="#c33b29"/>
<text x="790.2" y="944.5" font-size="5.45" fill="#2a2a2a">NK/T cells</text>
<rect x="778" y="947.7" width="8.8" height="9.6" fill="#fdd592"/>
<text x="790.2" y="954.7" font-size="5.45" fill="#2a2a2a">Plasma cells</text>
<rect x="778" y="957.9" width="8.8" height="9.6" fill="#7875bd"/>
<text x="790.2" y="964.9" font-size="5.45" fill="#2a2a2a">T cells</text>
</g><g id="panelG">
<line x1="619.5" y1="1105.7" x2="619.5" y2="1330.5" stroke="#444" stroke-width="1"/>
<line x1="619.5" y1="1330.5" x2="1167.7" y2="1330.5" stroke="#666" stroke-width="1.2"/>
<line x1="645.2" y1="1330.5" x2="645.2" y2="1332.7" stroke="#444" stroke-width="0.7"/>
<text x="645.2" y="1340" font-size="6.3" text-anchor="middle" fill="#777" textLength="14.5" lengthAdjust="spacingAndGlyphs">0.00</text>
<line x1="769.7" y1="1330.5" x2="769.7" y2="1332.7" stroke="#444" stroke-width="0.7"/>
<text x="769.7" y="1340" font-size="6.3" text-anchor="middle" fill="#777" textLength="14.5" lengthAdjust="spacingAndGlyphs">0.25</text>
<line x1="894.2" y1="1330.5" x2="894.2" y2="1332.7" stroke="#444" stroke-width="0.7"/>
<text x="894.2" y="1340" font-size="6.3" text-anchor="middle" fill="#777" textLength="14.5" lengthAdjust="spacingAndGlyphs">0.50</text>
<line x1="1018.8" y1="1330.5" x2="1018.8" y2="1332.7" stroke="#444" stroke-width="0.7"/>
<text x="1018.8" y="1340" font-size="6.3" text-anchor="middle" fill="#777" textLength="14.5" lengthAdjust="spacingAndGlyphs">0.75</text>
<line x1="1143.3" y1="1330.5" x2="1143.3" y2="1332.7" stroke="#444" stroke-width="0.7"/>
<text x="1143.3" y="1340" font-size="6.3" text-anchor="middle" fill="#777" textLength="14.5" lengthAdjust="spacingAndGlyphs">1.00</text>
<text x="894" y="1352" font-size="10" text-anchor="middle" fill="#222" textLength="44" lengthAdjust="spacingAndGlyphs">Proportion</text>
<rect x="645.20" y="1115.2" width="48.62" height="18.7" fill="#7875bd"/>
<rect x="693.52" y="1115.2" width="1.79" height="18.7" fill="#fdd592"/>
<rect x="695.01" y="1115.2" width="189.58" height="18.7" fill="#c33b29"/>
<rect x="884.29" y="1115.2" width="51.11" height="18.7" fill="#e3892b"/>
<rect x="935.09" y="1115.2" width="17.73" height="18.7" fill="#1170bd"/>
<rect x="952.53" y="1115.2" width="191.07" height="18.7" fill="#23894e"/>
<line x1="617" y1="1124.5" x2="619.7" y2="1124.5" stroke="#444" stroke-width="0.7"/>
<text x="615.5" y="1127.0" font-size="7.2" text-anchor="end" fill="#666">GSM4804246</text>
<rect x="645.20" y="1146.5" width="63.56" height="18.7" fill="#7875bd"/>
<rect x="708.46" y="1146.5" width="6.78" height="18.7" fill="#fdd592"/>
<rect x="714.93" y="1146.5" width="186.59" height="18.7" fill="#c33b29"/>
<rect x="901.22" y="1146.5" width="4.78" height="18.7" fill="#e83e9c"/>
<rect x="905.71" y="1146.5" width="121.84" height="18.7" fill="#e3892b"/>
<rect x="1027.24" y="1146.5" width="39.15" height="18.7" fill="#1170bd"/>
<rect x="1066.09" y="1146.5" width="77.51" height="18.7" fill="#23894e"/>
<line x1="617" y1="1155.8" x2="619.7" y2="1155.8" stroke="#444" stroke-width="0.7"/>
<text x="615.5" y="1158.3" font-size="7.2" text-anchor="end" fill="#666">GSM4804245</text>
<rect x="645.20" y="1177.8" width="9.76" height="18.7" fill="#7875bd"/>
<rect x="654.66" y="1177.8" width="195.06" height="18.7" fill="#c33b29"/>
<rect x="849.42" y="1177.8" width="62.06" height="18.7" fill="#e3892b"/>
<rect x="911.19" y="1177.8" width="36.16" height="18.7" fill="#6e9bb0"/>
<rect x="947.05" y="1177.8" width="169.95" height="18.7" fill="#1170bd"/>
<rect x="1116.70" y="1177.8" width="4.98" height="18.7" fill="#808080"/>
<rect x="1121.38" y="1177.8" width="22.22" height="18.7" fill="#23894e"/>
<line x1="617" y1="1187.2" x2="619.7" y2="1187.2" stroke="#444" stroke-width="0.7"/>
<text x="615.5" y="1189.7" font-size="7.2" text-anchor="end" fill="#666">GSM4804240</text>
<rect x="645.20" y="1209.1" width="30.19" height="18.7" fill="#7875bd"/>
<rect x="675.09" y="1209.1" width="7.77" height="18.7" fill="#fdd592"/>
<rect x="682.56" y="1209.1" width="172.94" height="18.7" fill="#c33b29"/>
<rect x="855.20" y="1209.1" width="4.78" height="18.7" fill="#e83e9c"/>
<rect x="859.68" y="1209.1" width="32.13" height="18.7" fill="#e3892b"/>
<rect x="891.51" y="1209.1" width="3.79" height="18.7" fill="#6e9bb0"/>
<rect x="895.00" y="1209.1" width="157.95" height="18.7" fill="#1170bd"/>
<rect x="1052.65" y="1209.1" width="90.95" height="18.7" fill="#23894e"/>
<line x1="617" y1="1218.5" x2="619.7" y2="1218.5" stroke="#444" stroke-width="0.7"/>
<text x="615.5" y="1221.0" font-size="7.2" text-anchor="end" fill="#666">GSM4804239</text>
<rect x="645.20" y="1240.5" width="34.17" height="18.7" fill="#7875bd"/>
<rect x="679.07" y="1240.5" width="7.27" height="18.7" fill="#fdd592"/>
<rect x="686.04" y="1240.5" width="386.33" height="18.7" fill="#c33b29"/>
<rect x="1072.07" y="1240.5" width="2.79" height="18.7" fill="#e83e9c"/>
<rect x="1074.56" y="1240.5" width="9.27" height="18.7" fill="#e3892b"/>
<rect x="1083.53" y="1240.5" width="2.29" height="18.7" fill="#6e9bb0"/>
<rect x="1085.52" y="1240.5" width="34.67" height="18.7" fill="#1170bd"/>
<rect x="1119.89" y="1240.5" width="23.71" height="18.7" fill="#23894e"/>
<line x1="617" y1="1249.8" x2="619.7" y2="1249.8" stroke="#444" stroke-width="0.7"/>
<text x="615.5" y="1252.3" font-size="7.2" text-anchor="end" fill="#666">GSM4804237</text>
<rect x="645.20" y="1271.8" width="38.16" height="18.7" fill="#7875bd"/>
<rect x="683.06" y="1271.8" width="3.79" height="18.7" fill="#fdd592"/>
<rect x="686.54" y="1271.8" width="94.94" height="18.7" fill="#c33b29"/>
<rect x="781.18" y="1271.8" width="30.19" height="18.7" fill="#e3892b"/>
<rect x="811.07" y="1271.8" width="316.10" height="18.7" fill="#1170bd"/>
<rect x="1126.86" y="1271.8" width="16.74" height="18.7" fill="#23894e"/>
<line x1="617" y1="1281.2" x2="619.7" y2="1281.2" stroke="#444" stroke-width="0.7"/>
<text x="615.5" y="1283.7" font-size="7.2" text-anchor="end" fill="#666">GSM4804236</text>
<rect x="645.20" y="1303.1" width="2.29" height="18.7" fill="#fdd592"/>
<rect x="647.19" y="1303.1" width="6.78" height="18.7" fill="#c33b29"/>
<rect x="653.67" y="1303.1" width="13.25" height="18.7" fill="#e3892b"/>
<rect x="666.62" y="1303.1" width="476.98" height="18.7" fill="#1170bd"/>
<line x1="617" y1="1312.5" x2="619.7" y2="1312.5" stroke="#444" stroke-width="0.7"/>
<text x="615.5" y="1315.0" font-size="7.2" text-anchor="end" fill="#666">GSM4804234</text>
<text x="713.3" y="1078.3" font-size="9.3" fill="#222">Cells</text>
<rect x="740.0" y="1057.3" width="14.3" height="14.4" fill="#23894e"/>
<text x="758.3" y="1067.1" font-size="7.5" fill="#2a2a2a">B cells</text>
<rect x="820.0" y="1057.3" width="14.3" height="14.4" fill="#1170bd"/>
<text x="838.3" y="1067.1" font-size="7.5" fill="#2a2a2a">Epithelial cells</text>
<rect x="894.3" y="1057.3" width="14.3" height="14.4" fill="#e3892b"/>
<text x="912.6" y="1067.1" font-size="7.5" fill="#2a2a2a">Macrophages</text>
<rect x="965.7" y="1057.3" width="14.3" height="14.4" fill="#c33b29"/>
<text x="984.0" y="1067.1" font-size="7.5" fill="#2a2a2a">NK/T cells</text>
<rect x="1033.3" y="1057.3" width="14.3" height="14.4" fill="#7875bd"/>
<text x="1051.6" y="1067.1" font-size="7.5" fill="#2a2a2a">T cells</text>
<rect x="740.0" y="1077.3" width="14.3" height="14.4" fill="#808080"/>
<text x="758.3" y="1087.1" font-size="7.5" fill="#2a2a2a">Endothelial cells</text>
<rect x="820.0" y="1077.3" width="14.3" height="14.4" fill="#6e9bb0"/>
<text x="838.3" y="1087.1" font-size="7.5" fill="#2a2a2a">Fibroblasts</text>
<rect x="894.3" y="1077.3" width="14.3" height="14.4" fill="#e83e9c"/>
<text x="912.6" y="1087.1" font-size="7.5" fill="#2a2a2a">Mast cells</text>
<rect x="965.7" y="1077.3" width="14.3" height="14.4" fill="#fdd592"/>
<text x="984.0" y="1087.1" font-size="7.5" fill="#2a2a2a">Plasma cells</text>
</g>
<text x="2.2" y="18.2" font-family="Liberation Serif, serif" font-size="22.5" fill="#222">A</text><text x="854.6" y="18.2" font-family="Liberation Serif, serif" font-size="22.5" fill="#222">B</text><text x="2.0" y="507.4" font-family="Liberation Serif, serif" font-size="22.5" fill="#222">C</text><text x="834.8" y="376.1" font-family="Liberation Serif, serif" font-size="22.5" fill="#222">D</text><text x="2.6" y="817.2" font-family="Liberation Serif, serif" font-size="22.5" fill="#222">E</text><text x="524.6" y="816.8" font-family="Liberation Serif, serif" font-size="22.5" fill="#222">F</text><text x="523.6" y="1062.9" font-family="Liberation Serif, serif" font-size="22.5" fill="#222">G</text>
</svg></body></html>
